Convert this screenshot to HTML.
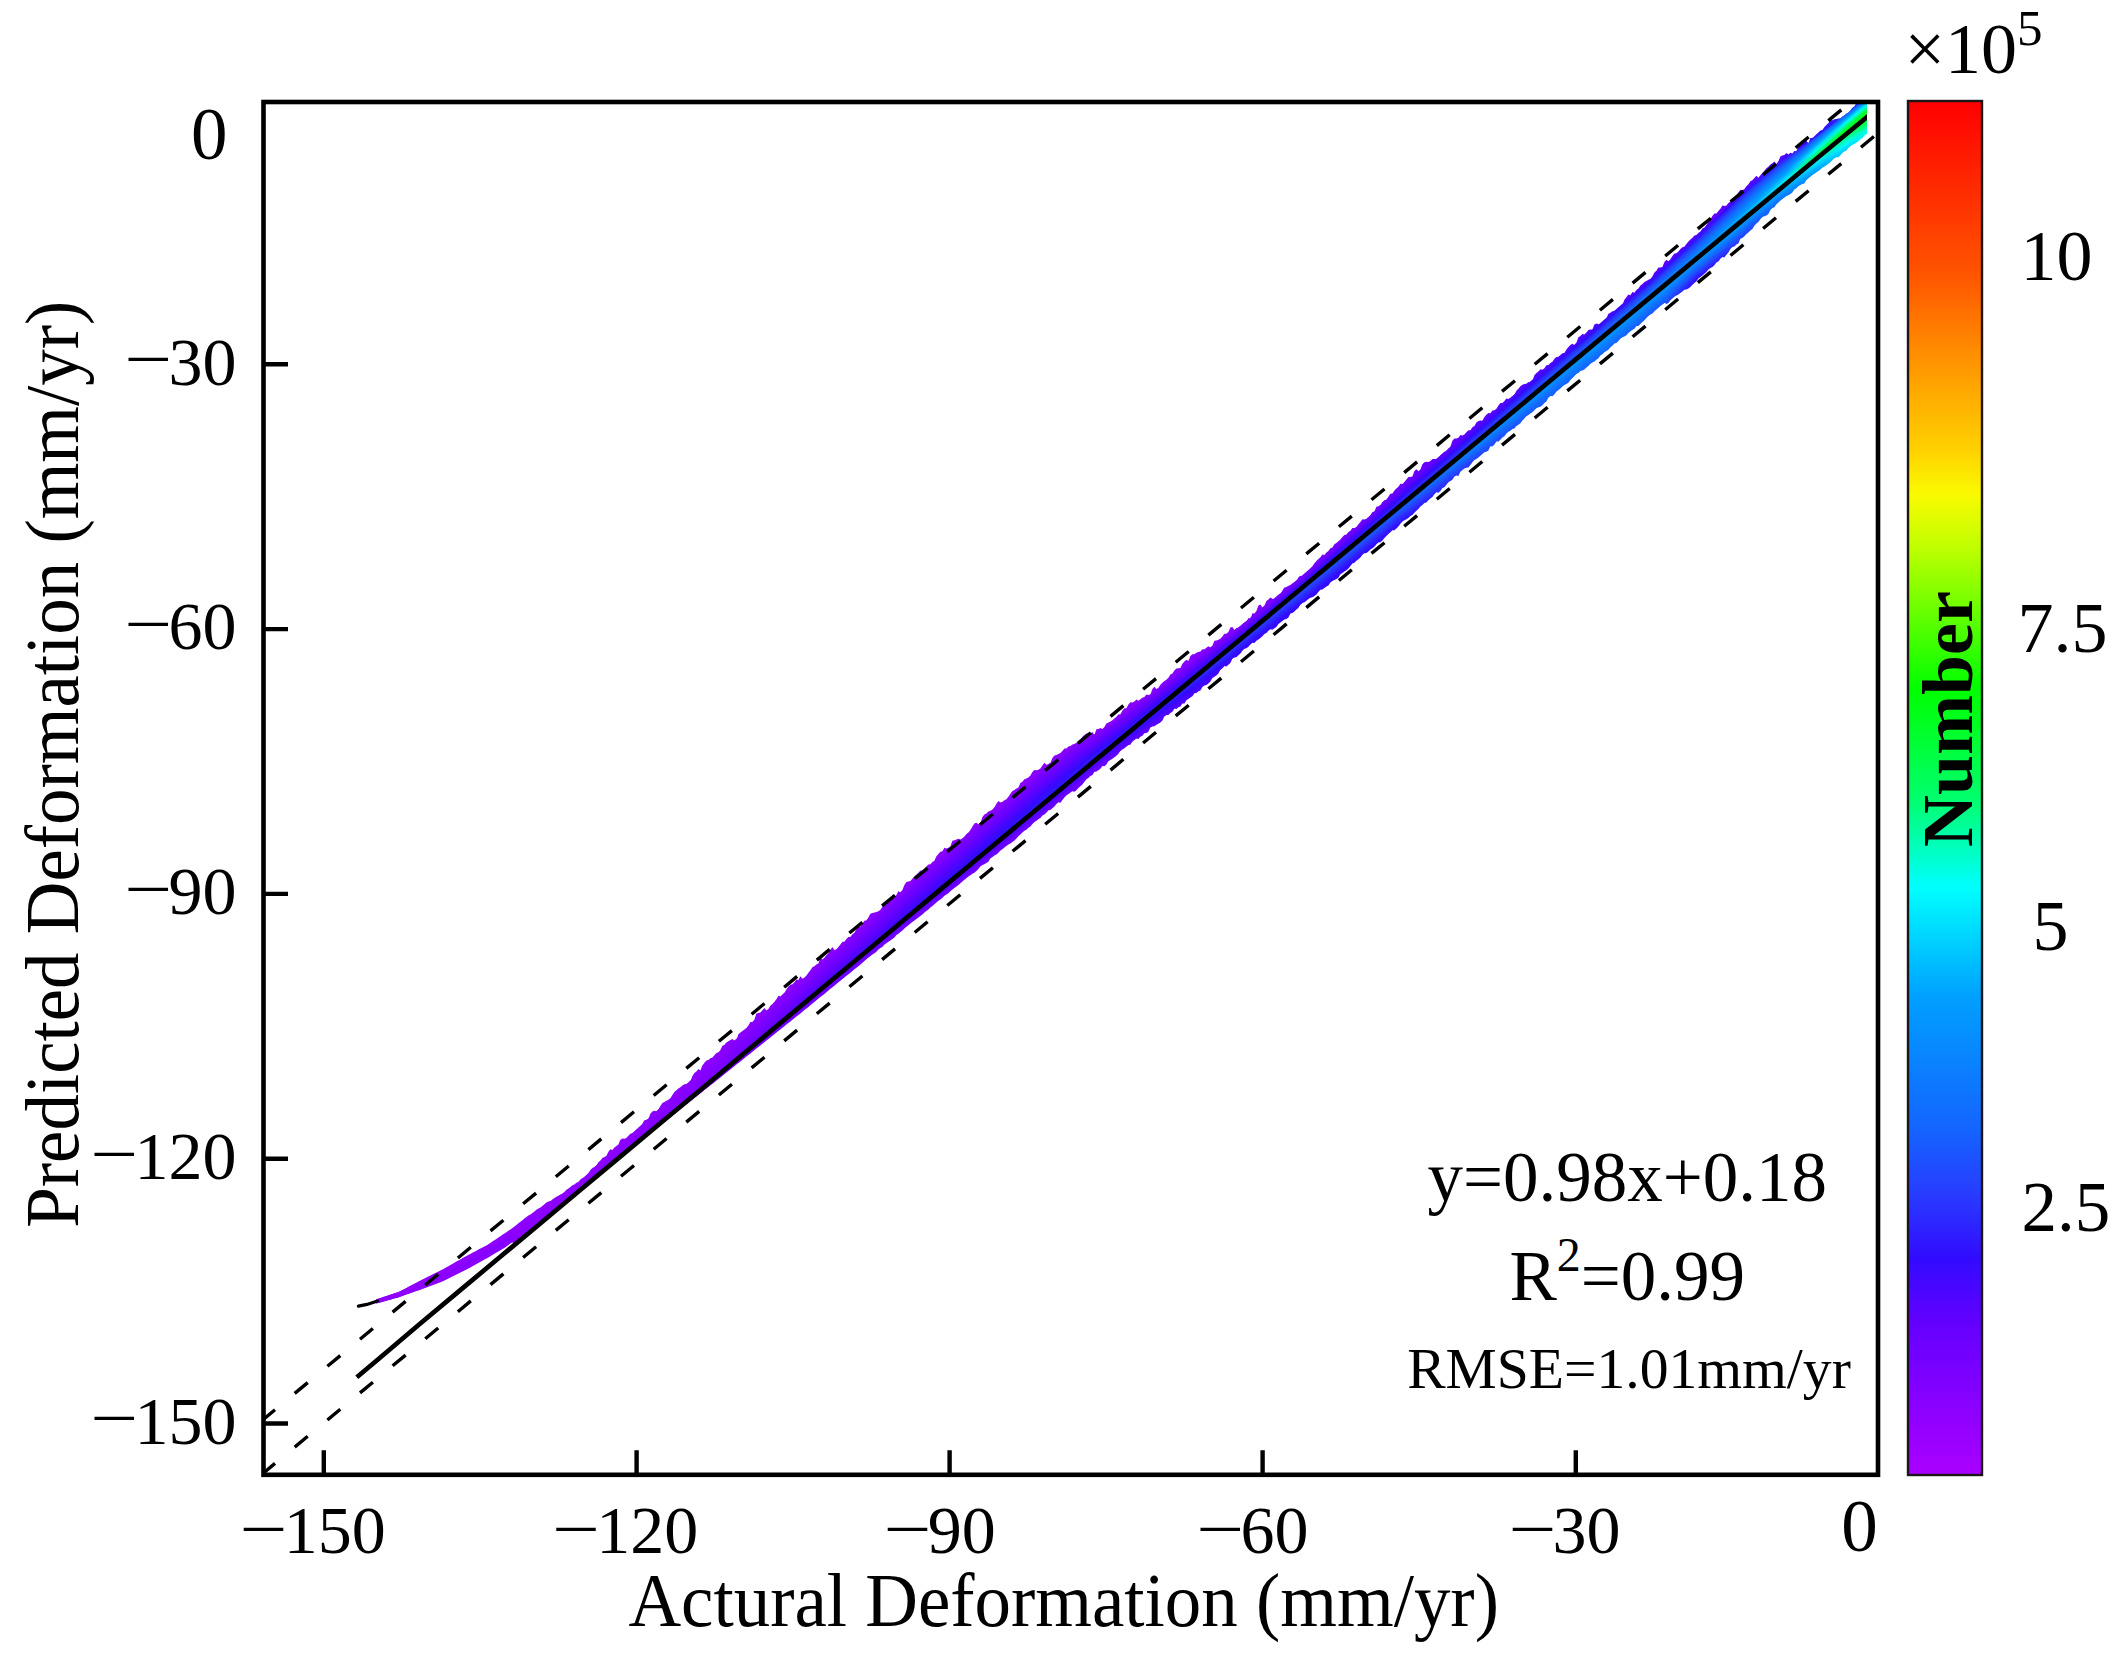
<!DOCTYPE html>
<html><head><meta charset="utf-8"><title>Predicted vs Actual Deformation</title>
<style>html,body{margin:0;padding:0;background:#fff;width:2128px;height:1659px;overflow:hidden}svg{display:block}text{font-family:"Liberation Serif","Times New Roman",serif;fill:#000}</style>
</head><body>
<svg width="2128" height="1659" viewBox="0 0 2128 1659">
<defs><clipPath id="clip"><rect x="263.5" y="102.0" width="1603.5" height="1372.8"/></clipPath>
<clipPath id="clipf"><rect x="263.5" y="102.0" width="1614.5" height="1372.8"/></clipPath>
<linearGradient id="cb" x1="0" y1="0" x2="0" y2="1"><stop offset="0.0000" stop-color="#ff0000"/><stop offset="0.1265" stop-color="#ff5500"/><stop offset="0.1817" stop-color="#ff8c00"/><stop offset="0.2544" stop-color="#ffd200"/><stop offset="0.2863" stop-color="#fafa00"/><stop offset="0.3256" stop-color="#beff00"/><stop offset="0.4281" stop-color="#00ff00"/><stop offset="0.5087" stop-color="#00ff6e"/><stop offset="0.5727" stop-color="#00ffff"/><stop offset="0.6519" stop-color="#00a0ff"/><stop offset="0.7485" stop-color="#1464ff"/><stop offset="0.7958" stop-color="#283cff"/><stop offset="0.8430" stop-color="#320aff"/><stop offset="0.8903" stop-color="#6400ff"/><stop offset="1.0000" stop-color="#aa00ff"/></linearGradient>
<linearGradient id="gu0" gradientUnits="userSpaceOnUse" x1="376" y1="0" x2="1867" y2="0"><stop offset="0.0000" stop-color="#9000ff"/><stop offset="0.0201" stop-color="#9000ff"/><stop offset="0.0402" stop-color="#9000ff"/><stop offset="0.0604" stop-color="#8f00ff"/><stop offset="0.0805" stop-color="#8f00ff"/><stop offset="0.1006" stop-color="#8e00ff"/><stop offset="0.1207" stop-color="#8e00ff"/><stop offset="0.1408" stop-color="#8d00ff"/><stop offset="0.1610" stop-color="#8d00ff"/><stop offset="0.1811" stop-color="#8c00ff"/><stop offset="0.2012" stop-color="#8c00ff"/><stop offset="0.2213" stop-color="#8c00ff"/><stop offset="0.2414" stop-color="#8b00ff"/><stop offset="0.2616" stop-color="#8b00ff"/><stop offset="0.2817" stop-color="#8a00ff"/><stop offset="0.3018" stop-color="#8a00ff"/><stop offset="0.3219" stop-color="#8a00ff"/><stop offset="0.3421" stop-color="#8a00ff"/><stop offset="0.3622" stop-color="#8a00ff"/><stop offset="0.3823" stop-color="#8a00ff"/><stop offset="0.4024" stop-color="#8a00ff"/><stop offset="0.4225" stop-color="#8a00ff"/><stop offset="0.4427" stop-color="#8a00ff"/><stop offset="0.4628" stop-color="#8a00ff"/><stop offset="0.4829" stop-color="#8a00ff"/><stop offset="0.5030" stop-color="#8900ff"/><stop offset="0.5231" stop-color="#8800ff"/><stop offset="0.5433" stop-color="#8600ff"/><stop offset="0.5634" stop-color="#8500ff"/><stop offset="0.5835" stop-color="#8300ff"/><stop offset="0.6036" stop-color="#7e00ff"/><stop offset="0.6237" stop-color="#7900ff"/><stop offset="0.6439" stop-color="#7400ff"/><stop offset="0.6640" stop-color="#7000ff"/><stop offset="0.6841" stop-color="#6b00ff"/><stop offset="0.7042" stop-color="#6700ff"/><stop offset="0.7243" stop-color="#6200ff"/><stop offset="0.7445" stop-color="#5c02ff"/><stop offset="0.7646" stop-color="#5703ff"/><stop offset="0.7847" stop-color="#5403ff"/><stop offset="0.8048" stop-color="#5104ff"/><stop offset="0.8249" stop-color="#5004ff"/><stop offset="0.8451" stop-color="#5603ff"/><stop offset="0.8652" stop-color="#5d01ff"/><stop offset="0.8853" stop-color="#6300ff"/><stop offset="0.9054" stop-color="#5d01ff"/><stop offset="0.9256" stop-color="#5503ff"/><stop offset="0.9457" stop-color="#4905ff"/><stop offset="0.9658" stop-color="#320cff"/><stop offset="0.9859" stop-color="#2c26ff"/><stop offset="1.0000" stop-color="#2938ff"/></linearGradient><linearGradient id="gl0" gradientUnits="userSpaceOnUse" x1="376" y1="0" x2="1867" y2="0"><stop offset="0.0000" stop-color="#9000ff"/><stop offset="0.0201" stop-color="#8f00ff"/><stop offset="0.0402" stop-color="#8d00ff"/><stop offset="0.0604" stop-color="#8b00ff"/><stop offset="0.0805" stop-color="#8900ff"/><stop offset="0.1006" stop-color="#8700ff"/><stop offset="0.1207" stop-color="#8600ff"/><stop offset="0.1408" stop-color="#8400ff"/><stop offset="0.1610" stop-color="#8200ff"/><stop offset="0.1811" stop-color="#8000ff"/><stop offset="0.2012" stop-color="#7e00ff"/><stop offset="0.2213" stop-color="#7d00ff"/><stop offset="0.2414" stop-color="#7b00ff"/><stop offset="0.2616" stop-color="#7900ff"/><stop offset="0.2817" stop-color="#7700ff"/><stop offset="0.3018" stop-color="#7600ff"/><stop offset="0.3219" stop-color="#7500ff"/><stop offset="0.3421" stop-color="#7300ff"/><stop offset="0.3622" stop-color="#7200ff"/><stop offset="0.3823" stop-color="#7100ff"/><stop offset="0.4024" stop-color="#6f00ff"/><stop offset="0.4225" stop-color="#6e00ff"/><stop offset="0.4427" stop-color="#6d00ff"/><stop offset="0.4628" stop-color="#6c00ff"/><stop offset="0.4829" stop-color="#6a00ff"/><stop offset="0.5030" stop-color="#6400ff"/><stop offset="0.5231" stop-color="#5902ff"/><stop offset="0.5433" stop-color="#4e04ff"/><stop offset="0.5634" stop-color="#4207ff"/><stop offset="0.5835" stop-color="#3909ff"/><stop offset="0.6036" stop-color="#3709ff"/><stop offset="0.6237" stop-color="#3509ff"/><stop offset="0.6439" stop-color="#330aff"/><stop offset="0.6640" stop-color="#320bff"/><stop offset="0.6841" stop-color="#310dff"/><stop offset="0.7042" stop-color="#2e20ff"/><stop offset="0.7243" stop-color="#2937ff"/><stop offset="0.7445" stop-color="#214aff"/><stop offset="0.7646" stop-color="#1b56ff"/><stop offset="0.7847" stop-color="#175eff"/><stop offset="0.8048" stop-color="#1465ff"/><stop offset="0.8249" stop-color="#1368ff"/><stop offset="0.8451" stop-color="#1561ff"/><stop offset="0.8652" stop-color="#1f4fff"/><stop offset="0.8853" stop-color="#320cff"/><stop offset="0.9054" stop-color="#2b2cff"/><stop offset="0.9256" stop-color="#1b55ff"/><stop offset="0.9457" stop-color="#0e76ff"/><stop offset="0.9658" stop-color="#0299ff"/><stop offset="0.9859" stop-color="#00d4ff"/><stop offset="1.0000" stop-color="#00fff9"/></linearGradient><linearGradient id="gu1" gradientUnits="userSpaceOnUse" x1="376" y1="0" x2="1867" y2="0"><stop offset="0.0000" stop-color="#9000ff"/><stop offset="0.0201" stop-color="#9000ff"/><stop offset="0.0402" stop-color="#8f00ff"/><stop offset="0.0604" stop-color="#8f00ff"/><stop offset="0.0805" stop-color="#8e00ff"/><stop offset="0.1006" stop-color="#8e00ff"/><stop offset="0.1207" stop-color="#8d00ff"/><stop offset="0.1408" stop-color="#8d00ff"/><stop offset="0.1610" stop-color="#8c00ff"/><stop offset="0.1811" stop-color="#8b00ff"/><stop offset="0.2012" stop-color="#8b00ff"/><stop offset="0.2213" stop-color="#8a00ff"/><stop offset="0.2414" stop-color="#8900ff"/><stop offset="0.2616" stop-color="#8700ff"/><stop offset="0.2817" stop-color="#8600ff"/><stop offset="0.3018" stop-color="#8500ff"/><stop offset="0.3219" stop-color="#8300ff"/><stop offset="0.3421" stop-color="#8100ff"/><stop offset="0.3622" stop-color="#8000ff"/><stop offset="0.3823" stop-color="#7f00ff"/><stop offset="0.4024" stop-color="#7f00ff"/><stop offset="0.4225" stop-color="#7e00ff"/><stop offset="0.4427" stop-color="#7e00ff"/><stop offset="0.4628" stop-color="#7e00ff"/><stop offset="0.4829" stop-color="#7d00ff"/><stop offset="0.5030" stop-color="#7c00ff"/><stop offset="0.5231" stop-color="#7c00ff"/><stop offset="0.5433" stop-color="#7c00ff"/><stop offset="0.5634" stop-color="#7c00ff"/><stop offset="0.5835" stop-color="#7b00ff"/><stop offset="0.6036" stop-color="#7700ff"/><stop offset="0.6237" stop-color="#7300ff"/><stop offset="0.6439" stop-color="#6f00ff"/><stop offset="0.6640" stop-color="#6a00ff"/><stop offset="0.6841" stop-color="#6600ff"/><stop offset="0.7042" stop-color="#6101ff"/><stop offset="0.7243" stop-color="#5a02ff"/><stop offset="0.7445" stop-color="#5303ff"/><stop offset="0.7646" stop-color="#4d05ff"/><stop offset="0.7847" stop-color="#4806ff"/><stop offset="0.8048" stop-color="#4307ff"/><stop offset="0.8249" stop-color="#3e08ff"/><stop offset="0.8451" stop-color="#4007ff"/><stop offset="0.8652" stop-color="#4107ff"/><stop offset="0.8853" stop-color="#4107ff"/><stop offset="0.9054" stop-color="#340aff"/><stop offset="0.9256" stop-color="#2f19ff"/><stop offset="0.9457" stop-color="#2b2dff"/><stop offset="0.9658" stop-color="#1c54ff"/><stop offset="0.9859" stop-color="#106fff"/><stop offset="1.0000" stop-color="#0c7cff"/></linearGradient><linearGradient id="gl1" gradientUnits="userSpaceOnUse" x1="376" y1="0" x2="1867" y2="0"><stop offset="0.0000" stop-color="#9000ff"/><stop offset="0.0201" stop-color="#8f00ff"/><stop offset="0.0402" stop-color="#8d00ff"/><stop offset="0.0604" stop-color="#8b00ff"/><stop offset="0.0805" stop-color="#8900ff"/><stop offset="0.1006" stop-color="#8700ff"/><stop offset="0.1207" stop-color="#8500ff"/><stop offset="0.1408" stop-color="#8300ff"/><stop offset="0.1610" stop-color="#8100ff"/><stop offset="0.1811" stop-color="#7f00ff"/><stop offset="0.2012" stop-color="#7d00ff"/><stop offset="0.2213" stop-color="#7b00ff"/><stop offset="0.2414" stop-color="#7900ff"/><stop offset="0.2616" stop-color="#7700ff"/><stop offset="0.2817" stop-color="#7500ff"/><stop offset="0.3018" stop-color="#7400ff"/><stop offset="0.3219" stop-color="#7200ff"/><stop offset="0.3421" stop-color="#7100ff"/><stop offset="0.3622" stop-color="#7000ff"/><stop offset="0.3823" stop-color="#6f00ff"/><stop offset="0.4024" stop-color="#6d00ff"/><stop offset="0.4225" stop-color="#6c00ff"/><stop offset="0.4427" stop-color="#6b00ff"/><stop offset="0.4628" stop-color="#6900ff"/><stop offset="0.4829" stop-color="#6800ff"/><stop offset="0.5030" stop-color="#6101ff"/><stop offset="0.5231" stop-color="#5503ff"/><stop offset="0.5433" stop-color="#4a05ff"/><stop offset="0.5634" stop-color="#3e08ff"/><stop offset="0.5835" stop-color="#340aff"/><stop offset="0.6036" stop-color="#320aff"/><stop offset="0.6237" stop-color="#310dff"/><stop offset="0.6439" stop-color="#310fff"/><stop offset="0.6640" stop-color="#3012ff"/><stop offset="0.6841" stop-color="#3014ff"/><stop offset="0.7042" stop-color="#2c28ff"/><stop offset="0.7243" stop-color="#273eff"/><stop offset="0.7445" stop-color="#1e4fff"/><stop offset="0.7646" stop-color="#185cff"/><stop offset="0.7847" stop-color="#1563ff"/><stop offset="0.8048" stop-color="#1269ff"/><stop offset="0.8249" stop-color="#116cff"/><stop offset="0.8451" stop-color="#1366ff"/><stop offset="0.8652" stop-color="#1b56ff"/><stop offset="0.8853" stop-color="#2f19ff"/><stop offset="0.9054" stop-color="#2937ff"/><stop offset="0.9256" stop-color="#185dff"/><stop offset="0.9457" stop-color="#0c7bff"/><stop offset="0.9658" stop-color="#019dff"/><stop offset="0.9859" stop-color="#00ddff"/><stop offset="1.0000" stop-color="#00ffe5"/></linearGradient><linearGradient id="gu2" gradientUnits="userSpaceOnUse" x1="376" y1="0" x2="1867" y2="0"><stop offset="0.0000" stop-color="#9000ff"/><stop offset="0.0201" stop-color="#9000ff"/><stop offset="0.0402" stop-color="#8f00ff"/><stop offset="0.0604" stop-color="#8e00ff"/><stop offset="0.0805" stop-color="#8e00ff"/><stop offset="0.1006" stop-color="#8d00ff"/><stop offset="0.1207" stop-color="#8c00ff"/><stop offset="0.1408" stop-color="#8c00ff"/><stop offset="0.1610" stop-color="#8b00ff"/><stop offset="0.1811" stop-color="#8a00ff"/><stop offset="0.2012" stop-color="#8a00ff"/><stop offset="0.2213" stop-color="#8800ff"/><stop offset="0.2414" stop-color="#8600ff"/><stop offset="0.2616" stop-color="#8300ff"/><stop offset="0.2817" stop-color="#8100ff"/><stop offset="0.3018" stop-color="#7f00ff"/><stop offset="0.3219" stop-color="#7c00ff"/><stop offset="0.3421" stop-color="#7a00ff"/><stop offset="0.3622" stop-color="#7800ff"/><stop offset="0.3823" stop-color="#7700ff"/><stop offset="0.4024" stop-color="#7600ff"/><stop offset="0.4225" stop-color="#7500ff"/><stop offset="0.4427" stop-color="#7400ff"/><stop offset="0.4628" stop-color="#7400ff"/><stop offset="0.4829" stop-color="#7300ff"/><stop offset="0.5030" stop-color="#7200ff"/><stop offset="0.5231" stop-color="#7200ff"/><stop offset="0.5433" stop-color="#7300ff"/><stop offset="0.5634" stop-color="#7400ff"/><stop offset="0.5835" stop-color="#7300ff"/><stop offset="0.6036" stop-color="#7000ff"/><stop offset="0.6237" stop-color="#6c00ff"/><stop offset="0.6439" stop-color="#6800ff"/><stop offset="0.6640" stop-color="#6400ff"/><stop offset="0.6841" stop-color="#5d01ff"/><stop offset="0.7042" stop-color="#5703ff"/><stop offset="0.7243" stop-color="#5004ff"/><stop offset="0.7445" stop-color="#4806ff"/><stop offset="0.7646" stop-color="#4107ff"/><stop offset="0.7847" stop-color="#3a08ff"/><stop offset="0.8048" stop-color="#330aff"/><stop offset="0.8249" stop-color="#310fff"/><stop offset="0.8451" stop-color="#3111ff"/><stop offset="0.8652" stop-color="#3013ff"/><stop offset="0.8853" stop-color="#2f17ff"/><stop offset="0.9054" stop-color="#2c29ff"/><stop offset="0.9256" stop-color="#283dff"/><stop offset="0.9457" stop-color="#1d51ff"/><stop offset="0.9658" stop-color="#0e77ff"/><stop offset="0.9859" stop-color="#0592ff"/><stop offset="1.0000" stop-color="#009fff"/></linearGradient><linearGradient id="gl2" gradientUnits="userSpaceOnUse" x1="376" y1="0" x2="1867" y2="0"><stop offset="0.0000" stop-color="#9000ff"/><stop offset="0.0201" stop-color="#8e00ff"/><stop offset="0.0402" stop-color="#8c00ff"/><stop offset="0.0604" stop-color="#8a00ff"/><stop offset="0.0805" stop-color="#8800ff"/><stop offset="0.1006" stop-color="#8600ff"/><stop offset="0.1207" stop-color="#8400ff"/><stop offset="0.1408" stop-color="#8100ff"/><stop offset="0.1610" stop-color="#7f00ff"/><stop offset="0.1811" stop-color="#7d00ff"/><stop offset="0.2012" stop-color="#7b00ff"/><stop offset="0.2213" stop-color="#7900ff"/><stop offset="0.2414" stop-color="#7700ff"/><stop offset="0.2616" stop-color="#7500ff"/><stop offset="0.2817" stop-color="#7200ff"/><stop offset="0.3018" stop-color="#7100ff"/><stop offset="0.3219" stop-color="#7000ff"/><stop offset="0.3421" stop-color="#6e00ff"/><stop offset="0.3622" stop-color="#6d00ff"/><stop offset="0.3823" stop-color="#6b00ff"/><stop offset="0.4024" stop-color="#6a00ff"/><stop offset="0.4225" stop-color="#6900ff"/><stop offset="0.4427" stop-color="#6700ff"/><stop offset="0.4628" stop-color="#6600ff"/><stop offset="0.4829" stop-color="#6500ff"/><stop offset="0.5030" stop-color="#5b02ff"/><stop offset="0.5231" stop-color="#5004ff"/><stop offset="0.5433" stop-color="#4406ff"/><stop offset="0.5634" stop-color="#3809ff"/><stop offset="0.5835" stop-color="#310eff"/><stop offset="0.6036" stop-color="#3111ff"/><stop offset="0.6237" stop-color="#3014ff"/><stop offset="0.6439" stop-color="#2f17ff"/><stop offset="0.6640" stop-color="#2f1bff"/><stop offset="0.6841" stop-color="#2e1eff"/><stop offset="0.7042" stop-color="#2a32ff"/><stop offset="0.7243" stop-color="#2346ff"/><stop offset="0.7445" stop-color="#1a58ff"/><stop offset="0.7646" stop-color="#1464ff"/><stop offset="0.7847" stop-color="#1269ff"/><stop offset="0.8048" stop-color="#116eff"/><stop offset="0.8249" stop-color="#1071ff"/><stop offset="0.8451" stop-color="#116cff"/><stop offset="0.8652" stop-color="#175fff"/><stop offset="0.8853" stop-color="#2b2bff"/><stop offset="0.9054" stop-color="#2345ff"/><stop offset="0.9256" stop-color="#1366ff"/><stop offset="0.9457" stop-color="#0a81ff"/><stop offset="0.9658" stop-color="#00a5ff"/><stop offset="0.9859" stop-color="#00eaff"/><stop offset="1.0000" stop-color="#00ffc9"/></linearGradient><linearGradient id="gu3" gradientUnits="userSpaceOnUse" x1="376" y1="0" x2="1867" y2="0"><stop offset="0.0000" stop-color="#9000ff"/><stop offset="0.0201" stop-color="#9000ff"/><stop offset="0.0402" stop-color="#8f00ff"/><stop offset="0.0604" stop-color="#8e00ff"/><stop offset="0.0805" stop-color="#8d00ff"/><stop offset="0.1006" stop-color="#8c00ff"/><stop offset="0.1207" stop-color="#8c00ff"/><stop offset="0.1408" stop-color="#8b00ff"/><stop offset="0.1610" stop-color="#8a00ff"/><stop offset="0.1811" stop-color="#8900ff"/><stop offset="0.2012" stop-color="#8800ff"/><stop offset="0.2213" stop-color="#8700ff"/><stop offset="0.2414" stop-color="#8300ff"/><stop offset="0.2616" stop-color="#7f00ff"/><stop offset="0.2817" stop-color="#7b00ff"/><stop offset="0.3018" stop-color="#7900ff"/><stop offset="0.3219" stop-color="#7600ff"/><stop offset="0.3421" stop-color="#7300ff"/><stop offset="0.3622" stop-color="#7000ff"/><stop offset="0.3823" stop-color="#6f00ff"/><stop offset="0.4024" stop-color="#6d00ff"/><stop offset="0.4225" stop-color="#6c00ff"/><stop offset="0.4427" stop-color="#6b00ff"/><stop offset="0.4628" stop-color="#6a00ff"/><stop offset="0.4829" stop-color="#6a00ff"/><stop offset="0.5030" stop-color="#6900ff"/><stop offset="0.5231" stop-color="#6900ff"/><stop offset="0.5433" stop-color="#6b00ff"/><stop offset="0.5634" stop-color="#6c00ff"/><stop offset="0.5835" stop-color="#6c00ff"/><stop offset="0.6036" stop-color="#6900ff"/><stop offset="0.6237" stop-color="#6500ff"/><stop offset="0.6439" stop-color="#5f01ff"/><stop offset="0.6640" stop-color="#5902ff"/><stop offset="0.6841" stop-color="#5204ff"/><stop offset="0.7042" stop-color="#4b05ff"/><stop offset="0.7243" stop-color="#4406ff"/><stop offset="0.7445" stop-color="#3c08ff"/><stop offset="0.7646" stop-color="#340aff"/><stop offset="0.7847" stop-color="#3110ff"/><stop offset="0.8048" stop-color="#2f18ff"/><stop offset="0.8249" stop-color="#2e20ff"/><stop offset="0.8451" stop-color="#2d25ff"/><stop offset="0.8652" stop-color="#2c2aff"/><stop offset="0.8853" stop-color="#2a31ff"/><stop offset="0.9054" stop-color="#2444ff"/><stop offset="0.9256" stop-color="#1a57ff"/><stop offset="0.9457" stop-color="#116cff"/><stop offset="0.9658" stop-color="#0591ff"/><stop offset="0.9859" stop-color="#00beff"/><stop offset="1.0000" stop-color="#00d8ff"/></linearGradient><linearGradient id="gl3" gradientUnits="userSpaceOnUse" x1="376" y1="0" x2="1867" y2="0"><stop offset="0.0000" stop-color="#9000ff"/><stop offset="0.0201" stop-color="#8e00ff"/><stop offset="0.0402" stop-color="#8c00ff"/><stop offset="0.0604" stop-color="#8900ff"/><stop offset="0.0805" stop-color="#8700ff"/><stop offset="0.1006" stop-color="#8500ff"/><stop offset="0.1207" stop-color="#8200ff"/><stop offset="0.1408" stop-color="#8000ff"/><stop offset="0.1610" stop-color="#7d00ff"/><stop offset="0.1811" stop-color="#7b00ff"/><stop offset="0.2012" stop-color="#7900ff"/><stop offset="0.2213" stop-color="#7600ff"/><stop offset="0.2414" stop-color="#7400ff"/><stop offset="0.2616" stop-color="#7200ff"/><stop offset="0.2817" stop-color="#6f00ff"/><stop offset="0.3018" stop-color="#6e00ff"/><stop offset="0.3219" stop-color="#6c00ff"/><stop offset="0.3421" stop-color="#6b00ff"/><stop offset="0.3622" stop-color="#6900ff"/><stop offset="0.3823" stop-color="#6800ff"/><stop offset="0.4024" stop-color="#6600ff"/><stop offset="0.4225" stop-color="#6500ff"/><stop offset="0.4427" stop-color="#6400ff"/><stop offset="0.4628" stop-color="#6200ff"/><stop offset="0.4829" stop-color="#6001ff"/><stop offset="0.5030" stop-color="#5503ff"/><stop offset="0.5231" stop-color="#4905ff"/><stop offset="0.5433" stop-color="#3d08ff"/><stop offset="0.5634" stop-color="#320bff"/><stop offset="0.5835" stop-color="#3015ff"/><stop offset="0.6036" stop-color="#2f19ff"/><stop offset="0.6237" stop-color="#2e1dff"/><stop offset="0.6439" stop-color="#2d21ff"/><stop offset="0.6640" stop-color="#2d25ff"/><stop offset="0.6841" stop-color="#2c29ff"/><stop offset="0.7042" stop-color="#283dff"/><stop offset="0.7243" stop-color="#1f4fff"/><stop offset="0.7445" stop-color="#1561ff"/><stop offset="0.7646" stop-color="#126aff"/><stop offset="0.7847" stop-color="#106fff"/><stop offset="0.8048" stop-color="#0f74ff"/><stop offset="0.8249" stop-color="#0e77ff"/><stop offset="0.8451" stop-color="#0f72ff"/><stop offset="0.8652" stop-color="#1368ff"/><stop offset="0.8853" stop-color="#273fff"/><stop offset="0.9054" stop-color="#1c54ff"/><stop offset="0.9256" stop-color="#106fff"/><stop offset="0.9457" stop-color="#0888ff"/><stop offset="0.9658" stop-color="#00b2ff"/><stop offset="0.9859" stop-color="#00f9ff"/><stop offset="1.0000" stop-color="#00ffa9"/></linearGradient><linearGradient id="gu4" gradientUnits="userSpaceOnUse" x1="376" y1="0" x2="1867" y2="0"><stop offset="0.0000" stop-color="#9000ff"/><stop offset="0.0201" stop-color="#9000ff"/><stop offset="0.0402" stop-color="#8f00ff"/><stop offset="0.0604" stop-color="#8e00ff"/><stop offset="0.0805" stop-color="#8d00ff"/><stop offset="0.1006" stop-color="#8c00ff"/><stop offset="0.1207" stop-color="#8b00ff"/><stop offset="0.1408" stop-color="#8a00ff"/><stop offset="0.1610" stop-color="#8900ff"/><stop offset="0.1811" stop-color="#8800ff"/><stop offset="0.2012" stop-color="#8700ff"/><stop offset="0.2213" stop-color="#8500ff"/><stop offset="0.2414" stop-color="#8000ff"/><stop offset="0.2616" stop-color="#7b00ff"/><stop offset="0.2817" stop-color="#7600ff"/><stop offset="0.3018" stop-color="#7300ff"/><stop offset="0.3219" stop-color="#6f00ff"/><stop offset="0.3421" stop-color="#6c00ff"/><stop offset="0.3622" stop-color="#6900ff"/><stop offset="0.3823" stop-color="#6700ff"/><stop offset="0.4024" stop-color="#6500ff"/><stop offset="0.4225" stop-color="#6300ff"/><stop offset="0.4427" stop-color="#6200ff"/><stop offset="0.4628" stop-color="#6001ff"/><stop offset="0.4829" stop-color="#5e01ff"/><stop offset="0.5030" stop-color="#5e01ff"/><stop offset="0.5231" stop-color="#5f01ff"/><stop offset="0.5433" stop-color="#6101ff"/><stop offset="0.5634" stop-color="#6300ff"/><stop offset="0.5835" stop-color="#6400ff"/><stop offset="0.6036" stop-color="#5f01ff"/><stop offset="0.6237" stop-color="#5902ff"/><stop offset="0.6439" stop-color="#5303ff"/><stop offset="0.6640" stop-color="#4d05ff"/><stop offset="0.6841" stop-color="#4606ff"/><stop offset="0.7042" stop-color="#3f07ff"/><stop offset="0.7243" stop-color="#3809ff"/><stop offset="0.7445" stop-color="#310dff"/><stop offset="0.7646" stop-color="#3016ff"/><stop offset="0.7847" stop-color="#2e1fff"/><stop offset="0.8048" stop-color="#2c28ff"/><stop offset="0.8249" stop-color="#2a31ff"/><stop offset="0.8451" stop-color="#2938ff"/><stop offset="0.8652" stop-color="#2640ff"/><stop offset="0.8853" stop-color="#2247ff"/><stop offset="0.9054" stop-color="#195aff"/><stop offset="0.9256" stop-color="#116dff"/><stop offset="0.9457" stop-color="#0b7fff"/><stop offset="0.9658" stop-color="#00b3ff"/><stop offset="0.9859" stop-color="#00f2ff"/><stop offset="1.0000" stop-color="#00ffe7"/></linearGradient><linearGradient id="gl4" gradientUnits="userSpaceOnUse" x1="376" y1="0" x2="1867" y2="0"><stop offset="0.0000" stop-color="#9000ff"/><stop offset="0.0201" stop-color="#8e00ff"/><stop offset="0.0402" stop-color="#8b00ff"/><stop offset="0.0604" stop-color="#8900ff"/><stop offset="0.0805" stop-color="#8600ff"/><stop offset="0.1006" stop-color="#8300ff"/><stop offset="0.1207" stop-color="#8100ff"/><stop offset="0.1408" stop-color="#7e00ff"/><stop offset="0.1610" stop-color="#7b00ff"/><stop offset="0.1811" stop-color="#7900ff"/><stop offset="0.2012" stop-color="#7600ff"/><stop offset="0.2213" stop-color="#7400ff"/><stop offset="0.2414" stop-color="#7100ff"/><stop offset="0.2616" stop-color="#6e00ff"/><stop offset="0.2817" stop-color="#6c00ff"/><stop offset="0.3018" stop-color="#6a00ff"/><stop offset="0.3219" stop-color="#6900ff"/><stop offset="0.3421" stop-color="#6700ff"/><stop offset="0.3622" stop-color="#6600ff"/><stop offset="0.3823" stop-color="#6400ff"/><stop offset="0.4024" stop-color="#6200ff"/><stop offset="0.4225" stop-color="#5f01ff"/><stop offset="0.4427" stop-color="#5d01ff"/><stop offset="0.4628" stop-color="#5b02ff"/><stop offset="0.4829" stop-color="#5902ff"/><stop offset="0.5030" stop-color="#4f04ff"/><stop offset="0.5231" stop-color="#4207ff"/><stop offset="0.5433" stop-color="#3609ff"/><stop offset="0.5634" stop-color="#3012ff"/><stop offset="0.5835" stop-color="#2e1dff"/><stop offset="0.6036" stop-color="#2d22ff"/><stop offset="0.6237" stop-color="#2c26ff"/><stop offset="0.6439" stop-color="#2b2bff"/><stop offset="0.6640" stop-color="#2a30ff"/><stop offset="0.6841" stop-color="#2935ff"/><stop offset="0.7042" stop-color="#2347ff"/><stop offset="0.7243" stop-color="#1959ff"/><stop offset="0.7445" stop-color="#1269ff"/><stop offset="0.7646" stop-color="#0f72ff"/><stop offset="0.7847" stop-color="#0e76ff"/><stop offset="0.8048" stop-color="#0d7aff"/><stop offset="0.8249" stop-color="#0c7dff"/><stop offset="0.8451" stop-color="#0d79ff"/><stop offset="0.8652" stop-color="#1070ff"/><stop offset="0.8853" stop-color="#1e50ff"/><stop offset="0.9054" stop-color="#1464ff"/><stop offset="0.9256" stop-color="#0d78ff"/><stop offset="0.9457" stop-color="#068fff"/><stop offset="0.9658" stop-color="#00c0ff"/><stop offset="0.9859" stop-color="#00ffed"/><stop offset="1.0000" stop-color="#00ff86"/></linearGradient><linearGradient id="gu5" gradientUnits="userSpaceOnUse" x1="376" y1="0" x2="1867" y2="0"><stop offset="0.0000" stop-color="#9000ff"/><stop offset="0.0201" stop-color="#8f00ff"/><stop offset="0.0402" stop-color="#8e00ff"/><stop offset="0.0604" stop-color="#8d00ff"/><stop offset="0.0805" stop-color="#8c00ff"/><stop offset="0.1006" stop-color="#8b00ff"/><stop offset="0.1207" stop-color="#8a00ff"/><stop offset="0.1408" stop-color="#8900ff"/><stop offset="0.1610" stop-color="#8700ff"/><stop offset="0.1811" stop-color="#8600ff"/><stop offset="0.2012" stop-color="#8500ff"/><stop offset="0.2213" stop-color="#8300ff"/><stop offset="0.2414" stop-color="#7d00ff"/><stop offset="0.2616" stop-color="#7700ff"/><stop offset="0.2817" stop-color="#7000ff"/><stop offset="0.3018" stop-color="#6d00ff"/><stop offset="0.3219" stop-color="#6900ff"/><stop offset="0.3421" stop-color="#6500ff"/><stop offset="0.3622" stop-color="#6101ff"/><stop offset="0.3823" stop-color="#5d01ff"/><stop offset="0.4024" stop-color="#5902ff"/><stop offset="0.4225" stop-color="#5603ff"/><stop offset="0.4427" stop-color="#5403ff"/><stop offset="0.4628" stop-color="#5204ff"/><stop offset="0.4829" stop-color="#5004ff"/><stop offset="0.5030" stop-color="#5004ff"/><stop offset="0.5231" stop-color="#5104ff"/><stop offset="0.5433" stop-color="#5403ff"/><stop offset="0.5634" stop-color="#5603ff"/><stop offset="0.5835" stop-color="#5703ff"/><stop offset="0.6036" stop-color="#5204ff"/><stop offset="0.6237" stop-color="#4d05ff"/><stop offset="0.6439" stop-color="#4606ff"/><stop offset="0.6640" stop-color="#4007ff"/><stop offset="0.6841" stop-color="#3a08ff"/><stop offset="0.7042" stop-color="#330aff"/><stop offset="0.7243" stop-color="#3111ff"/><stop offset="0.7445" stop-color="#2f1aff"/><stop offset="0.7646" stop-color="#2d24ff"/><stop offset="0.7847" stop-color="#2b2eff"/><stop offset="0.8048" stop-color="#2938ff"/><stop offset="0.8249" stop-color="#2641ff"/><stop offset="0.8451" stop-color="#2249ff"/><stop offset="0.8652" stop-color="#1d51ff"/><stop offset="0.8853" stop-color="#195bff"/><stop offset="0.9054" stop-color="#116dff"/><stop offset="0.9256" stop-color="#0b7eff"/><stop offset="0.9457" stop-color="#0592ff"/><stop offset="0.9658" stop-color="#00e0ff"/><stop offset="0.9859" stop-color="#00ffbc"/><stop offset="1.0000" stop-color="#00ff8b"/></linearGradient><linearGradient id="gl5" gradientUnits="userSpaceOnUse" x1="376" y1="0" x2="1867" y2="0"><stop offset="0.0000" stop-color="#9000ff"/><stop offset="0.0201" stop-color="#8e00ff"/><stop offset="0.0402" stop-color="#8b00ff"/><stop offset="0.0604" stop-color="#8800ff"/><stop offset="0.0805" stop-color="#8500ff"/><stop offset="0.1006" stop-color="#8200ff"/><stop offset="0.1207" stop-color="#7f00ff"/><stop offset="0.1408" stop-color="#7c00ff"/><stop offset="0.1610" stop-color="#7900ff"/><stop offset="0.1811" stop-color="#7600ff"/><stop offset="0.2012" stop-color="#7400ff"/><stop offset="0.2213" stop-color="#7100ff"/><stop offset="0.2414" stop-color="#6e00ff"/><stop offset="0.2616" stop-color="#6b00ff"/><stop offset="0.2817" stop-color="#6800ff"/><stop offset="0.3018" stop-color="#6600ff"/><stop offset="0.3219" stop-color="#6500ff"/><stop offset="0.3421" stop-color="#6300ff"/><stop offset="0.3622" stop-color="#6001ff"/><stop offset="0.3823" stop-color="#5d01ff"/><stop offset="0.4024" stop-color="#5b02ff"/><stop offset="0.4225" stop-color="#5802ff"/><stop offset="0.4427" stop-color="#5603ff"/><stop offset="0.4628" stop-color="#5403ff"/><stop offset="0.4829" stop-color="#5303ff"/><stop offset="0.5030" stop-color="#4806ff"/><stop offset="0.5231" stop-color="#3b08ff"/><stop offset="0.5433" stop-color="#310dff"/><stop offset="0.5634" stop-color="#2f1aff"/><stop offset="0.5835" stop-color="#2d25ff"/><stop offset="0.6036" stop-color="#2b2bff"/><stop offset="0.6237" stop-color="#2a31ff"/><stop offset="0.6439" stop-color="#2936ff"/><stop offset="0.6640" stop-color="#283cff"/><stop offset="0.6841" stop-color="#2641ff"/><stop offset="0.7042" stop-color="#1d51ff"/><stop offset="0.7243" stop-color="#1464ff"/><stop offset="0.7445" stop-color="#1071ff"/><stop offset="0.7646" stop-color="#0d79ff"/><stop offset="0.7847" stop-color="#0c7dff"/><stop offset="0.8048" stop-color="#0a81ff"/><stop offset="0.8249" stop-color="#0a83ff"/><stop offset="0.8451" stop-color="#0b80ff"/><stop offset="0.8652" stop-color="#0d79ff"/><stop offset="0.8853" stop-color="#1463ff"/><stop offset="0.9054" stop-color="#1070ff"/><stop offset="0.9256" stop-color="#0a82ff"/><stop offset="0.9457" stop-color="#0397ff"/><stop offset="0.9658" stop-color="#00cfff"/><stop offset="0.9859" stop-color="#00ffcd"/><stop offset="1.0000" stop-color="#00ff66"/></linearGradient><linearGradient id="gu6" gradientUnits="userSpaceOnUse" x1="376" y1="0" x2="1867" y2="0"><stop offset="0.0000" stop-color="#9000ff"/><stop offset="0.0201" stop-color="#8f00ff"/><stop offset="0.0402" stop-color="#8e00ff"/><stop offset="0.0604" stop-color="#8d00ff"/><stop offset="0.0805" stop-color="#8b00ff"/><stop offset="0.1006" stop-color="#8a00ff"/><stop offset="0.1207" stop-color="#8900ff"/><stop offset="0.1408" stop-color="#8800ff"/><stop offset="0.1610" stop-color="#8600ff"/><stop offset="0.1811" stop-color="#8500ff"/><stop offset="0.2012" stop-color="#8400ff"/><stop offset="0.2213" stop-color="#8100ff"/><stop offset="0.2414" stop-color="#7a00ff"/><stop offset="0.2616" stop-color="#7200ff"/><stop offset="0.2817" stop-color="#6a00ff"/><stop offset="0.3018" stop-color="#6600ff"/><stop offset="0.3219" stop-color="#6200ff"/><stop offset="0.3421" stop-color="#5b02ff"/><stop offset="0.3622" stop-color="#5603ff"/><stop offset="0.3823" stop-color="#5104ff"/><stop offset="0.4024" stop-color="#4d05ff"/><stop offset="0.4225" stop-color="#4905ff"/><stop offset="0.4427" stop-color="#4706ff"/><stop offset="0.4628" stop-color="#4406ff"/><stop offset="0.4829" stop-color="#4207ff"/><stop offset="0.5030" stop-color="#4307ff"/><stop offset="0.5231" stop-color="#4406ff"/><stop offset="0.5433" stop-color="#4706ff"/><stop offset="0.5634" stop-color="#4905ff"/><stop offset="0.5835" stop-color="#4a05ff"/><stop offset="0.6036" stop-color="#4506ff"/><stop offset="0.6237" stop-color="#4007ff"/><stop offset="0.6439" stop-color="#3909ff"/><stop offset="0.6640" stop-color="#330aff"/><stop offset="0.6841" stop-color="#310fff"/><stop offset="0.7042" stop-color="#3016ff"/><stop offset="0.7243" stop-color="#2e1eff"/><stop offset="0.7445" stop-color="#2c28ff"/><stop offset="0.7646" stop-color="#2a32ff"/><stop offset="0.7847" stop-color="#283cff"/><stop offset="0.8048" stop-color="#2345ff"/><stop offset="0.8249" stop-color="#1f4eff"/><stop offset="0.8451" stop-color="#1a58ff"/><stop offset="0.8652" stop-color="#1563ff"/><stop offset="0.8853" stop-color="#126bff"/><stop offset="0.9054" stop-color="#0c7cff"/><stop offset="0.9256" stop-color="#068eff"/><stop offset="0.9457" stop-color="#00a8ff"/><stop offset="0.9658" stop-color="#00ffea"/><stop offset="0.9859" stop-color="#00ff68"/><stop offset="1.0000" stop-color="#00ff4c"/></linearGradient><linearGradient id="gl6" gradientUnits="userSpaceOnUse" x1="376" y1="0" x2="1867" y2="0"><stop offset="0.0000" stop-color="#9000ff"/><stop offset="0.0201" stop-color="#8d00ff"/><stop offset="0.0402" stop-color="#8a00ff"/><stop offset="0.0604" stop-color="#8700ff"/><stop offset="0.0805" stop-color="#8400ff"/><stop offset="0.1006" stop-color="#8100ff"/><stop offset="0.1207" stop-color="#7d00ff"/><stop offset="0.1408" stop-color="#7a00ff"/><stop offset="0.1610" stop-color="#7700ff"/><stop offset="0.1811" stop-color="#7400ff"/><stop offset="0.2012" stop-color="#7100ff"/><stop offset="0.2213" stop-color="#6e00ff"/><stop offset="0.2414" stop-color="#6b00ff"/><stop offset="0.2616" stop-color="#6700ff"/><stop offset="0.2817" stop-color="#6400ff"/><stop offset="0.3018" stop-color="#6101ff"/><stop offset="0.3219" stop-color="#5e01ff"/><stop offset="0.3421" stop-color="#5c02ff"/><stop offset="0.3622" stop-color="#5902ff"/><stop offset="0.3823" stop-color="#5603ff"/><stop offset="0.4024" stop-color="#5303ff"/><stop offset="0.4225" stop-color="#5104ff"/><stop offset="0.4427" stop-color="#4f04ff"/><stop offset="0.4628" stop-color="#4d05ff"/><stop offset="0.4829" stop-color="#4b05ff"/><stop offset="0.5030" stop-color="#4007ff"/><stop offset="0.5231" stop-color="#340aff"/><stop offset="0.5433" stop-color="#3015ff"/><stop offset="0.5634" stop-color="#2d22ff"/><stop offset="0.5835" stop-color="#2b2dff"/><stop offset="0.6036" stop-color="#2a34ff"/><stop offset="0.6237" stop-color="#283bff"/><stop offset="0.6439" stop-color="#2641ff"/><stop offset="0.6640" stop-color="#2346ff"/><stop offset="0.6841" stop-color="#204cff"/><stop offset="0.7042" stop-color="#185dff"/><stop offset="0.7243" stop-color="#116cff"/><stop offset="0.7445" stop-color="#0d7aff"/><stop offset="0.7646" stop-color="#0a82ff"/><stop offset="0.7847" stop-color="#0985ff"/><stop offset="0.8048" stop-color="#0888ff"/><stop offset="0.8249" stop-color="#078aff"/><stop offset="0.8451" stop-color="#0888ff"/><stop offset="0.8652" stop-color="#0a83ff"/><stop offset="0.8853" stop-color="#0f72ff"/><stop offset="0.9054" stop-color="#0c7dff"/><stop offset="0.9256" stop-color="#078cff"/><stop offset="0.9457" stop-color="#009fff"/><stop offset="0.9658" stop-color="#00dfff"/><stop offset="0.9859" stop-color="#00ffab"/><stop offset="1.0000" stop-color="#00ff4f"/></linearGradient><linearGradient id="gu7" gradientUnits="userSpaceOnUse" x1="376" y1="0" x2="1867" y2="0"><stop offset="0.0000" stop-color="#9000ff"/><stop offset="0.0201" stop-color="#8f00ff"/><stop offset="0.0402" stop-color="#8e00ff"/><stop offset="0.0604" stop-color="#8c00ff"/><stop offset="0.0805" stop-color="#8b00ff"/><stop offset="0.1006" stop-color="#8900ff"/><stop offset="0.1207" stop-color="#8800ff"/><stop offset="0.1408" stop-color="#8600ff"/><stop offset="0.1610" stop-color="#8500ff"/><stop offset="0.1811" stop-color="#8300ff"/><stop offset="0.2012" stop-color="#8200ff"/><stop offset="0.2213" stop-color="#7f00ff"/><stop offset="0.2414" stop-color="#7600ff"/><stop offset="0.2616" stop-color="#6d00ff"/><stop offset="0.2817" stop-color="#6500ff"/><stop offset="0.3018" stop-color="#5e01ff"/><stop offset="0.3219" stop-color="#5703ff"/><stop offset="0.3421" stop-color="#5104ff"/><stop offset="0.3622" stop-color="#4b05ff"/><stop offset="0.3823" stop-color="#4606ff"/><stop offset="0.4024" stop-color="#4107ff"/><stop offset="0.4225" stop-color="#3c08ff"/><stop offset="0.4427" stop-color="#3a08ff"/><stop offset="0.4628" stop-color="#3709ff"/><stop offset="0.4829" stop-color="#340aff"/><stop offset="0.5030" stop-color="#3509ff"/><stop offset="0.5231" stop-color="#3709ff"/><stop offset="0.5433" stop-color="#3a08ff"/><stop offset="0.5634" stop-color="#3c08ff"/><stop offset="0.5835" stop-color="#3d08ff"/><stop offset="0.6036" stop-color="#3809ff"/><stop offset="0.6237" stop-color="#320aff"/><stop offset="0.6439" stop-color="#3110ff"/><stop offset="0.6640" stop-color="#3016ff"/><stop offset="0.6841" stop-color="#2e1cff"/><stop offset="0.7042" stop-color="#2d24ff"/><stop offset="0.7243" stop-color="#2b2cff"/><stop offset="0.7445" stop-color="#2936ff"/><stop offset="0.7646" stop-color="#2640ff"/><stop offset="0.7847" stop-color="#2249ff"/><stop offset="0.8048" stop-color="#1d52ff"/><stop offset="0.8249" stop-color="#185cff"/><stop offset="0.8451" stop-color="#1367ff"/><stop offset="0.8652" stop-color="#1070ff"/><stop offset="0.8853" stop-color="#0d79ff"/><stop offset="0.9054" stop-color="#078aff"/><stop offset="0.9256" stop-color="#019eff"/><stop offset="0.9457" stop-color="#00c9ff"/><stop offset="0.9658" stop-color="#00ff9e"/><stop offset="0.9859" stop-color="#00ff37"/><stop offset="1.0000" stop-color="#00ff1b"/></linearGradient><linearGradient id="gl7" gradientUnits="userSpaceOnUse" x1="376" y1="0" x2="1867" y2="0"><stop offset="0.0000" stop-color="#9000ff"/><stop offset="0.0201" stop-color="#8d00ff"/><stop offset="0.0402" stop-color="#8a00ff"/><stop offset="0.0604" stop-color="#8600ff"/><stop offset="0.0805" stop-color="#8300ff"/><stop offset="0.1006" stop-color="#7f00ff"/><stop offset="0.1207" stop-color="#7c00ff"/><stop offset="0.1408" stop-color="#7800ff"/><stop offset="0.1610" stop-color="#7500ff"/><stop offset="0.1811" stop-color="#7100ff"/><stop offset="0.2012" stop-color="#6e00ff"/><stop offset="0.2213" stop-color="#6a00ff"/><stop offset="0.2414" stop-color="#6700ff"/><stop offset="0.2616" stop-color="#6300ff"/><stop offset="0.2817" stop-color="#5e01ff"/><stop offset="0.3018" stop-color="#5a02ff"/><stop offset="0.3219" stop-color="#5703ff"/><stop offset="0.3421" stop-color="#5503ff"/><stop offset="0.3622" stop-color="#5204ff"/><stop offset="0.3823" stop-color="#4f04ff"/><stop offset="0.4024" stop-color="#4c05ff"/><stop offset="0.4225" stop-color="#4905ff"/><stop offset="0.4427" stop-color="#4706ff"/><stop offset="0.4628" stop-color="#4606ff"/><stop offset="0.4829" stop-color="#4406ff"/><stop offset="0.5030" stop-color="#3909ff"/><stop offset="0.5231" stop-color="#3110ff"/><stop offset="0.5433" stop-color="#2e1dff"/><stop offset="0.5634" stop-color="#2c2aff"/><stop offset="0.5835" stop-color="#2936ff"/><stop offset="0.6036" stop-color="#273eff"/><stop offset="0.6237" stop-color="#2444ff"/><stop offset="0.6439" stop-color="#214bff"/><stop offset="0.6640" stop-color="#1e51ff"/><stop offset="0.6841" stop-color="#1a57ff"/><stop offset="0.7042" stop-color="#1367ff"/><stop offset="0.7243" stop-color="#0e75ff"/><stop offset="0.7445" stop-color="#0a82ff"/><stop offset="0.7646" stop-color="#078aff"/><stop offset="0.7847" stop-color="#068dff"/><stop offset="0.8048" stop-color="#0590ff"/><stop offset="0.8249" stop-color="#0592ff"/><stop offset="0.8451" stop-color="#0590ff"/><stop offset="0.8652" stop-color="#068dff"/><stop offset="0.8853" stop-color="#0a81ff"/><stop offset="0.9054" stop-color="#078bff"/><stop offset="0.9256" stop-color="#0397ff"/><stop offset="0.9457" stop-color="#00afff"/><stop offset="0.9658" stop-color="#00efff"/><stop offset="0.9859" stop-color="#00ff88"/><stop offset="1.0000" stop-color="#00ff36"/></linearGradient><linearGradient id="gu8" gradientUnits="userSpaceOnUse" x1="376" y1="0" x2="1867" y2="0"><stop offset="0.0000" stop-color="#9000ff"/><stop offset="0.0201" stop-color="#8f00ff"/><stop offset="0.0402" stop-color="#8d00ff"/><stop offset="0.0604" stop-color="#8c00ff"/><stop offset="0.0805" stop-color="#8a00ff"/><stop offset="0.1006" stop-color="#8800ff"/><stop offset="0.1207" stop-color="#8700ff"/><stop offset="0.1408" stop-color="#8500ff"/><stop offset="0.1610" stop-color="#8400ff"/><stop offset="0.1811" stop-color="#8200ff"/><stop offset="0.2012" stop-color="#8000ff"/><stop offset="0.2213" stop-color="#7d00ff"/><stop offset="0.2414" stop-color="#7300ff"/><stop offset="0.2616" stop-color="#6900ff"/><stop offset="0.2817" stop-color="#5b02ff"/><stop offset="0.3018" stop-color="#5303ff"/><stop offset="0.3219" stop-color="#4d05ff"/><stop offset="0.3421" stop-color="#4706ff"/><stop offset="0.3622" stop-color="#4007ff"/><stop offset="0.3823" stop-color="#3b08ff"/><stop offset="0.4024" stop-color="#3509ff"/><stop offset="0.4225" stop-color="#320cff"/><stop offset="0.4427" stop-color="#310fff"/><stop offset="0.4628" stop-color="#3012ff"/><stop offset="0.4829" stop-color="#3015ff"/><stop offset="0.5030" stop-color="#3014ff"/><stop offset="0.5231" stop-color="#3012ff"/><stop offset="0.5433" stop-color="#310fff"/><stop offset="0.5634" stop-color="#310dff"/><stop offset="0.5835" stop-color="#320cff"/><stop offset="0.6036" stop-color="#3012ff"/><stop offset="0.6237" stop-color="#2f17ff"/><stop offset="0.6439" stop-color="#2e1dff"/><stop offset="0.6640" stop-color="#2d23ff"/><stop offset="0.6841" stop-color="#2c29ff"/><stop offset="0.7042" stop-color="#2a32ff"/><stop offset="0.7243" stop-color="#283bff"/><stop offset="0.7445" stop-color="#2543ff"/><stop offset="0.7646" stop-color="#204bff"/><stop offset="0.7847" stop-color="#1c55ff"/><stop offset="0.8048" stop-color="#175fff"/><stop offset="0.8249" stop-color="#1368ff"/><stop offset="0.8451" stop-color="#0f72ff"/><stop offset="0.8652" stop-color="#0c7cff"/><stop offset="0.8853" stop-color="#0986ff"/><stop offset="0.9054" stop-color="#0299ff"/><stop offset="0.9256" stop-color="#00b9ff"/><stop offset="0.9457" stop-color="#00e9ff"/><stop offset="0.9658" stop-color="#00ff5f"/><stop offset="0.9859" stop-color="#00ff07"/><stop offset="1.0000" stop-color="#1bff00"/></linearGradient><linearGradient id="gl8" gradientUnits="userSpaceOnUse" x1="376" y1="0" x2="1867" y2="0"><stop offset="0.0000" stop-color="#9000ff"/><stop offset="0.0201" stop-color="#8d00ff"/><stop offset="0.0402" stop-color="#8900ff"/><stop offset="0.0604" stop-color="#8500ff"/><stop offset="0.0805" stop-color="#8100ff"/><stop offset="0.1006" stop-color="#7e00ff"/><stop offset="0.1207" stop-color="#7a00ff"/><stop offset="0.1408" stop-color="#7600ff"/><stop offset="0.1610" stop-color="#7200ff"/><stop offset="0.1811" stop-color="#6f00ff"/><stop offset="0.2012" stop-color="#6b00ff"/><stop offset="0.2213" stop-color="#6700ff"/><stop offset="0.2414" stop-color="#6300ff"/><stop offset="0.2616" stop-color="#5d01ff"/><stop offset="0.2817" stop-color="#5703ff"/><stop offset="0.3018" stop-color="#5303ff"/><stop offset="0.3219" stop-color="#5004ff"/><stop offset="0.3421" stop-color="#4d05ff"/><stop offset="0.3622" stop-color="#4a05ff"/><stop offset="0.3823" stop-color="#4706ff"/><stop offset="0.4024" stop-color="#4406ff"/><stop offset="0.4225" stop-color="#4107ff"/><stop offset="0.4427" stop-color="#4007ff"/><stop offset="0.4628" stop-color="#3e08ff"/><stop offset="0.4829" stop-color="#3c08ff"/><stop offset="0.5030" stop-color="#320bff"/><stop offset="0.5231" stop-color="#2f19ff"/><stop offset="0.5433" stop-color="#2c26ff"/><stop offset="0.5634" stop-color="#2a33ff"/><stop offset="0.5835" stop-color="#263fff"/><stop offset="0.6036" stop-color="#2346ff"/><stop offset="0.6237" stop-color="#1f4dff"/><stop offset="0.6439" stop-color="#1c55ff"/><stop offset="0.6640" stop-color="#185cff"/><stop offset="0.6841" stop-color="#1463ff"/><stop offset="0.7042" stop-color="#1070ff"/><stop offset="0.7243" stop-color="#0b7eff"/><stop offset="0.7445" stop-color="#078bff"/><stop offset="0.7646" stop-color="#0493ff"/><stop offset="0.7847" stop-color="#0495ff"/><stop offset="0.8048" stop-color="#0398ff"/><stop offset="0.8249" stop-color="#0299ff"/><stop offset="0.8451" stop-color="#0299ff"/><stop offset="0.8652" stop-color="#0397ff"/><stop offset="0.8853" stop-color="#0591ff"/><stop offset="0.9054" stop-color="#0299ff"/><stop offset="0.9256" stop-color="#00a5ff"/><stop offset="0.9457" stop-color="#00c1ff"/><stop offset="0.9658" stop-color="#00fffd"/><stop offset="0.9859" stop-color="#00ff67"/><stop offset="1.0000" stop-color="#00ff1d"/></linearGradient><linearGradient id="gu9" gradientUnits="userSpaceOnUse" x1="376" y1="0" x2="1867" y2="0"><stop offset="0.0000" stop-color="#9000ff"/><stop offset="0.0201" stop-color="#8f00ff"/><stop offset="0.0402" stop-color="#8d00ff"/><stop offset="0.0604" stop-color="#8b00ff"/><stop offset="0.0805" stop-color="#8900ff"/><stop offset="0.1006" stop-color="#8800ff"/><stop offset="0.1207" stop-color="#8600ff"/><stop offset="0.1408" stop-color="#8400ff"/><stop offset="0.1610" stop-color="#8200ff"/><stop offset="0.1811" stop-color="#8100ff"/><stop offset="0.2012" stop-color="#7f00ff"/><stop offset="0.2213" stop-color="#7b00ff"/><stop offset="0.2414" stop-color="#7000ff"/><stop offset="0.2616" stop-color="#6400ff"/><stop offset="0.2817" stop-color="#5104ff"/><stop offset="0.3018" stop-color="#4905ff"/><stop offset="0.3219" stop-color="#4307ff"/><stop offset="0.3421" stop-color="#3c08ff"/><stop offset="0.3622" stop-color="#3609ff"/><stop offset="0.3823" stop-color="#320cff"/><stop offset="0.4024" stop-color="#3013ff"/><stop offset="0.4225" stop-color="#2f18ff"/><stop offset="0.4427" stop-color="#2e1cff"/><stop offset="0.4628" stop-color="#2e1fff"/><stop offset="0.4829" stop-color="#2d22ff"/><stop offset="0.5030" stop-color="#2e20ff"/><stop offset="0.5231" stop-color="#2e1eff"/><stop offset="0.5433" stop-color="#2e1cff"/><stop offset="0.5634" stop-color="#2f1aff"/><stop offset="0.5835" stop-color="#2f19ff"/><stop offset="0.6036" stop-color="#2e1fff"/><stop offset="0.6237" stop-color="#2d25ff"/><stop offset="0.6439" stop-color="#2b2bff"/><stop offset="0.6640" stop-color="#2a31ff"/><stop offset="0.6841" stop-color="#2937ff"/><stop offset="0.7042" stop-color="#263fff"/><stop offset="0.7243" stop-color="#2347ff"/><stop offset="0.7445" stop-color="#1f4eff"/><stop offset="0.7646" stop-color="#1a57ff"/><stop offset="0.7847" stop-color="#1561ff"/><stop offset="0.8048" stop-color="#126aff"/><stop offset="0.8249" stop-color="#0f72ff"/><stop offset="0.8451" stop-color="#0c7dff"/><stop offset="0.8652" stop-color="#0888ff"/><stop offset="0.8853" stop-color="#0493ff"/><stop offset="0.9054" stop-color="#00adff"/><stop offset="0.9256" stop-color="#00d6ff"/><stop offset="0.9457" stop-color="#00ffee"/><stop offset="0.9658" stop-color="#00ff34"/><stop offset="0.9859" stop-color="#36ff00"/><stop offset="1.0000" stop-color="#59ff00"/></linearGradient><linearGradient id="gl9" gradientUnits="userSpaceOnUse" x1="376" y1="0" x2="1867" y2="0"><stop offset="0.0000" stop-color="#9000ff"/><stop offset="0.0201" stop-color="#8c00ff"/><stop offset="0.0402" stop-color="#8800ff"/><stop offset="0.0604" stop-color="#8400ff"/><stop offset="0.0805" stop-color="#8000ff"/><stop offset="0.1006" stop-color="#7c00ff"/><stop offset="0.1207" stop-color="#7800ff"/><stop offset="0.1408" stop-color="#7400ff"/><stop offset="0.1610" stop-color="#7000ff"/><stop offset="0.1811" stop-color="#6c00ff"/><stop offset="0.2012" stop-color="#6800ff"/><stop offset="0.2213" stop-color="#6400ff"/><stop offset="0.2414" stop-color="#5d01ff"/><stop offset="0.2616" stop-color="#5603ff"/><stop offset="0.2817" stop-color="#4f04ff"/><stop offset="0.3018" stop-color="#4c05ff"/><stop offset="0.3219" stop-color="#4905ff"/><stop offset="0.3421" stop-color="#4506ff"/><stop offset="0.3622" stop-color="#4207ff"/><stop offset="0.3823" stop-color="#3f07ff"/><stop offset="0.4024" stop-color="#3c08ff"/><stop offset="0.4225" stop-color="#3909ff"/><stop offset="0.4427" stop-color="#3709ff"/><stop offset="0.4628" stop-color="#3609ff"/><stop offset="0.4829" stop-color="#340aff"/><stop offset="0.5030" stop-color="#3014ff"/><stop offset="0.5231" stop-color="#2d21ff"/><stop offset="0.5433" stop-color="#2b2fff"/><stop offset="0.5634" stop-color="#283cff"/><stop offset="0.5835" stop-color="#2347ff"/><stop offset="0.6036" stop-color="#1f4fff"/><stop offset="0.6237" stop-color="#1b57ff"/><stop offset="0.6439" stop-color="#165fff"/><stop offset="0.6640" stop-color="#1366ff"/><stop offset="0.6841" stop-color="#116cff"/><stop offset="0.7042" stop-color="#0d79ff"/><stop offset="0.7243" stop-color="#0887ff"/><stop offset="0.7445" stop-color="#0495ff"/><stop offset="0.7646" stop-color="#019cff"/><stop offset="0.7847" stop-color="#019eff"/><stop offset="0.8048" stop-color="#00a0ff"/><stop offset="0.8249" stop-color="#00a2ff"/><stop offset="0.8451" stop-color="#00a2ff"/><stop offset="0.8652" stop-color="#00a2ff"/><stop offset="0.8853" stop-color="#00a2ff"/><stop offset="0.9054" stop-color="#00aeff"/><stop offset="0.9256" stop-color="#00bbff"/><stop offset="0.9457" stop-color="#00d3ff"/><stop offset="0.9658" stop-color="#00ffdb"/><stop offset="0.9859" stop-color="#00ff51"/><stop offset="1.0000" stop-color="#00ff03"/></linearGradient></defs>
<g clip-path="url(#clip)">
<polygon points="376.4,1299.3 378.4,1298.6 380.4,1298.0 382.4,1297.3 384.4,1296.6 386.4,1296.0 388.4,1295.3 390.4,1294.6 392.4,1294.0 394.4,1293.3 396.4,1292.6 398.4,1292.0 400.4,1291.0 402.4,1289.9 404.4,1288.9 406.4,1287.9 408.4,1286.8 410.4,1285.8 412.4,1284.7 414.4,1283.7 416.4,1282.7 418.4,1281.6 420.4,1280.6 422.4,1279.6 424.4,1278.6 426.4,1277.6 428.4,1276.6 430.4,1275.6 432.4,1274.6 434.4,1273.6 436.4,1272.6 438.4,1271.6 440.4,1270.6 442.4,1269.6 444.4,1268.5 446.4,1267.3 448.4,1266.2 450.4,1265.1 452.4,1263.9 454.4,1262.8 456.4,1261.6 458.4,1260.5 460.4,1259.4 462.4,1258.2 464.4,1257.1 466.4,1256.0 468.4,1254.9 470.4,1253.9 472.4,1252.8 474.4,1251.8 476.4,1250.7 478.4,1249.6 480.4,1248.6 482.4,1247.5 484.4,1246.5 486.4,1245.4 488.4,1244.2 490.4,1242.9 492.4,1241.5 494.4,1240.2 496.4,1238.9 498.4,1237.5 500.4,1236.2 502.4,1234.8 504.4,1233.5 506.4,1232.2 508.4,1230.8 510.4,1229.4 512.4,1227.9 514.4,1226.4 516.4,1224.9 518.4,1223.3 520.4,1221.8 522.4,1220.3 524.4,1218.6 526.4,1217.0 528.4,1215.5 530.4,1214.4 532.4,1212.9 534.4,1211.4 536.4,1209.7 538.4,1208.5 540.4,1207.5 542.4,1206.0 544.4,1204.2 546.4,1202.5 548.4,1201.5 550.4,1201.1 552.4,1199.5 554.4,1198.0 556.4,1196.7 558.4,1195.7 560.4,1194.6 562.4,1193.9 564.4,1191.9 566.4,1189.8 568.4,1188.4 570.4,1187.0 572.4,1185.3 574.4,1184.5 576.4,1182.8 578.4,1182.0 580.4,1179.6 582.4,1177.9 584.4,1177.3 586.4,1175.6 588.4,1173.8 590.4,1170.0 592.4,1168.0 594.4,1167.0 596.4,1165.4 598.4,1162.2 600.4,1160.6 602.4,1158.1 604.4,1157.0 606.4,1156.0 608.4,1151.7 610.4,1149.2 612.4,1149.9 614.4,1147.6 616.4,1145.9 618.4,1144.6 620.4,1139.8 622.4,1138.5 624.4,1138.7 626.4,1138.1 628.4,1135.7 630.4,1133.7 632.4,1133.2 634.4,1132.1 636.4,1131.2 638.4,1129.8 640.4,1128.5 642.4,1123.7 644.4,1120.2 646.4,1119.8 648.4,1118.7 650.4,1113.8 652.4,1111.5 654.4,1110.7 656.4,1111.3 658.4,1109.3 660.4,1106.0 662.4,1103.0 664.4,1101.9 666.4,1100.7 668.4,1099.8 670.4,1098.2 672.4,1095.1 674.4,1092.0 676.4,1090.2 678.4,1088.6 680.4,1087.2 682.4,1085.4 684.4,1084.2 686.4,1084.0 688.4,1083.4 690.4,1081.5 692.4,1076.0 694.4,1072.9 696.4,1071.5 698.4,1068.9 700.4,1070.4 702.4,1065.6 704.4,1062.8 706.4,1060.6 708.4,1060.0 710.4,1058.2 712.4,1057.5 714.4,1055.3 716.4,1053.0 718.4,1052.2 720.4,1050.0 722.4,1045.7 724.4,1045.1 726.4,1042.5 728.4,1041.3 730.4,1040.0 732.4,1038.9 734.4,1040.6 736.4,1040.0 738.4,1034.3 740.4,1032.5 742.4,1031.1 744.4,1029.4 746.4,1028.1 748.4,1025.5 750.4,1021.9 752.4,1021.9 754.4,1019.4 756.4,1013.6 758.4,1012.9 760.4,1012.4 762.4,1010.3 764.4,1007.9 766.4,1010.4 768.4,1009.1 770.4,1005.8 772.4,1004.0 774.4,1001.7 776.4,999.3 778.4,995.7 780.4,996.5 782.4,994.5 784.4,992.7 786.4,989.5 788.4,986.6 790.4,984.8 792.4,984.2 794.4,982.3 796.4,979.6 798.4,980.1 800.4,976.3 802.4,978.8 804.4,978.0 806.4,975.7 808.4,972.7 810.4,970.3 812.4,967.2 814.4,966.2 816.4,964.4 818.4,963.4 820.4,957.3 822.4,959.6 824.4,957.8 826.4,955.3 828.4,953.3 830.4,949.8 832.4,947.0 834.4,950.0 836.4,949.4 838.4,946.9 840.4,944.6 842.4,941.8 844.4,941.8 846.4,939.0 848.4,937.1 850.4,937.1 852.4,934.2 854.4,932.8 856.4,928.9 858.4,926.5 860.4,926.4 862.4,923.5 864.4,920.8 866.4,920.2 868.4,917.4 870.4,913.8 872.4,912.9 874.4,912.4 876.4,912.0 878.4,911.3 880.4,909.8 882.4,906.7 884.4,903.3 886.4,902.8 888.4,900.8 890.4,900.4 892.4,894.5 894.4,897.7 896.4,895.1 898.4,891.2 900.4,892.2 902.4,890.0 904.4,884.9 906.4,882.0 908.4,881.4 910.4,881.0 912.4,878.8 914.4,876.3 916.4,874.5 918.4,872.7 920.4,870.5 922.4,870.7 924.4,869.1 926.4,866.4 928.4,864.5 930.4,864.2 932.4,861.9 934.4,860.7 936.4,856.2 938.4,854.0 940.4,851.7 942.4,851.2 944.4,847.8 946.4,848.6 948.4,847.8 950.4,846.3 952.4,840.7 954.4,840.3 956.4,839.6 958.4,838.8 960.4,839.4 962.4,838.4 964.4,836.7 966.4,834.0 968.4,832.4 970.4,829.9 972.4,826.5 974.4,823.6 976.4,822.8 978.4,824.3 980.4,823.2 982.4,817.1 984.4,814.4 986.4,813.4 988.4,811.6 990.4,810.8 992.4,809.5 994.4,807.2 996.4,803.8 998.4,801.0 1000.4,802.6 1002.4,801.7 1004.4,800.3 1006.4,799.2 1008.4,796.7 1010.4,793.8 1012.4,791.1 1014.4,790.1 1016.4,788.4 1018.4,787.6 1020.4,782.9 1022.4,781.8 1024.4,779.3 1026.4,778.6 1028.4,777.4 1030.4,775.5 1032.4,771.9 1034.4,769.9 1036.4,770.2 1038.4,769.7 1040.4,768.5 1042.4,765.6 1044.4,762.7 1046.4,764.8 1048.4,764.1 1050.4,762.7 1052.4,758.1 1054.4,755.5 1056.4,755.1 1058.4,753.9 1060.4,753.1 1062.4,751.0 1064.4,748.4 1066.4,748.5 1068.4,746.5 1070.4,745.9 1072.4,744.6 1074.4,743.9 1076.4,742.8 1078.4,742.0 1080.4,740.4 1082.4,736.7 1084.4,734.9 1086.4,733.6 1088.4,733.5 1090.4,733.5 1092.4,732.1 1094.4,735.0 1096.4,729.3 1098.4,729.1 1100.4,728.1 1102.4,729.1 1104.4,727.1 1106.4,723.5 1108.4,722.5 1110.4,721.6 1112.4,720.2 1114.4,718.4 1116.4,716.8 1118.4,714.6 1120.4,714.2 1122.4,710.4 1124.4,708.3 1126.4,708.3 1128.4,704.4 1130.4,702.3 1132.4,702.6 1134.4,701.5 1136.4,699.6 1138.4,700.8 1140.4,699.3 1142.4,697.8 1144.4,697.1 1146.4,694.4 1148.4,694.9 1150.4,694.5 1152.4,689.1 1154.4,686.7 1156.4,688.9 1158.4,688.1 1160.4,684.7 1162.4,682.8 1164.4,681.1 1166.4,679.7 1168.4,677.8 1170.4,674.6 1172.4,673.5 1174.4,670.6 1176.4,668.5 1178.4,668.3 1180.4,668.1 1182.4,663.8 1184.4,661.4 1186.4,659.8 1188.4,660.9 1190.4,656.0 1192.4,654.3 1194.4,654.2 1196.4,652.8 1198.4,651.9 1200.4,651.5 1202.4,649.3 1204.4,649.2 1206.4,647.7 1208.4,646.3 1210.4,647.4 1212.4,645.7 1214.4,640.7 1216.4,640.5 1218.4,639.7 1220.4,638.8 1222.4,636.5 1224.4,633.8 1226.4,633.7 1228.4,632.0 1230.4,627.6 1232.4,627.1 1234.4,629.9 1236.4,627.9 1238.4,628.7 1240.4,626.6 1242.4,623.9 1244.4,622.5 1246.4,622.2 1248.4,618.0 1250.4,619.3 1252.4,613.2 1254.4,613.5 1256.4,611.0 1258.4,605.6 1260.4,604.4 1262.4,607.6 1264.4,605.5 1266.4,601.1 1268.4,599.6 1270.4,597.6 1272.4,598.7 1274.4,599.4 1276.4,597.0 1278.4,594.8 1280.4,594.8 1282.4,590.6 1284.4,587.6 1286.4,586.9 1288.4,585.7 1290.4,585.2 1292.4,583.4 1294.4,584.5 1296.4,582.1 1298.4,577.3 1300.4,575.7 1302.4,576.3 1304.4,573.9 1306.4,572.2 1308.4,570.6 1310.4,569.0 1312.4,566.4 1314.4,563.3 1316.4,561.0 1318.4,559.0 1320.4,557.2 1322.4,554.5 1324.4,555.1 1326.4,552.5 1328.4,551.0 1330.4,548.2 1332.4,547.5 1334.4,544.3 1336.4,543.1 1338.4,541.3 1340.4,539.5 1342.4,536.9 1344.4,534.9 1346.4,534.5 1348.4,532.0 1350.4,530.8 1352.4,528.0 1354.4,528.1 1356.4,526.9 1358.4,524.3 1360.4,522.0 1362.4,519.3 1364.4,519.6 1366.4,519.1 1368.4,518.0 1370.4,515.2 1372.4,512.1 1374.4,511.6 1376.4,506.8 1378.4,506.3 1380.4,504.9 1382.4,501.9 1384.4,500.2 1386.4,499.4 1388.4,496.8 1390.4,493.8 1392.4,493.5 1394.4,490.4 1396.4,488.4 1398.4,486.8 1400.4,483.8 1402.4,484.1 1404.4,481.9 1406.4,479.5 1408.4,477.0 1410.4,477.0 1412.4,476.6 1414.4,471.0 1416.4,469.3 1418.4,471.2 1420.4,469.5 1422.4,464.3 1424.4,462.2 1426.4,461.8 1428.4,461.9 1430.4,461.1 1432.4,459.1 1434.4,459.0 1436.4,458.9 1438.4,457.8 1440.4,455.2 1442.4,453.4 1444.4,451.8 1446.4,451.4 1448.4,448.5 1450.4,446.7 1452.4,440.8 1454.4,438.4 1456.4,438.4 1458.4,437.8 1460.4,434.9 1462.4,435.6 1464.4,434.6 1466.4,432.2 1468.4,430.2 1470.4,430.3 1472.4,427.3 1474.4,426.0 1476.4,422.4 1478.4,420.9 1480.4,420.4 1482.4,420.8 1484.4,417.1 1486.4,414.8 1488.4,413.0 1490.4,413.2 1492.4,410.6 1494.4,410.2 1496.4,408.8 1498.4,405.6 1500.4,402.9 1502.4,402.9 1504.4,400.9 1506.4,398.4 1508.4,399.1 1510.4,398.0 1512.4,397.4 1514.4,394.4 1516.4,390.8 1518.4,388.8 1520.4,386.2 1522.4,384.7 1524.4,384.0 1526.4,383.8 1528.4,382.1 1530.4,383.2 1532.4,381.1 1534.4,375.3 1536.4,373.0 1538.4,371.4 1540.4,369.3 1542.4,369.8 1544.4,368.3 1546.4,365.3 1548.4,365.0 1550.4,362.9 1552.4,361.8 1554.4,358.8 1556.4,357.1 1558.4,356.8 1560.4,354.9 1562.4,353.2 1564.4,353.0 1566.4,349.5 1568.4,347.0 1570.4,344.9 1572.4,343.8 1574.4,345.3 1576.4,342.7 1578.4,337.3 1580.4,335.9 1582.4,334.1 1584.4,334.4 1586.4,332.4 1588.4,329.9 1590.4,329.6 1592.4,329.4 1594.4,324.4 1596.4,323.6 1598.4,324.2 1600.4,323.8 1602.4,322.5 1604.4,320.3 1606.4,318.5 1608.4,313.8 1610.4,312.7 1612.4,311.3 1614.4,311.0 1616.4,310.1 1618.4,308.3 1620.4,306.8 1622.4,305.3 1624.4,299.7 1626.4,297.3 1628.4,294.6 1630.4,295.2 1632.4,292.0 1634.4,292.8 1636.4,290.1 1638.4,288.5 1640.4,285.6 1642.4,283.9 1644.4,282.0 1646.4,281.1 1648.4,279.7 1650.4,278.9 1652.4,276.5 1654.4,272.4 1656.4,270.7 1658.4,267.6 1660.4,267.4 1662.4,266.9 1664.4,262.1 1666.4,259.8 1668.4,261.2 1670.4,259.3 1672.4,256.1 1674.4,253.6 1676.4,253.3 1678.4,251.4 1680.4,249.1 1682.4,247.2 1684.4,246.7 1686.4,244.1 1688.4,241.4 1690.4,239.4 1692.4,237.8 1694.4,235.4 1696.4,235.1 1698.4,232.9 1700.4,231.4 1702.4,228.4 1704.4,227.4 1706.4,225.1 1708.4,221.8 1710.4,219.4 1712.4,215.9 1714.4,213.6 1716.4,213.6 1718.4,211.0 1720.4,208.7 1722.4,205.6 1724.4,206.0 1726.4,205.6 1728.4,202.9 1730.4,201.6 1732.4,200.3 1734.4,199.3 1736.4,196.0 1738.4,192.4 1740.4,189.8 1742.4,190.3 1744.4,189.1 1746.4,186.2 1748.4,184.2 1750.4,181.3 1752.4,180.3 1754.4,178.1 1756.4,175.8 1758.4,177.8 1760.4,175.3 1762.4,172.9 1764.4,170.7 1766.4,168.2 1768.4,166.7 1770.4,164.5 1772.4,163.2 1774.4,161.6 1776.4,163.9 1778.4,161.3 1780.4,156.6 1782.4,155.6 1784.4,155.1 1786.4,153.0 1788.4,154.5 1790.4,152.8 1792.4,153.6 1794.4,151.0 1796.4,151.3 1798.4,146.0 1800.4,145.8 1802.4,143.1 1804.4,141.3 1806.4,140.7 1808.4,143.2 1810.4,138.1 1812.4,138.0 1814.4,136.2 1816.4,134.2 1818.4,132.5 1820.4,130.6 1822.4,130.1 1824.4,127.1 1826.4,125.1 1828.4,122.9 1830.4,120.0 1832.4,120.2 1834.4,119.3 1836.4,119.1 1838.4,118.6 1840.4,118.2 1842.4,116.5 1844.4,115.2 1846.4,113.5 1848.4,112.5 1850.4,110.3 1852.4,107.8 1854.4,106.3 1856.4,102.9 1858.4,100.8 1860.4,100.1 1862.4,101.7 1864.4,99.5 1866.4,98.6 1867.0,98.2 1867.0,117.0 1866.4,117.5 1864.4,119.1 1862.4,120.8 1860.4,122.4 1858.4,124.1 1856.4,125.7 1854.4,127.4 1852.4,129.1 1850.4,130.7 1848.4,132.4 1846.4,134.0 1844.4,135.7 1842.4,137.3 1840.4,139.0 1838.4,140.6 1836.4,142.3 1834.4,143.9 1832.4,145.6 1830.4,147.2 1828.4,148.9 1826.4,150.5 1824.4,152.2 1822.4,153.8 1820.4,155.5 1818.4,157.1 1816.4,158.8 1814.4,160.4 1812.4,162.1 1810.4,163.7 1808.4,165.4 1806.4,167.0 1804.4,168.7 1802.4,170.3 1800.4,172.0 1798.4,173.6 1796.4,175.3 1794.4,177.0 1792.4,178.6 1790.4,180.3 1788.4,182.0 1786.4,183.7 1784.4,185.3 1782.4,187.0 1780.4,188.7 1778.4,190.3 1776.4,192.0 1774.4,193.7 1772.4,195.3 1770.4,197.0 1768.4,198.7 1766.4,200.3 1764.4,202.0 1762.4,203.7 1760.4,205.3 1758.4,207.0 1756.4,208.7 1754.4,210.4 1752.4,212.0 1750.4,213.7 1748.4,215.4 1746.4,217.0 1744.4,218.7 1742.4,220.4 1740.4,222.0 1738.4,223.7 1736.4,225.4 1734.4,227.0 1732.4,228.7 1730.4,230.4 1728.4,232.1 1726.4,233.7 1724.4,235.4 1722.4,237.1 1720.4,238.7 1718.4,240.4 1716.4,242.1 1714.4,243.7 1712.4,245.4 1710.4,247.1 1708.4,248.7 1706.4,250.4 1704.4,252.1 1702.4,253.7 1700.4,255.4 1698.4,257.1 1696.4,258.8 1694.4,260.4 1692.4,262.1 1690.4,263.8 1688.4,265.4 1686.4,267.1 1684.4,268.8 1682.4,270.4 1680.4,272.1 1678.4,273.8 1676.4,275.4 1674.4,277.1 1672.4,278.8 1670.4,280.4 1668.4,282.1 1666.4,283.8 1664.4,285.5 1662.4,287.1 1660.4,288.8 1658.4,290.5 1656.4,292.1 1654.4,293.8 1652.4,295.5 1650.4,297.1 1648.4,298.8 1646.4,300.5 1644.4,302.1 1642.4,303.8 1640.4,305.5 1638.4,307.1 1636.4,308.8 1634.4,310.5 1632.4,312.2 1630.4,313.8 1628.4,315.5 1626.4,317.2 1624.4,318.8 1622.4,320.5 1620.4,322.2 1618.4,323.8 1616.4,325.5 1614.4,327.2 1612.4,328.8 1610.4,330.5 1608.4,332.2 1606.4,333.8 1604.4,335.5 1602.4,337.2 1600.4,338.9 1598.4,340.5 1596.4,342.2 1594.4,343.9 1592.4,345.5 1590.4,347.2 1588.4,348.9 1586.4,350.5 1584.4,352.2 1582.4,353.9 1580.4,355.5 1578.4,357.2 1576.4,358.9 1574.4,360.6 1572.4,362.2 1570.4,363.9 1568.4,365.6 1566.4,367.2 1564.4,368.9 1562.4,370.6 1560.4,372.2 1558.4,373.9 1556.4,375.6 1554.4,377.2 1552.4,378.9 1550.4,380.6 1548.4,382.2 1546.4,383.9 1544.4,385.6 1542.4,387.3 1540.4,388.9 1538.4,390.6 1536.4,392.3 1534.4,393.9 1532.4,395.6 1530.4,397.3 1528.4,398.9 1526.4,400.6 1524.4,402.3 1522.4,403.9 1520.4,405.6 1518.4,407.3 1516.4,408.9 1514.4,410.6 1512.4,412.3 1510.4,414.0 1508.4,415.6 1506.4,417.3 1504.4,419.0 1502.4,420.6 1500.4,422.3 1498.4,424.0 1496.4,425.6 1494.4,427.3 1492.4,429.0 1490.4,430.6 1488.4,432.3 1486.4,434.0 1484.4,435.6 1482.4,437.3 1480.4,439.0 1478.4,440.7 1476.4,442.3 1474.4,444.0 1472.4,445.7 1470.4,447.3 1468.4,449.0 1466.4,450.7 1464.4,452.3 1462.4,454.0 1460.4,455.7 1458.4,457.3 1456.4,459.0 1454.4,460.7 1452.4,462.3 1450.4,464.0 1448.4,465.7 1446.4,467.4 1444.4,469.0 1442.4,470.7 1440.4,472.4 1438.4,474.0 1436.4,475.7 1434.4,477.4 1432.4,479.0 1430.4,480.7 1428.4,482.4 1426.4,484.0 1424.4,485.7 1422.4,487.4 1420.4,489.1 1418.4,490.7 1416.4,492.4 1414.4,494.1 1412.4,495.7 1410.4,497.4 1408.4,499.1 1406.4,500.7 1404.4,502.4 1402.4,504.1 1400.4,505.7 1398.4,507.4 1396.4,509.1 1394.4,510.7 1392.4,512.4 1390.4,514.1 1388.4,515.8 1386.4,517.4 1384.4,519.1 1382.4,520.8 1380.4,522.4 1378.4,524.1 1376.4,525.8 1374.4,527.4 1372.4,529.1 1370.4,530.8 1368.4,532.4 1366.4,534.1 1364.4,535.8 1362.4,537.4 1360.4,539.1 1358.4,540.8 1356.4,542.5 1354.4,544.1 1352.4,545.8 1350.4,547.5 1348.4,549.1 1346.4,550.8 1344.4,552.5 1342.4,554.1 1340.4,555.8 1338.4,557.5 1336.4,559.1 1334.4,560.8 1332.4,562.5 1330.4,564.1 1328.4,565.8 1326.4,567.5 1324.4,569.2 1322.4,570.8 1320.4,572.5 1318.4,574.2 1316.4,575.8 1314.4,577.5 1312.4,579.2 1310.4,580.8 1308.4,582.5 1306.4,584.2 1304.4,585.8 1302.4,587.5 1300.4,589.2 1298.4,590.8 1296.4,592.5 1294.4,594.2 1292.4,595.9 1290.4,597.5 1288.4,599.2 1286.4,600.9 1284.4,602.5 1282.4,604.2 1280.4,605.9 1278.4,607.5 1276.4,609.2 1274.4,610.9 1272.4,612.5 1270.4,614.2 1268.4,615.9 1266.4,617.6 1264.4,619.2 1262.4,620.9 1260.4,622.6 1258.4,624.2 1256.4,625.9 1254.4,627.6 1252.4,629.2 1250.4,630.9 1248.4,632.6 1246.4,634.2 1244.4,635.9 1242.4,637.6 1240.4,639.2 1238.4,640.9 1236.4,642.6 1234.4,644.3 1232.4,645.9 1230.4,647.6 1228.4,649.3 1226.4,650.9 1224.4,652.6 1222.4,654.3 1220.4,655.9 1218.4,657.6 1216.4,659.3 1214.4,660.9 1212.4,662.6 1210.4,664.3 1208.4,665.9 1206.4,667.6 1204.4,669.3 1202.4,671.0 1200.4,672.6 1198.4,674.3 1196.4,676.0 1194.4,677.6 1192.4,679.3 1190.4,681.0 1188.4,682.6 1186.4,684.3 1184.4,686.0 1182.4,687.6 1180.4,689.3 1178.4,691.0 1176.4,692.6 1174.4,694.3 1172.4,696.0 1170.4,697.7 1168.4,699.3 1166.4,701.0 1164.4,702.7 1162.4,704.3 1160.4,706.0 1158.4,707.7 1156.4,709.3 1154.4,711.0 1152.4,712.7 1150.4,714.3 1148.4,716.0 1146.4,717.7 1144.4,719.3 1142.4,721.0 1140.4,722.7 1138.4,724.4 1136.4,726.0 1134.4,727.7 1132.4,729.4 1130.4,731.0 1128.4,732.7 1126.4,734.4 1124.4,736.0 1122.4,737.7 1120.4,739.4 1118.4,741.0 1116.4,742.7 1114.4,744.4 1112.4,746.1 1110.4,747.7 1108.4,749.4 1106.4,751.1 1104.4,752.7 1102.4,754.4 1100.4,756.1 1098.4,757.7 1096.4,759.4 1094.4,761.1 1092.4,762.7 1090.4,764.4 1088.4,766.1 1086.4,767.7 1084.4,769.4 1082.4,771.1 1080.4,772.8 1078.4,774.4 1076.4,776.1 1074.4,777.8 1072.4,779.4 1070.4,781.1 1068.4,782.8 1066.4,784.4 1064.4,786.1 1062.4,787.8 1060.4,789.4 1058.4,791.1 1056.4,792.8 1054.4,794.4 1052.4,796.1 1050.4,797.8 1048.4,799.5 1046.4,801.1 1044.4,802.8 1042.4,804.5 1040.4,806.1 1038.4,807.8 1036.4,809.5 1034.4,811.1 1032.4,812.8 1030.4,814.5 1028.4,816.1 1026.4,817.8 1024.4,819.5 1022.4,821.1 1020.4,822.8 1018.4,824.5 1016.4,826.2 1014.4,827.8 1012.4,829.5 1010.4,831.2 1008.4,832.8 1006.4,834.5 1004.4,836.2 1002.4,837.8 1000.4,839.5 998.4,841.2 996.4,842.8 994.4,844.5 992.4,846.2 990.4,847.8 988.4,849.5 986.4,851.2 984.4,852.9 982.4,854.5 980.4,856.2 978.4,857.9 976.4,859.5 974.4,861.2 972.4,862.9 970.4,864.5 968.4,866.2 966.4,867.9 964.4,869.5 962.4,871.2 960.4,872.9 958.4,874.6 956.4,876.2 954.4,877.9 952.4,879.6 950.4,881.2 948.4,882.9 946.4,884.6 944.4,886.2 942.4,887.9 940.4,889.6 938.4,891.2 936.4,892.9 934.4,894.6 932.4,896.2 930.4,897.9 928.4,899.6 926.4,901.3 924.4,902.9 922.4,904.6 920.4,906.3 918.4,907.9 916.4,909.6 914.4,911.3 912.4,912.9 910.4,914.6 908.4,916.3 906.4,917.9 904.4,919.6 902.4,921.3 900.4,922.9 898.4,924.6 896.4,926.3 894.4,928.0 892.4,929.6 890.4,931.3 888.4,933.0 886.4,934.6 884.4,936.3 882.4,938.0 880.4,939.6 878.4,941.3 876.4,943.0 874.4,944.6 872.4,946.3 870.4,948.0 868.4,949.6 866.4,951.3 864.4,953.0 862.4,954.7 860.4,956.3 858.4,958.0 856.4,959.7 854.4,961.3 852.4,963.0 850.4,964.7 848.4,966.3 846.4,968.0 844.4,969.7 842.4,971.3 840.4,973.0 838.4,974.7 836.4,976.3 834.4,978.0 832.4,979.7 830.4,981.4 828.4,983.0 826.4,984.7 824.4,986.4 822.4,988.0 820.4,989.7 818.4,991.4 816.4,993.0 814.4,994.7 812.4,996.4 810.4,998.0 808.4,999.7 806.4,1001.4 804.4,1003.1 802.4,1004.7 800.4,1006.4 798.4,1008.1 796.4,1009.7 794.4,1011.4 792.4,1013.1 790.4,1014.7 788.4,1016.4 786.4,1018.1 784.4,1019.7 782.4,1021.4 780.4,1023.1 778.4,1024.7 776.4,1026.4 774.4,1028.1 772.4,1029.8 770.4,1031.4 768.4,1033.1 766.4,1034.8 764.4,1036.4 762.4,1038.1 760.4,1039.8 758.4,1041.4 756.4,1043.1 754.4,1044.8 752.4,1046.4 750.4,1048.1 748.4,1049.8 746.4,1051.4 744.4,1053.1 742.4,1054.8 740.4,1056.5 738.4,1058.1 736.4,1059.8 734.4,1061.5 732.4,1063.1 730.4,1064.8 728.4,1066.5 726.4,1068.1 724.4,1069.8 722.4,1071.5 720.4,1073.1 718.4,1074.8 716.4,1076.5 714.4,1078.1 712.4,1079.8 710.4,1081.5 708.4,1083.2 706.4,1084.8 704.4,1086.5 702.4,1088.2 700.4,1089.8 698.4,1091.5 696.4,1093.2 694.4,1094.8 692.4,1096.5 690.4,1098.2 688.4,1099.8 686.4,1101.5 684.4,1103.2 682.4,1104.8 680.4,1106.5 678.4,1108.2 676.4,1109.9 674.4,1111.5 672.4,1113.2 670.4,1114.9 668.4,1116.5 666.4,1118.2 664.4,1119.9 662.4,1121.5 660.4,1123.2 658.4,1124.9 656.4,1126.5 654.4,1128.2 652.4,1129.9 650.4,1131.6 648.4,1133.2 646.4,1134.9 644.4,1136.6 642.4,1138.2 640.4,1139.9 638.4,1141.6 636.4,1143.2 634.4,1144.9 632.4,1146.6 630.4,1148.2 628.4,1149.9 626.4,1151.6 624.4,1153.2 622.4,1154.9 620.4,1156.6 618.4,1158.3 616.4,1159.9 614.4,1161.6 612.4,1163.3 610.4,1164.9 608.4,1166.6 606.4,1168.3 604.4,1169.9 602.4,1171.6 600.4,1173.3 598.4,1174.9 596.4,1176.6 594.4,1178.3 592.4,1179.9 590.4,1181.6 588.4,1183.3 586.4,1185.0 584.4,1186.6 582.4,1188.3 580.4,1190.0 578.4,1191.6 576.4,1193.3 574.4,1195.0 572.4,1196.6 570.4,1198.3 568.4,1200.0 566.4,1201.6 564.4,1203.3 562.4,1205.0 560.4,1206.6 558.4,1208.3 556.4,1210.0 554.4,1211.7 552.4,1213.3 550.4,1215.0 548.4,1216.7 546.4,1218.3 544.4,1220.0 542.4,1221.7 540.4,1223.3 538.4,1225.0 536.4,1226.7 534.4,1228.3 532.4,1230.0 530.4,1231.7 528.4,1233.3 526.4,1235.0 524.4,1236.7 522.4,1238.4 520.4,1240.0 518.4,1241.7 516.4,1243.4 514.4,1245.0 512.4,1235.0 510.4,1236.5 508.4,1237.9 506.4,1239.3 504.4,1240.7 502.4,1241.9 500.4,1243.2 498.4,1244.5 496.4,1245.7 494.4,1247.0 492.4,1248.3 490.4,1249.5 488.4,1250.8 486.4,1252.0 484.4,1253.0 482.4,1254.1 480.4,1255.2 478.4,1256.3 476.4,1257.4 474.4,1258.5 472.4,1259.5 470.4,1260.6 468.4,1261.7 466.4,1262.8 464.4,1263.9 462.4,1264.9 460.4,1266.0 458.4,1267.1 456.4,1268.1 454.4,1269.2 452.4,1270.3 450.4,1271.3 448.4,1272.4 446.4,1273.5 444.4,1274.5 442.4,1275.6 440.4,1276.5 438.4,1277.3 436.4,1278.2 434.4,1279.1 432.4,1279.9 430.4,1280.8 428.4,1281.7 426.4,1282.5 424.4,1283.4 422.4,1284.3 420.4,1285.1 418.4,1286.0 416.4,1286.9 414.4,1287.7 412.4,1288.6 410.4,1289.5 408.4,1290.4 406.4,1291.2 404.4,1292.1 402.4,1293.0 400.4,1293.9 398.4,1294.7 396.4,1295.3 394.4,1295.9 392.4,1296.5 390.4,1297.2 388.4,1297.8 386.4,1298.4 384.4,1299.0 382.4,1299.6 380.4,1300.2 378.4,1300.8 376.4,1301.4" fill="url(#gu0)"/>
<polygon points="376.4,1303.6 378.4,1303.0 380.4,1302.5 382.4,1301.9 384.4,1301.4 386.4,1300.8 388.4,1300.2 390.4,1299.7 392.4,1299.1 394.4,1298.6 396.4,1298.0 398.4,1297.5 400.4,1296.8 402.4,1296.1 404.4,1295.3 406.4,1294.6 408.4,1293.9 410.4,1293.2 412.4,1292.5 414.4,1291.8 416.4,1291.1 418.4,1290.4 420.4,1289.7 422.4,1288.9 424.4,1288.2 426.4,1287.4 428.4,1286.7 430.4,1286.0 432.4,1285.2 434.4,1284.5 436.4,1283.8 438.4,1283.0 440.4,1282.3 442.4,1281.6 444.4,1280.6 446.4,1279.6 448.4,1278.6 450.4,1277.6 452.4,1276.6 454.4,1275.6 456.4,1274.6 458.4,1273.6 460.4,1272.6 462.4,1271.6 464.4,1270.6 466.4,1269.6 468.4,1268.5 470.4,1267.4 472.4,1266.3 474.4,1265.2 476.4,1264.0 478.4,1262.9 480.4,1261.8 482.4,1260.7 484.4,1259.6 486.4,1258.5 488.4,1257.4 490.4,1256.2 492.4,1255.0 494.4,1253.8 496.4,1252.6 498.4,1251.4 500.4,1250.2 502.4,1249.0 504.4,1247.9 506.4,1246.5 508.4,1245.0 510.4,1243.6 512.4,1242.2 514.4,1245.0 516.4,1243.4 518.4,1241.7 520.4,1240.0 522.4,1238.4 524.4,1236.7 526.4,1235.0 528.4,1233.3 530.4,1231.7 532.4,1230.0 534.4,1228.3 536.4,1226.7 538.4,1225.0 540.4,1223.3 542.4,1221.7 544.4,1220.0 546.4,1218.3 548.4,1216.7 550.4,1215.0 552.4,1213.3 554.4,1211.7 556.4,1210.0 558.4,1208.3 560.4,1206.6 562.4,1205.0 564.4,1203.3 566.4,1201.6 568.4,1200.0 570.4,1198.3 572.4,1196.6 574.4,1195.0 576.4,1193.3 578.4,1191.6 580.4,1190.0 582.4,1188.3 584.4,1186.6 586.4,1185.0 588.4,1183.3 590.4,1181.6 592.4,1179.9 594.4,1178.3 596.4,1176.6 598.4,1174.9 600.4,1173.3 602.4,1171.7 604.4,1170.1 606.4,1168.5 608.4,1166.9 610.4,1165.3 612.4,1163.7 614.4,1162.1 616.4,1160.5 618.4,1158.9 620.4,1157.3 622.4,1155.7 624.4,1154.1 626.4,1152.5 628.4,1150.9 630.4,1149.3 632.4,1147.7 634.4,1146.1 636.4,1144.5 638.4,1142.9 640.4,1141.3 642.4,1139.7 644.4,1138.1 646.4,1136.5 648.4,1134.9 650.4,1133.3 652.4,1131.7 654.4,1130.1 656.4,1128.5 658.4,1126.9 660.4,1125.3 662.4,1123.7 664.4,1122.1 666.4,1120.5 668.4,1118.9 670.4,1117.3 672.4,1115.7 674.4,1114.1 676.4,1112.5 678.4,1110.9 680.4,1109.3 682.4,1107.7 684.4,1106.1 686.4,1104.5 688.4,1102.9 690.4,1101.3 692.4,1099.7 694.4,1098.1 696.4,1096.5 698.4,1094.9 700.4,1093.3 702.4,1091.7 704.4,1090.1 706.4,1088.5 708.4,1086.9 710.4,1085.3 712.4,1083.8 714.4,1082.2 716.4,1080.6 718.4,1079.0 720.4,1077.4 722.4,1075.8 724.4,1074.2 726.4,1072.6 728.4,1071.0 730.4,1069.4 732.4,1067.8 734.4,1066.2 736.4,1064.6 738.4,1063.0 740.4,1061.4 742.4,1059.8 744.4,1058.2 746.4,1056.6 748.4,1055.0 750.4,1053.4 752.4,1051.8 754.4,1050.2 756.4,1048.6 758.4,1047.0 760.4,1045.4 762.4,1043.8 764.4,1042.2 766.4,1040.6 768.4,1039.0 770.4,1037.4 772.4,1035.8 774.4,1034.2 776.4,1032.6 778.4,1031.0 780.4,1029.4 782.4,1027.8 784.4,1026.2 786.4,1024.6 788.4,1023.0 790.4,1021.4 792.4,1019.8 794.4,1018.2 796.4,1016.6 798.4,1015.0 800.4,1013.4 802.4,1011.8 804.4,1010.1 806.4,1008.5 808.4,1006.9 810.4,1005.2 812.4,1003.6 814.4,1001.9 816.4,1000.3 818.4,998.6 820.4,996.9 822.4,995.5 824.4,993.9 826.4,992.3 828.4,990.5 830.4,988.8 832.4,987.2 834.4,985.7 836.4,984.1 838.4,982.3 840.4,980.8 842.4,979.1 844.4,977.5 846.4,975.8 848.4,974.2 850.4,972.8 852.4,971.1 854.4,969.2 856.4,967.7 858.4,966.2 860.4,964.5 862.4,962.7 864.4,961.0 866.4,959.3 868.4,957.6 870.4,955.9 872.4,954.6 874.4,953.2 876.4,951.7 878.4,949.6 880.4,947.9 882.4,947.0 884.4,944.6 886.4,943.2 888.4,941.7 890.4,940.4 892.4,939.0 894.4,937.4 896.4,935.1 898.4,933.8 900.4,932.0 902.4,930.6 904.4,928.4 906.4,926.8 908.4,925.2 910.4,923.6 912.4,921.9 914.4,920.5 916.4,919.0 918.4,917.6 920.4,916.1 922.4,914.4 924.4,912.5 926.4,911.0 928.4,909.4 930.4,907.6 932.4,906.0 934.4,904.3 936.4,902.6 938.4,900.8 940.4,899.4 942.4,897.7 944.4,895.8 946.4,894.6 948.4,893.3 950.4,891.3 952.4,889.5 954.4,888.0 956.4,886.4 958.4,884.9 960.4,883.2 962.4,881.6 964.4,879.8 966.4,878.3 968.4,876.5 970.4,875.2 972.4,873.7 974.4,872.7 976.4,870.9 978.4,869.0 980.4,866.2 982.4,864.9 984.4,864.3 986.4,862.9 988.4,861.7 990.4,858.3 992.4,857.1 994.4,855.5 996.4,854.4 998.4,852.8 1000.4,850.5 1002.4,849.3 1004.4,847.4 1006.4,846.1 1008.4,844.5 1010.4,843.4 1012.4,841.9 1014.4,840.4 1016.4,838.5 1018.4,836.2 1020.4,834.6 1022.4,832.5 1024.4,830.8 1026.4,829.7 1028.4,827.8 1030.4,826.5 1032.4,824.1 1034.4,821.9 1036.4,820.7 1038.4,819.2 1040.4,817.9 1042.4,815.5 1044.4,814.4 1046.4,812.7 1048.4,810.3 1050.4,809.9 1052.4,808.3 1054.4,806.6 1056.4,803.9 1058.4,802.3 1060.4,802.8 1062.4,800.0 1064.4,797.5 1066.4,795.2 1068.4,794.1 1070.4,792.4 1072.4,791.3 1074.4,791.7 1076.4,790.2 1078.4,788.1 1080.4,786.3 1082.4,784.6 1084.4,781.7 1086.4,779.2 1088.4,778.0 1090.4,776.1 1092.4,775.0 1094.4,771.8 1096.4,771.6 1098.4,770.3 1100.4,768.8 1102.4,766.1 1104.4,766.3 1106.4,764.4 1108.4,761.3 1110.4,759.9 1112.4,758.8 1114.4,757.3 1116.4,755.7 1118.4,753.7 1120.4,750.8 1122.4,749.1 1124.4,748.3 1126.4,746.4 1128.4,745.0 1130.4,744.8 1132.4,741.2 1134.4,739.6 1136.4,738.5 1138.4,739.0 1140.4,736.8 1142.4,735.7 1144.4,733.3 1146.4,733.0 1148.4,731.7 1150.4,727.3 1152.4,726.6 1154.4,726.2 1156.4,724.7 1158.4,723.8 1160.4,722.5 1162.4,720.5 1164.4,716.3 1166.4,715.1 1168.4,714.9 1170.4,712.9 1172.4,711.7 1174.4,708.4 1176.4,709.0 1178.4,707.2 1180.4,706.5 1182.4,703.5 1184.4,703.5 1186.4,700.3 1188.4,699.1 1190.4,697.4 1192.4,696.3 1194.4,693.3 1196.4,693.0 1198.4,691.2 1200.4,690.5 1202.4,686.9 1204.4,685.5 1206.4,685.0 1208.4,683.6 1210.4,681.4 1212.4,677.9 1214.4,676.7 1216.4,675.4 1218.4,673.6 1220.4,669.8 1222.4,668.3 1224.4,666.0 1226.4,666.4 1228.4,664.8 1230.4,662.9 1232.4,658.4 1234.4,657.4 1236.4,657.2 1238.4,655.2 1240.4,653.4 1242.4,650.8 1244.4,648.8 1246.4,648.2 1248.4,646.8 1250.4,644.5 1252.4,642.7 1254.4,643.1 1256.4,640.8 1258.4,639.6 1260.4,638.0 1262.4,636.3 1264.4,634.1 1266.4,633.1 1268.4,630.8 1270.4,629.2 1272.4,629.7 1274.4,628.3 1276.4,626.9 1278.4,624.1 1280.4,622.5 1282.4,621.1 1284.4,619.6 1286.4,619.0 1288.4,617.4 1290.4,613.5 1292.4,613.0 1294.4,611.4 1296.4,609.5 1298.4,608.1 1300.4,604.2 1302.4,602.4 1304.4,602.3 1306.4,600.8 1308.4,599.0 1310.4,597.7 1312.4,597.2 1314.4,595.9 1316.4,594.6 1318.4,592.0 1320.4,589.8 1322.4,589.5 1324.4,587.9 1326.4,586.5 1328.4,585.4 1330.4,582.4 1332.4,581.1 1334.4,580.0 1336.4,579.1 1338.4,577.8 1340.4,574.3 1342.4,572.9 1344.4,571.4 1346.4,570.3 1348.4,568.5 1350.4,566.1 1352.4,563.5 1354.4,562.7 1356.4,560.8 1358.4,559.2 1360.4,557.4 1362.4,554.8 1364.4,553.3 1366.4,552.9 1368.4,551.5 1370.4,549.6 1372.4,548.3 1374.4,546.8 1376.4,544.3 1378.4,542.6 1380.4,542.2 1382.4,540.6 1384.4,538.0 1386.4,535.9 1388.4,533.9 1390.4,532.2 1392.4,530.2 1394.4,530.3 1396.4,528.5 1398.4,526.6 1400.4,523.7 1402.4,521.4 1404.4,520.3 1406.4,519.2 1408.4,518.1 1410.4,515.9 1412.4,515.1 1414.4,512.8 1416.4,510.7 1418.4,509.0 1420.4,506.5 1422.4,505.1 1424.4,503.0 1426.4,502.6 1428.4,500.2 1430.4,498.5 1432.4,497.1 1434.4,494.2 1436.4,492.3 1438.4,492.7 1440.4,490.9 1442.4,488.0 1444.4,487.3 1446.4,484.7 1448.4,482.2 1450.4,481.1 1452.4,479.7 1454.4,476.5 1456.4,475.6 1458.4,476.0 1460.4,471.7 1462.4,470.1 1464.4,468.6 1466.4,467.7 1468.4,467.4 1470.4,465.0 1472.4,462.2 1474.4,460.1 1476.4,459.0 1478.4,457.4 1480.4,455.7 1482.4,454.0 1484.4,452.2 1486.4,451.7 1488.4,450.5 1490.4,446.2 1492.4,446.5 1494.4,444.6 1496.4,441.4 1498.4,441.4 1500.4,439.8 1502.4,437.5 1504.4,436.3 1506.4,433.6 1508.4,431.8 1510.4,430.7 1512.4,428.9 1514.4,428.6 1516.4,426.1 1518.4,424.8 1520.4,423.3 1522.4,420.4 1524.4,418.4 1526.4,416.2 1528.4,415.1 1530.4,413.4 1532.4,412.3 1534.4,410.2 1536.4,408.2 1538.4,407.2 1540.4,406.7 1542.4,405.2 1544.4,402.9 1546.4,401.5 1548.4,397.4 1550.4,395.9 1552.4,396.2 1554.4,394.2 1556.4,391.7 1558.4,390.0 1560.4,388.5 1562.4,386.5 1564.4,385.0 1566.4,384.1 1568.4,382.7 1570.4,379.9 1572.4,378.0 1574.4,376.1 1576.4,373.5 1578.4,373.0 1580.4,370.9 1582.4,370.6 1584.4,369.6 1586.4,367.6 1588.4,365.9 1590.4,363.7 1592.4,362.4 1594.4,361.6 1596.4,359.7 1598.4,358.3 1600.4,355.6 1602.4,354.3 1604.4,352.2 1606.4,350.9 1608.4,349.8 1610.4,347.2 1612.4,345.8 1614.4,343.6 1616.4,343.1 1618.4,341.0 1620.4,338.7 1622.4,337.3 1624.4,336.5 1626.4,335.3 1628.4,333.0 1630.4,331.2 1632.4,330.1 1634.4,328.7 1636.4,326.0 1638.4,326.1 1640.4,324.0 1642.4,322.1 1644.4,320.3 1646.4,318.1 1648.4,315.9 1650.4,314.5 1652.4,313.6 1654.4,311.3 1656.4,309.5 1658.4,307.7 1660.4,305.5 1662.4,303.9 1664.4,302.8 1666.4,304.0 1668.4,302.9 1670.4,300.3 1672.4,298.5 1674.4,296.8 1676.4,295.5 1678.4,294.5 1680.4,293.0 1682.4,291.5 1684.4,289.8 1686.4,289.6 1688.4,288.4 1690.4,287.1 1692.4,284.7 1694.4,283.0 1696.4,281.3 1698.4,278.4 1700.4,277.1 1702.4,275.5 1704.4,273.7 1706.4,272.0 1708.4,269.5 1710.4,268.0 1712.4,267.1 1714.4,265.3 1716.4,262.4 1718.4,261.5 1720.4,258.7 1722.4,257.0 1724.4,257.4 1726.4,254.7 1728.4,252.4 1730.4,249.1 1732.4,247.1 1734.4,246.6 1736.4,244.4 1738.4,243.6 1740.4,238.7 1742.4,238.1 1744.4,236.2 1746.4,234.1 1748.4,232.4 1750.4,230.4 1752.4,228.9 1754.4,225.8 1756.4,223.5 1758.4,221.9 1760.4,219.2 1762.4,217.1 1764.4,216.2 1766.4,215.6 1768.4,214.1 1770.4,210.1 1772.4,208.0 1774.4,207.2 1776.4,204.3 1778.4,202.4 1780.4,200.5 1782.4,199.1 1784.4,197.4 1786.4,196.1 1788.4,195.2 1790.4,194.0 1792.4,192.4 1794.4,189.2 1796.4,188.2 1798.4,185.9 1800.4,185.1 1802.4,183.9 1804.4,183.5 1806.4,180.0 1808.4,178.0 1810.4,175.9 1812.4,174.1 1814.4,173.4 1816.4,172.2 1818.4,171.1 1820.4,169.4 1822.4,167.4 1824.4,166.6 1826.4,165.2 1828.4,163.8 1830.4,162.2 1832.4,160.0 1834.4,158.3 1836.4,157.3 1838.4,157.2 1840.4,155.2 1842.4,153.0 1844.4,151.4 1846.4,150.5 1848.4,148.1 1850.4,146.3 1852.4,144.7 1854.4,144.0 1856.4,142.5 1858.4,141.2 1860.4,139.2 1862.4,138.2 1864.4,135.4 1866.4,134.3 1867.0,133.9 1867.0,117.0 1866.4,117.5 1864.4,119.1 1862.4,120.8 1860.4,122.4 1858.4,124.1 1856.4,125.7 1854.4,127.4 1852.4,129.1 1850.4,130.7 1848.4,132.4 1846.4,134.0 1844.4,135.7 1842.4,137.3 1840.4,139.0 1838.4,140.6 1836.4,142.3 1834.4,143.9 1832.4,145.6 1830.4,147.2 1828.4,148.9 1826.4,150.5 1824.4,152.2 1822.4,153.8 1820.4,155.5 1818.4,157.1 1816.4,158.8 1814.4,160.4 1812.4,162.1 1810.4,163.7 1808.4,165.4 1806.4,167.0 1804.4,168.7 1802.4,170.3 1800.4,172.0 1798.4,173.6 1796.4,175.3 1794.4,177.0 1792.4,178.6 1790.4,180.3 1788.4,182.0 1786.4,183.7 1784.4,185.3 1782.4,187.0 1780.4,188.7 1778.4,190.3 1776.4,192.0 1774.4,193.7 1772.4,195.3 1770.4,197.0 1768.4,198.7 1766.4,200.3 1764.4,202.0 1762.4,203.7 1760.4,205.3 1758.4,207.0 1756.4,208.7 1754.4,210.4 1752.4,212.0 1750.4,213.7 1748.4,215.4 1746.4,217.0 1744.4,218.7 1742.4,220.4 1740.4,222.0 1738.4,223.7 1736.4,225.4 1734.4,227.0 1732.4,228.7 1730.4,230.4 1728.4,232.1 1726.4,233.7 1724.4,235.4 1722.4,237.1 1720.4,238.7 1718.4,240.4 1716.4,242.1 1714.4,243.7 1712.4,245.4 1710.4,247.1 1708.4,248.7 1706.4,250.4 1704.4,252.1 1702.4,253.7 1700.4,255.4 1698.4,257.1 1696.4,258.8 1694.4,260.4 1692.4,262.1 1690.4,263.8 1688.4,265.4 1686.4,267.1 1684.4,268.8 1682.4,270.4 1680.4,272.1 1678.4,273.8 1676.4,275.4 1674.4,277.1 1672.4,278.8 1670.4,280.4 1668.4,282.1 1666.4,283.8 1664.4,285.5 1662.4,287.1 1660.4,288.8 1658.4,290.5 1656.4,292.1 1654.4,293.8 1652.4,295.5 1650.4,297.1 1648.4,298.8 1646.4,300.5 1644.4,302.1 1642.4,303.8 1640.4,305.5 1638.4,307.1 1636.4,308.8 1634.4,310.5 1632.4,312.2 1630.4,313.8 1628.4,315.5 1626.4,317.2 1624.4,318.8 1622.4,320.5 1620.4,322.2 1618.4,323.8 1616.4,325.5 1614.4,327.2 1612.4,328.8 1610.4,330.5 1608.4,332.2 1606.4,333.8 1604.4,335.5 1602.4,337.2 1600.4,338.9 1598.4,340.5 1596.4,342.2 1594.4,343.9 1592.4,345.5 1590.4,347.2 1588.4,348.9 1586.4,350.5 1584.4,352.2 1582.4,353.9 1580.4,355.5 1578.4,357.2 1576.4,358.9 1574.4,360.6 1572.4,362.2 1570.4,363.9 1568.4,365.6 1566.4,367.2 1564.4,368.9 1562.4,370.6 1560.4,372.2 1558.4,373.9 1556.4,375.6 1554.4,377.2 1552.4,378.9 1550.4,380.6 1548.4,382.2 1546.4,383.9 1544.4,385.6 1542.4,387.3 1540.4,388.9 1538.4,390.6 1536.4,392.3 1534.4,393.9 1532.4,395.6 1530.4,397.3 1528.4,398.9 1526.4,400.6 1524.4,402.3 1522.4,403.9 1520.4,405.6 1518.4,407.3 1516.4,408.9 1514.4,410.6 1512.4,412.3 1510.4,414.0 1508.4,415.6 1506.4,417.3 1504.4,419.0 1502.4,420.6 1500.4,422.3 1498.4,424.0 1496.4,425.6 1494.4,427.3 1492.4,429.0 1490.4,430.6 1488.4,432.3 1486.4,434.0 1484.4,435.6 1482.4,437.3 1480.4,439.0 1478.4,440.7 1476.4,442.3 1474.4,444.0 1472.4,445.7 1470.4,447.3 1468.4,449.0 1466.4,450.7 1464.4,452.3 1462.4,454.0 1460.4,455.7 1458.4,457.3 1456.4,459.0 1454.4,460.7 1452.4,462.3 1450.4,464.0 1448.4,465.7 1446.4,467.4 1444.4,469.0 1442.4,470.7 1440.4,472.4 1438.4,474.0 1436.4,475.7 1434.4,477.4 1432.4,479.0 1430.4,480.7 1428.4,482.4 1426.4,484.0 1424.4,485.7 1422.4,487.4 1420.4,489.1 1418.4,490.7 1416.4,492.4 1414.4,494.1 1412.4,495.7 1410.4,497.4 1408.4,499.1 1406.4,500.7 1404.4,502.4 1402.4,504.1 1400.4,505.7 1398.4,507.4 1396.4,509.1 1394.4,510.7 1392.4,512.4 1390.4,514.1 1388.4,515.8 1386.4,517.4 1384.4,519.1 1382.4,520.8 1380.4,522.4 1378.4,524.1 1376.4,525.8 1374.4,527.4 1372.4,529.1 1370.4,530.8 1368.4,532.4 1366.4,534.1 1364.4,535.8 1362.4,537.4 1360.4,539.1 1358.4,540.8 1356.4,542.5 1354.4,544.1 1352.4,545.8 1350.4,547.5 1348.4,549.1 1346.4,550.8 1344.4,552.5 1342.4,554.1 1340.4,555.8 1338.4,557.5 1336.4,559.1 1334.4,560.8 1332.4,562.5 1330.4,564.1 1328.4,565.8 1326.4,567.5 1324.4,569.2 1322.4,570.8 1320.4,572.5 1318.4,574.2 1316.4,575.8 1314.4,577.5 1312.4,579.2 1310.4,580.8 1308.4,582.5 1306.4,584.2 1304.4,585.8 1302.4,587.5 1300.4,589.2 1298.4,590.8 1296.4,592.5 1294.4,594.2 1292.4,595.9 1290.4,597.5 1288.4,599.2 1286.4,600.9 1284.4,602.5 1282.4,604.2 1280.4,605.9 1278.4,607.5 1276.4,609.2 1274.4,610.9 1272.4,612.5 1270.4,614.2 1268.4,615.9 1266.4,617.6 1264.4,619.2 1262.4,620.9 1260.4,622.6 1258.4,624.2 1256.4,625.9 1254.4,627.6 1252.4,629.2 1250.4,630.9 1248.4,632.6 1246.4,634.2 1244.4,635.9 1242.4,637.6 1240.4,639.2 1238.4,640.9 1236.4,642.6 1234.4,644.3 1232.4,645.9 1230.4,647.6 1228.4,649.3 1226.4,650.9 1224.4,652.6 1222.4,654.3 1220.4,655.9 1218.4,657.6 1216.4,659.3 1214.4,660.9 1212.4,662.6 1210.4,664.3 1208.4,665.9 1206.4,667.6 1204.4,669.3 1202.4,671.0 1200.4,672.6 1198.4,674.3 1196.4,676.0 1194.4,677.6 1192.4,679.3 1190.4,681.0 1188.4,682.6 1186.4,684.3 1184.4,686.0 1182.4,687.6 1180.4,689.3 1178.4,691.0 1176.4,692.6 1174.4,694.3 1172.4,696.0 1170.4,697.7 1168.4,699.3 1166.4,701.0 1164.4,702.7 1162.4,704.3 1160.4,706.0 1158.4,707.7 1156.4,709.3 1154.4,711.0 1152.4,712.7 1150.4,714.3 1148.4,716.0 1146.4,717.7 1144.4,719.3 1142.4,721.0 1140.4,722.7 1138.4,724.4 1136.4,726.0 1134.4,727.7 1132.4,729.4 1130.4,731.0 1128.4,732.7 1126.4,734.4 1124.4,736.0 1122.4,737.7 1120.4,739.4 1118.4,741.0 1116.4,742.7 1114.4,744.4 1112.4,746.1 1110.4,747.7 1108.4,749.4 1106.4,751.1 1104.4,752.7 1102.4,754.4 1100.4,756.1 1098.4,757.7 1096.4,759.4 1094.4,761.1 1092.4,762.7 1090.4,764.4 1088.4,766.1 1086.4,767.7 1084.4,769.4 1082.4,771.1 1080.4,772.8 1078.4,774.4 1076.4,776.1 1074.4,777.8 1072.4,779.4 1070.4,781.1 1068.4,782.8 1066.4,784.4 1064.4,786.1 1062.4,787.8 1060.4,789.4 1058.4,791.1 1056.4,792.8 1054.4,794.4 1052.4,796.1 1050.4,797.8 1048.4,799.5 1046.4,801.1 1044.4,802.8 1042.4,804.5 1040.4,806.1 1038.4,807.8 1036.4,809.5 1034.4,811.1 1032.4,812.8 1030.4,814.5 1028.4,816.1 1026.4,817.8 1024.4,819.5 1022.4,821.1 1020.4,822.8 1018.4,824.5 1016.4,826.2 1014.4,827.8 1012.4,829.5 1010.4,831.2 1008.4,832.8 1006.4,834.5 1004.4,836.2 1002.4,837.8 1000.4,839.5 998.4,841.2 996.4,842.8 994.4,844.5 992.4,846.2 990.4,847.8 988.4,849.5 986.4,851.2 984.4,852.9 982.4,854.5 980.4,856.2 978.4,857.9 976.4,859.5 974.4,861.2 972.4,862.9 970.4,864.5 968.4,866.2 966.4,867.9 964.4,869.5 962.4,871.2 960.4,872.9 958.4,874.6 956.4,876.2 954.4,877.9 952.4,879.6 950.4,881.2 948.4,882.9 946.4,884.6 944.4,886.2 942.4,887.9 940.4,889.6 938.4,891.2 936.4,892.9 934.4,894.6 932.4,896.2 930.4,897.9 928.4,899.6 926.4,901.3 924.4,902.9 922.4,904.6 920.4,906.3 918.4,907.9 916.4,909.6 914.4,911.3 912.4,912.9 910.4,914.6 908.4,916.3 906.4,917.9 904.4,919.6 902.4,921.3 900.4,922.9 898.4,924.6 896.4,926.3 894.4,928.0 892.4,929.6 890.4,931.3 888.4,933.0 886.4,934.6 884.4,936.3 882.4,938.0 880.4,939.6 878.4,941.3 876.4,943.0 874.4,944.6 872.4,946.3 870.4,948.0 868.4,949.6 866.4,951.3 864.4,953.0 862.4,954.7 860.4,956.3 858.4,958.0 856.4,959.7 854.4,961.3 852.4,963.0 850.4,964.7 848.4,966.3 846.4,968.0 844.4,969.7 842.4,971.3 840.4,973.0 838.4,974.7 836.4,976.3 834.4,978.0 832.4,979.7 830.4,981.4 828.4,983.0 826.4,984.7 824.4,986.4 822.4,988.0 820.4,989.7 818.4,991.4 816.4,993.0 814.4,994.7 812.4,996.4 810.4,998.0 808.4,999.7 806.4,1001.4 804.4,1003.1 802.4,1004.7 800.4,1006.4 798.4,1008.1 796.4,1009.7 794.4,1011.4 792.4,1013.1 790.4,1014.7 788.4,1016.4 786.4,1018.1 784.4,1019.7 782.4,1021.4 780.4,1023.1 778.4,1024.7 776.4,1026.4 774.4,1028.1 772.4,1029.8 770.4,1031.4 768.4,1033.1 766.4,1034.8 764.4,1036.4 762.4,1038.1 760.4,1039.8 758.4,1041.4 756.4,1043.1 754.4,1044.8 752.4,1046.4 750.4,1048.1 748.4,1049.8 746.4,1051.4 744.4,1053.1 742.4,1054.8 740.4,1056.5 738.4,1058.1 736.4,1059.8 734.4,1061.5 732.4,1063.1 730.4,1064.8 728.4,1066.5 726.4,1068.1 724.4,1069.8 722.4,1071.5 720.4,1073.1 718.4,1074.8 716.4,1076.5 714.4,1078.1 712.4,1079.8 710.4,1081.5 708.4,1083.2 706.4,1084.8 704.4,1086.5 702.4,1088.2 700.4,1089.8 698.4,1091.5 696.4,1093.2 694.4,1094.8 692.4,1096.5 690.4,1098.2 688.4,1099.8 686.4,1101.5 684.4,1103.2 682.4,1104.8 680.4,1106.5 678.4,1108.2 676.4,1109.9 674.4,1111.5 672.4,1113.2 670.4,1114.9 668.4,1116.5 666.4,1118.2 664.4,1119.9 662.4,1121.5 660.4,1123.2 658.4,1124.9 656.4,1126.5 654.4,1128.2 652.4,1129.9 650.4,1131.6 648.4,1133.2 646.4,1134.9 644.4,1136.6 642.4,1138.2 640.4,1139.9 638.4,1141.6 636.4,1143.2 634.4,1144.9 632.4,1146.6 630.4,1148.2 628.4,1149.9 626.4,1151.6 624.4,1153.2 622.4,1154.9 620.4,1156.6 618.4,1158.3 616.4,1159.9 614.4,1161.6 612.4,1163.3 610.4,1164.9 608.4,1166.6 606.4,1168.3 604.4,1169.9 602.4,1171.6 600.4,1173.3 598.4,1174.9 596.4,1176.6 594.4,1178.3 592.4,1179.9 590.4,1181.6 588.4,1183.3 586.4,1185.0 584.4,1186.6 582.4,1188.3 580.4,1190.0 578.4,1191.6 576.4,1193.3 574.4,1195.0 572.4,1196.6 570.4,1198.3 568.4,1200.0 566.4,1201.6 564.4,1203.3 562.4,1205.0 560.4,1206.6 558.4,1208.3 556.4,1210.0 554.4,1211.7 552.4,1213.3 550.4,1215.0 548.4,1216.7 546.4,1218.3 544.4,1220.0 542.4,1221.7 540.4,1223.3 538.4,1225.0 536.4,1226.7 534.4,1228.3 532.4,1230.0 530.4,1231.7 528.4,1233.3 526.4,1235.0 524.4,1236.7 522.4,1238.4 520.4,1240.0 518.4,1241.7 516.4,1243.4 514.4,1245.0 512.4,1235.0 510.4,1236.5 508.4,1237.9 506.4,1239.3 504.4,1240.7 502.4,1241.9 500.4,1243.2 498.4,1244.5 496.4,1245.7 494.4,1247.0 492.4,1248.3 490.4,1249.5 488.4,1250.8 486.4,1252.0 484.4,1253.0 482.4,1254.1 480.4,1255.2 478.4,1256.3 476.4,1257.4 474.4,1258.5 472.4,1259.5 470.4,1260.6 468.4,1261.7 466.4,1262.8 464.4,1263.9 462.4,1264.9 460.4,1266.0 458.4,1267.1 456.4,1268.1 454.4,1269.2 452.4,1270.3 450.4,1271.3 448.4,1272.4 446.4,1273.5 444.4,1274.5 442.4,1275.6 440.4,1276.5 438.4,1277.3 436.4,1278.2 434.4,1279.1 432.4,1279.9 430.4,1280.8 428.4,1281.7 426.4,1282.5 424.4,1283.4 422.4,1284.3 420.4,1285.1 418.4,1286.0 416.4,1286.9 414.4,1287.7 412.4,1288.6 410.4,1289.5 408.4,1290.4 406.4,1291.2 404.4,1292.1 402.4,1293.0 400.4,1293.9 398.4,1294.7 396.4,1295.3 394.4,1295.9 392.4,1296.5 390.4,1297.2 388.4,1297.8 386.4,1298.4 384.4,1299.0 382.4,1299.6 380.4,1300.2 378.4,1300.8 376.4,1301.4" fill="url(#gl0)"/>
<polygon points="376.4,1299.5 378.4,1298.9 380.4,1298.2 382.4,1297.5 384.4,1296.9 386.4,1296.2 388.4,1295.5 390.4,1294.9 392.4,1294.2 394.4,1293.6 396.4,1292.9 398.4,1292.2 400.4,1291.3 402.4,1290.2 404.4,1289.2 406.4,1288.2 408.4,1287.2 410.4,1286.2 412.4,1285.1 414.4,1284.1 416.4,1283.1 418.4,1282.1 420.4,1281.1 422.4,1280.1 424.4,1279.1 426.4,1278.1 428.4,1277.1 430.4,1276.1 432.4,1275.1 434.4,1274.1 436.4,1273.2 438.4,1272.2 440.4,1271.2 442.4,1270.2 444.4,1269.1 446.4,1268.0 448.4,1266.8 450.4,1265.7 452.4,1264.6 454.4,1263.4 456.4,1262.3 458.4,1261.2 460.4,1260.0 462.4,1258.9 464.4,1257.8 466.4,1256.7 468.4,1255.6 470.4,1254.6 472.4,1253.5 474.4,1252.4 476.4,1251.4 478.4,1250.3 480.4,1249.2 482.4,1248.2 484.4,1247.1 486.4,1246.0 488.4,1244.9 490.4,1243.6 492.4,1242.2 494.4,1240.9 496.4,1239.5 498.4,1238.2 500.4,1236.9 502.4,1235.5 504.4,1234.2 506.4,1232.9 508.4,1231.5 510.4,1230.2 512.4,1228.6 514.4,1228.2 516.4,1226.7 518.4,1225.2 520.4,1223.6 522.4,1222.1 524.4,1220.5 526.4,1219.0 528.4,1217.4 530.4,1215.9 532.4,1214.3 534.4,1212.9 536.4,1211.6 538.4,1210.2 540.4,1208.8 542.4,1207.5 544.4,1206.1 546.4,1204.7 548.4,1203.4 550.4,1202.0 552.4,1200.6 554.4,1199.3 556.4,1197.9 558.4,1196.4 560.4,1195.0 562.4,1193.6 564.4,1192.2 566.4,1190.7 568.4,1189.3 570.4,1187.9 572.4,1186.5 574.4,1185.0 576.4,1183.6 578.4,1182.2 580.4,1180.6 582.4,1178.7 584.4,1176.8 586.4,1174.9 588.4,1173.0 590.4,1171.1 592.4,1169.2 594.4,1167.3 596.4,1165.3 598.4,1163.4 600.4,1161.5 602.4,1159.8 604.4,1158.0 606.4,1156.2 608.4,1154.4 610.4,1152.6 612.4,1150.8 614.4,1149.0 616.4,1147.2 618.4,1145.4 624.4,1140.1 632.4,1132.9 640.4,1125.8 648.4,1118.6 656.4,1111.5 664.4,1104.2 672.4,1096.9 680.4,1089.6 688.4,1082.3 696.4,1075.0 704.4,1067.7 712.4,1060.4 720.4,1053.1 728.4,1045.9 736.4,1038.7 744.4,1031.5 752.4,1024.3 760.4,1017.1 768.4,1009.9 776.4,1002.7 784.4,995.6 792.4,988.4 800.4,981.2 808.4,974.1 816.4,967.0 824.4,959.9 832.4,952.8 840.4,945.8 848.4,938.8 856.4,931.8 864.4,924.8 872.4,917.8 880.4,910.7 888.4,903.7 896.4,896.7 904.4,889.7 912.4,882.6 920.4,875.5 928.4,868.3 936.4,861.2 944.4,854.1 952.4,847.1 960.4,840.3 968.4,833.5 976.4,826.7 984.4,819.8 992.4,813.0 1000.4,806.2 1008.4,799.2 1016.4,792.2 1024.4,785.2 1032.4,778.2 1040.4,771.2 1048.4,764.7 1056.4,759.0 1064.4,753.3 1072.4,747.6 1080.4,742.6 1088.4,738.0 1096.4,733.3 1104.4,728.0 1112.4,722.2 1120.4,716.4 1128.4,710.6 1136.4,704.8 1144.4,698.9 1152.4,693.0 1160.4,686.6 1168.4,680.2 1176.4,673.8 1184.4,667.4 1192.4,661.0 1200.4,654.7 1208.4,648.9 1216.4,643.1 1224.4,637.3 1232.4,631.6 1240.4,625.8 1248.4,619.3 1256.4,612.8 1264.4,606.3 1272.4,599.8 1280.4,593.3 1288.4,586.8 1296.4,580.3 1304.4,573.5 1312.4,566.5 1320.4,559.4 1328.4,552.4 1336.4,545.4 1344.4,538.3 1352.4,531.2 1360.4,524.1 1368.4,516.9 1376.4,509.7 1384.4,502.5 1392.4,495.3 1400.4,488.2 1408.4,481.6 1416.4,475.1 1424.4,468.5 1432.4,461.9 1440.4,455.4 1448.4,448.8 1456.4,442.2 1464.4,435.7 1472.4,429.1 1480.4,422.5 1488.4,416.0 1496.4,409.4 1504.4,402.8 1512.4,396.1 1520.4,389.5 1528.4,382.9 1536.4,376.2 1544.4,369.6 1552.4,362.9 1560.4,356.3 1568.4,349.7 1576.4,343.0 1584.4,336.4 1592.4,329.7 1600.4,323.1 1608.4,316.1 1616.4,309.0 1624.4,302.0 1632.4,294.9 1640.4,287.9 1648.4,280.9 1656.4,273.4 1664.4,265.9 1672.4,258.4 1680.4,250.8 1688.4,243.3 1696.4,235.7 1704.4,228.3 1712.4,220.8 1720.4,213.4 1728.4,206.0 1736.4,198.6 1744.4,191.1 1752.4,184.2 1760.4,177.8 1768.4,171.3 1776.4,164.9 1784.4,159.1 1792.4,153.9 1800.4,148.6 1808.4,142.7 1816.4,136.7 1824.4,130.8 1832.4,124.8 1840.4,118.6 1848.4,112.5 1856.4,106.3 1864.4,100.1 1867.0,98.1 1867.0,117.0 1864.4,119.1 1856.4,125.7 1848.4,132.4 1840.4,139.0 1832.4,145.6 1824.4,152.2 1816.4,158.8 1808.4,165.4 1800.4,172.0 1792.4,178.6 1784.4,185.3 1776.4,192.0 1768.4,198.7 1760.4,205.3 1752.4,212.0 1744.4,218.7 1736.4,225.4 1728.4,232.1 1720.4,238.7 1712.4,245.4 1704.4,252.1 1696.4,258.8 1688.4,265.4 1680.4,272.1 1672.4,278.8 1664.4,285.5 1656.4,292.1 1648.4,298.8 1640.4,305.5 1632.4,312.2 1624.4,318.8 1616.4,325.5 1608.4,332.2 1600.4,338.9 1592.4,345.5 1584.4,352.2 1576.4,358.9 1568.4,365.6 1560.4,372.2 1552.4,378.9 1544.4,385.6 1536.4,392.3 1528.4,398.9 1520.4,405.6 1512.4,412.3 1504.4,419.0 1496.4,425.6 1488.4,432.3 1480.4,439.0 1472.4,445.7 1464.4,452.3 1456.4,459.0 1448.4,465.7 1440.4,472.4 1432.4,479.0 1424.4,485.7 1416.4,492.4 1408.4,499.1 1400.4,505.7 1392.4,512.4 1384.4,519.1 1376.4,525.8 1368.4,532.4 1360.4,539.1 1352.4,545.8 1344.4,552.5 1336.4,559.1 1328.4,565.8 1320.4,572.5 1312.4,579.2 1304.4,585.8 1296.4,592.5 1288.4,599.2 1280.4,605.9 1272.4,612.5 1264.4,619.2 1256.4,625.9 1248.4,632.6 1240.4,639.2 1232.4,645.9 1224.4,652.6 1216.4,659.3 1208.4,665.9 1200.4,672.6 1192.4,679.3 1184.4,686.0 1176.4,692.6 1168.4,699.3 1160.4,706.0 1152.4,712.7 1144.4,719.3 1136.4,726.0 1128.4,732.7 1120.4,739.4 1112.4,746.1 1104.4,752.7 1096.4,759.4 1088.4,766.1 1080.4,772.8 1072.4,779.4 1064.4,786.1 1056.4,792.8 1048.4,799.5 1040.4,806.1 1032.4,812.8 1024.4,819.5 1016.4,826.2 1008.4,832.8 1000.4,839.5 992.4,846.2 984.4,852.9 976.4,859.5 968.4,866.2 960.4,872.9 952.4,879.6 944.4,886.2 936.4,892.9 928.4,899.6 920.4,906.3 912.4,912.9 904.4,919.6 896.4,926.3 888.4,933.0 880.4,939.6 872.4,946.3 864.4,953.0 856.4,959.7 848.4,966.3 840.4,973.0 832.4,979.7 824.4,986.4 816.4,993.0 808.4,999.7 800.4,1006.4 792.4,1013.1 784.4,1019.7 776.4,1026.4 768.4,1033.1 760.4,1039.8 752.4,1046.4 744.4,1053.1 736.4,1059.8 728.4,1066.5 720.4,1073.1 712.4,1079.8 704.4,1086.5 696.4,1093.2 688.4,1099.8 680.4,1106.5 672.4,1113.2 664.4,1119.9 656.4,1126.5 648.4,1133.2 640.4,1139.9 632.4,1146.6 624.4,1153.2 618.4,1158.3 616.4,1159.9 614.4,1161.6 612.4,1163.3 610.4,1164.9 608.4,1166.6 606.4,1168.3 604.4,1169.9 602.4,1171.6 600.4,1173.3 598.4,1174.9 596.4,1176.6 594.4,1178.3 592.4,1179.9 590.4,1181.6 588.4,1183.3 586.4,1185.0 584.4,1186.6 582.4,1188.3 580.4,1190.0 578.4,1191.6 576.4,1193.3 574.4,1195.0 572.4,1196.6 570.4,1198.3 568.4,1200.0 566.4,1201.6 564.4,1203.3 562.4,1205.0 560.4,1206.6 558.4,1208.3 556.4,1210.0 554.4,1211.7 552.4,1213.3 550.4,1215.0 548.4,1216.7 546.4,1218.3 544.4,1220.0 542.4,1221.7 540.4,1223.3 538.4,1225.0 536.4,1226.7 534.4,1228.3 532.4,1230.0 530.4,1231.7 528.4,1233.3 526.4,1235.0 524.4,1236.7 522.4,1238.4 520.4,1240.0 518.4,1241.7 516.4,1243.4 514.4,1245.0 512.4,1235.0 510.4,1236.5 508.4,1237.9 506.4,1239.3 504.4,1240.7 502.4,1241.9 500.4,1243.2 498.4,1244.5 496.4,1245.7 494.4,1247.0 492.4,1248.3 490.4,1249.5 488.4,1250.8 486.4,1252.0 484.4,1253.0 482.4,1254.1 480.4,1255.2 478.4,1256.3 476.4,1257.4 474.4,1258.5 472.4,1259.5 470.4,1260.6 468.4,1261.7 466.4,1262.8 464.4,1263.9 462.4,1264.9 460.4,1266.0 458.4,1267.1 456.4,1268.1 454.4,1269.2 452.4,1270.3 450.4,1271.3 448.4,1272.4 446.4,1273.5 444.4,1274.5 442.4,1275.6 440.4,1276.5 438.4,1277.3 436.4,1278.2 434.4,1279.1 432.4,1279.9 430.4,1280.8 428.4,1281.7 426.4,1282.5 424.4,1283.4 422.4,1284.3 420.4,1285.1 418.4,1286.0 416.4,1286.9 414.4,1287.7 412.4,1288.6 410.4,1289.5 408.4,1290.4 406.4,1291.2 404.4,1292.1 402.4,1293.0 400.4,1293.9 398.4,1294.7 396.4,1295.3 394.4,1295.9 392.4,1296.5 390.4,1297.2 388.4,1297.8 386.4,1298.4 384.4,1299.0 382.4,1299.6 380.4,1300.2 378.4,1300.8 376.4,1301.4" fill="url(#gu1)"/>
<polygon points="376.4,1303.4 378.4,1302.8 380.4,1302.3 382.4,1301.7 384.4,1301.1 386.4,1300.6 388.4,1300.0 390.4,1299.4 392.4,1298.9 394.4,1298.3 396.4,1297.7 398.4,1297.2 400.4,1296.5 402.4,1295.7 404.4,1295.0 406.4,1294.3 408.4,1293.6 410.4,1292.8 412.4,1292.1 414.4,1291.4 416.4,1290.7 418.4,1289.9 420.4,1289.2 422.4,1288.5 424.4,1287.7 426.4,1287.0 428.4,1286.2 430.4,1285.5 432.4,1284.7 434.4,1284.0 436.4,1283.2 438.4,1282.5 440.4,1281.7 442.4,1281.0 444.4,1280.0 446.4,1279.0 448.4,1278.0 450.4,1277.0 452.4,1276.0 454.4,1275.0 456.4,1274.0 458.4,1273.0 460.4,1272.0 462.4,1271.0 464.4,1270.0 466.4,1268.9 468.4,1267.8 470.4,1266.7 472.4,1265.6 474.4,1264.5 476.4,1263.4 478.4,1262.3 480.4,1261.2 482.4,1260.1 484.4,1259.0 486.4,1257.9 488.4,1256.7 490.4,1255.5 492.4,1254.3 494.4,1253.1 496.4,1251.9 498.4,1250.7 500.4,1249.5 502.4,1248.3 504.4,1247.1 506.4,1245.8 508.4,1244.3 510.4,1242.9 512.4,1241.4 514.4,1245.0 516.4,1243.4 518.4,1241.7 520.4,1240.0 522.4,1238.4 524.4,1236.7 526.4,1235.0 528.4,1233.3 530.4,1231.7 532.4,1230.0 534.4,1228.3 536.4,1226.7 538.4,1225.0 540.4,1223.3 542.4,1221.7 544.4,1220.0 546.4,1218.3 548.4,1216.7 550.4,1215.0 552.4,1213.3 554.4,1211.7 556.4,1210.0 558.4,1208.3 560.4,1206.6 562.4,1205.0 564.4,1203.3 566.4,1201.6 568.4,1200.0 570.4,1198.3 572.4,1196.6 574.4,1195.0 576.4,1193.3 578.4,1191.6 580.4,1190.0 582.4,1188.3 584.4,1186.6 586.4,1185.0 588.4,1183.3 590.4,1181.6 592.4,1179.9 594.4,1178.3 596.4,1176.6 598.4,1174.9 600.4,1173.3 602.4,1171.7 604.4,1170.1 606.4,1168.5 608.4,1166.9 610.4,1165.3 612.4,1163.6 614.4,1162.0 616.4,1160.4 618.4,1158.8 624.4,1154.0 632.4,1147.6 640.4,1141.2 648.4,1134.7 656.4,1128.3 664.4,1121.9 672.4,1115.5 680.4,1109.1 688.4,1102.6 696.4,1096.2 704.4,1089.8 712.4,1083.4 720.4,1076.9 728.4,1070.5 736.4,1064.1 744.4,1057.7 752.4,1051.2 760.4,1044.8 768.4,1038.4 776.4,1032.0 784.4,1025.5 792.4,1019.1 800.4,1012.7 808.4,1006.2 816.4,999.6 824.4,993.1 832.4,986.6 840.4,980.0 848.4,973.5 856.4,967.0 864.4,960.4 872.4,953.9 880.4,947.4 888.4,940.9 896.4,934.3 904.4,927.8 912.4,921.3 920.4,914.8 928.4,908.3 936.4,901.8 944.4,895.3 952.4,888.8 960.4,882.3 968.4,875.8 976.4,869.3 984.4,862.9 992.4,856.4 1000.4,849.9 1008.4,843.2 1016.4,836.6 1024.4,829.9 1032.4,823.3 1040.4,816.7 1048.4,810.0 1056.4,803.4 1064.4,796.7 1072.4,790.1 1080.4,783.5 1088.4,776.8 1096.4,770.2 1104.4,763.7 1112.4,757.4 1120.4,751.1 1128.4,744.8 1136.4,738.5 1144.4,732.1 1152.4,725.8 1160.4,719.5 1168.4,713.2 1176.4,706.9 1184.4,700.6 1192.4,694.3 1200.4,687.9 1208.4,680.6 1216.4,673.3 1224.4,666.0 1232.4,658.7 1240.4,651.4 1248.4,645.2 1256.4,639.0 1264.4,632.8 1272.4,626.6 1280.4,620.4 1288.4,614.2 1296.4,608.1 1304.4,601.6 1312.4,595.0 1320.4,588.4 1328.4,581.8 1336.4,575.2 1344.4,568.6 1352.4,562.0 1360.4,555.4 1368.4,548.7 1376.4,542.1 1384.4,535.5 1392.4,528.9 1400.4,522.3 1408.4,515.4 1416.4,508.6 1424.4,501.7 1432.4,494.9 1440.4,488.0 1448.4,481.2 1456.4,474.4 1464.4,467.5 1472.4,460.7 1480.4,453.8 1488.4,447.0 1496.4,440.1 1504.4,433.4 1512.4,426.8 1520.4,420.2 1528.4,413.6 1536.4,407.1 1544.4,400.5 1552.4,393.9 1560.4,387.3 1568.4,380.7 1576.4,374.1 1584.4,367.5 1592.4,360.9 1600.4,354.3 1608.4,347.8 1616.4,341.2 1624.4,334.7 1632.4,328.1 1640.4,321.5 1648.4,315.0 1656.4,308.9 1664.4,302.9 1672.4,296.9 1680.4,290.9 1688.4,284.9 1696.4,278.9 1704.4,272.1 1712.4,264.7 1720.4,257.3 1728.4,249.9 1736.4,242.4 1744.4,233.3 1752.4,225.2 1760.4,218.0 1768.4,210.9 1776.4,203.7 1784.4,197.0 1792.4,190.7 1800.4,184.5 1808.4,178.2 1816.4,172.0 1824.4,165.7 1832.4,159.5 1840.4,153.0 1848.4,146.5 1856.4,140.0 1864.4,133.5 1867.0,131.4 1867.0,117.0 1864.4,119.1 1856.4,125.7 1848.4,132.4 1840.4,139.0 1832.4,145.6 1824.4,152.2 1816.4,158.8 1808.4,165.4 1800.4,172.0 1792.4,178.6 1784.4,185.3 1776.4,192.0 1768.4,198.7 1760.4,205.3 1752.4,212.0 1744.4,218.7 1736.4,225.4 1728.4,232.1 1720.4,238.7 1712.4,245.4 1704.4,252.1 1696.4,258.8 1688.4,265.4 1680.4,272.1 1672.4,278.8 1664.4,285.5 1656.4,292.1 1648.4,298.8 1640.4,305.5 1632.4,312.2 1624.4,318.8 1616.4,325.5 1608.4,332.2 1600.4,338.9 1592.4,345.5 1584.4,352.2 1576.4,358.9 1568.4,365.6 1560.4,372.2 1552.4,378.9 1544.4,385.6 1536.4,392.3 1528.4,398.9 1520.4,405.6 1512.4,412.3 1504.4,419.0 1496.4,425.6 1488.4,432.3 1480.4,439.0 1472.4,445.7 1464.4,452.3 1456.4,459.0 1448.4,465.7 1440.4,472.4 1432.4,479.0 1424.4,485.7 1416.4,492.4 1408.4,499.1 1400.4,505.7 1392.4,512.4 1384.4,519.1 1376.4,525.8 1368.4,532.4 1360.4,539.1 1352.4,545.8 1344.4,552.5 1336.4,559.1 1328.4,565.8 1320.4,572.5 1312.4,579.2 1304.4,585.8 1296.4,592.5 1288.4,599.2 1280.4,605.9 1272.4,612.5 1264.4,619.2 1256.4,625.9 1248.4,632.6 1240.4,639.2 1232.4,645.9 1224.4,652.6 1216.4,659.3 1208.4,665.9 1200.4,672.6 1192.4,679.3 1184.4,686.0 1176.4,692.6 1168.4,699.3 1160.4,706.0 1152.4,712.7 1144.4,719.3 1136.4,726.0 1128.4,732.7 1120.4,739.4 1112.4,746.1 1104.4,752.7 1096.4,759.4 1088.4,766.1 1080.4,772.8 1072.4,779.4 1064.4,786.1 1056.4,792.8 1048.4,799.5 1040.4,806.1 1032.4,812.8 1024.4,819.5 1016.4,826.2 1008.4,832.8 1000.4,839.5 992.4,846.2 984.4,852.9 976.4,859.5 968.4,866.2 960.4,872.9 952.4,879.6 944.4,886.2 936.4,892.9 928.4,899.6 920.4,906.3 912.4,912.9 904.4,919.6 896.4,926.3 888.4,933.0 880.4,939.6 872.4,946.3 864.4,953.0 856.4,959.7 848.4,966.3 840.4,973.0 832.4,979.7 824.4,986.4 816.4,993.0 808.4,999.7 800.4,1006.4 792.4,1013.1 784.4,1019.7 776.4,1026.4 768.4,1033.1 760.4,1039.8 752.4,1046.4 744.4,1053.1 736.4,1059.8 728.4,1066.5 720.4,1073.1 712.4,1079.8 704.4,1086.5 696.4,1093.2 688.4,1099.8 680.4,1106.5 672.4,1113.2 664.4,1119.9 656.4,1126.5 648.4,1133.2 640.4,1139.9 632.4,1146.6 624.4,1153.2 618.4,1158.3 616.4,1159.9 614.4,1161.6 612.4,1163.3 610.4,1164.9 608.4,1166.6 606.4,1168.3 604.4,1169.9 602.4,1171.6 600.4,1173.3 598.4,1174.9 596.4,1176.6 594.4,1178.3 592.4,1179.9 590.4,1181.6 588.4,1183.3 586.4,1185.0 584.4,1186.6 582.4,1188.3 580.4,1190.0 578.4,1191.6 576.4,1193.3 574.4,1195.0 572.4,1196.6 570.4,1198.3 568.4,1200.0 566.4,1201.6 564.4,1203.3 562.4,1205.0 560.4,1206.6 558.4,1208.3 556.4,1210.0 554.4,1211.7 552.4,1213.3 550.4,1215.0 548.4,1216.7 546.4,1218.3 544.4,1220.0 542.4,1221.7 540.4,1223.3 538.4,1225.0 536.4,1226.7 534.4,1228.3 532.4,1230.0 530.4,1231.7 528.4,1233.3 526.4,1235.0 524.4,1236.7 522.4,1238.4 520.4,1240.0 518.4,1241.7 516.4,1243.4 514.4,1245.0 512.4,1235.0 510.4,1236.5 508.4,1237.9 506.4,1239.3 504.4,1240.7 502.4,1241.9 500.4,1243.2 498.4,1244.5 496.4,1245.7 494.4,1247.0 492.4,1248.3 490.4,1249.5 488.4,1250.8 486.4,1252.0 484.4,1253.0 482.4,1254.1 480.4,1255.2 478.4,1256.3 476.4,1257.4 474.4,1258.5 472.4,1259.5 470.4,1260.6 468.4,1261.7 466.4,1262.8 464.4,1263.9 462.4,1264.9 460.4,1266.0 458.4,1267.1 456.4,1268.1 454.4,1269.2 452.4,1270.3 450.4,1271.3 448.4,1272.4 446.4,1273.5 444.4,1274.5 442.4,1275.6 440.4,1276.5 438.4,1277.3 436.4,1278.2 434.4,1279.1 432.4,1279.9 430.4,1280.8 428.4,1281.7 426.4,1282.5 424.4,1283.4 422.4,1284.3 420.4,1285.1 418.4,1286.0 416.4,1286.9 414.4,1287.7 412.4,1288.6 410.4,1289.5 408.4,1290.4 406.4,1291.2 404.4,1292.1 402.4,1293.0 400.4,1293.9 398.4,1294.7 396.4,1295.3 394.4,1295.9 392.4,1296.5 390.4,1297.2 388.4,1297.8 386.4,1298.4 384.4,1299.0 382.4,1299.6 380.4,1300.2 378.4,1300.8 376.4,1301.4" fill="url(#gl1)"/>
<polygon points="376.4,1299.7 378.4,1299.1 380.4,1298.4 382.4,1297.8 384.4,1297.1 386.4,1296.5 388.4,1295.8 390.4,1295.1 392.4,1294.5 394.4,1293.8 396.4,1293.2 398.4,1292.5 400.4,1291.5 402.4,1290.5 404.4,1289.5 406.4,1288.5 408.4,1287.5 410.4,1286.5 412.4,1285.5 414.4,1284.5 416.4,1283.5 418.4,1282.5 420.4,1281.5 422.4,1280.5 424.4,1279.6 426.4,1278.6 428.4,1277.6 430.4,1276.6 432.4,1275.7 434.4,1274.7 436.4,1273.7 438.4,1272.7 440.4,1271.8 442.4,1270.8 444.4,1269.7 446.4,1268.6 448.4,1267.4 450.4,1266.3 452.4,1265.2 454.4,1264.1 456.4,1262.9 458.4,1261.8 460.4,1260.7 462.4,1259.6 464.4,1258.5 466.4,1257.4 468.4,1256.3 470.4,1255.2 472.4,1254.2 474.4,1253.1 476.4,1252.0 478.4,1251.0 480.4,1249.9 482.4,1248.8 484.4,1247.8 486.4,1246.7 488.4,1245.5 490.4,1244.2 492.4,1242.9 494.4,1241.6 496.4,1240.2 498.4,1238.9 500.4,1237.6 502.4,1236.3 504.4,1234.9 506.4,1233.6 508.4,1232.2 510.4,1230.9 512.4,1229.3 514.4,1230.1 516.4,1228.6 518.4,1227.0 520.4,1225.4 522.4,1223.9 524.4,1222.3 526.4,1220.8 528.4,1219.2 530.4,1217.6 532.4,1216.1 534.4,1214.7 536.4,1213.3 538.4,1211.9 540.4,1210.5 542.4,1209.1 544.4,1207.7 546.4,1206.3 548.4,1204.9 550.4,1203.5 552.4,1202.1 554.4,1200.7 556.4,1199.2 558.4,1197.8 560.4,1196.3 562.4,1194.9 564.4,1193.4 566.4,1191.9 568.4,1190.5 570.4,1189.0 572.4,1187.6 574.4,1186.1 576.4,1184.7 578.4,1183.2 580.4,1181.7 582.4,1179.8 584.4,1177.9 586.4,1176.0 588.4,1174.1 590.4,1172.3 592.4,1170.4 594.4,1168.5 596.4,1166.6 598.4,1164.7 600.4,1162.8 602.4,1161.1 604.4,1159.3 606.4,1157.5 608.4,1155.7 610.4,1154.0 612.4,1152.2 614.4,1150.4 616.4,1148.6 618.4,1146.9 624.4,1141.5 632.4,1134.4 640.4,1127.3 648.4,1120.2 656.4,1113.1 664.4,1106.0 672.4,1098.7 680.4,1091.5 688.4,1084.2 696.4,1077.0 704.4,1069.8 712.4,1062.5 720.4,1055.3 728.4,1048.2 736.4,1041.1 744.4,1033.9 752.4,1026.8 760.4,1019.7 768.4,1012.5 776.4,1005.4 784.4,998.2 792.4,991.1 800.4,984.0 808.4,976.9 816.4,969.9 824.4,962.8 832.4,955.8 840.4,948.8 848.4,941.8 856.4,934.9 864.4,927.9 872.4,920.9 880.4,914.0 888.4,907.0 896.4,900.0 904.4,893.0 912.4,885.9 920.4,878.9 928.4,871.8 936.4,864.8 944.4,857.7 952.4,850.7 960.4,843.9 968.4,837.1 976.4,830.3 984.4,823.5 992.4,816.7 1000.4,809.9 1008.4,802.9 1016.4,796.0 1024.4,789.0 1032.4,782.1 1040.4,775.1 1048.4,768.5 1056.4,762.7 1064.4,756.9 1072.4,751.1 1080.4,746.0 1088.4,741.1 1096.4,736.2 1104.4,730.7 1112.4,724.8 1120.4,718.9 1128.4,713.0 1136.4,707.1 1144.4,701.2 1152.4,695.2 1160.4,688.7 1168.4,682.3 1176.4,675.9 1184.4,669.5 1192.4,663.1 1200.4,656.7 1208.4,650.8 1216.4,644.9 1224.4,639.0 1232.4,633.2 1240.4,627.3 1248.4,620.7 1256.4,614.2 1264.4,607.7 1272.4,601.2 1280.4,594.7 1288.4,588.2 1296.4,581.6 1304.4,574.9 1312.4,567.9 1320.4,560.9 1328.4,553.9 1336.4,546.9 1344.4,539.9 1352.4,532.9 1360.4,525.7 1368.4,518.6 1376.4,511.5 1384.4,504.4 1392.4,497.2 1400.4,490.1 1408.4,483.6 1416.4,477.0 1424.4,470.4 1432.4,463.8 1440.4,457.2 1448.4,450.7 1456.4,444.1 1464.4,437.5 1472.4,430.9 1480.4,424.4 1488.4,417.8 1496.4,411.2 1504.4,404.6 1512.4,397.9 1520.4,391.3 1528.4,384.6 1536.4,378.0 1544.4,371.4 1552.4,364.7 1560.4,358.1 1568.4,351.4 1576.4,344.8 1584.4,338.1 1592.4,331.5 1600.4,324.8 1608.4,317.8 1616.4,310.8 1624.4,303.9 1632.4,296.9 1640.4,289.9 1648.4,282.9 1656.4,275.5 1664.4,268.1 1672.4,260.6 1680.4,253.2 1688.4,245.7 1696.4,238.3 1704.4,230.9 1712.4,223.6 1720.4,216.2 1728.4,208.9 1736.4,201.5 1744.4,194.2 1752.4,187.3 1760.4,180.9 1768.4,174.4 1776.4,167.9 1784.4,162.0 1792.4,156.6 1800.4,151.2 1808.4,145.2 1816.4,139.2 1824.4,133.1 1832.4,127.1 1840.4,120.9 1848.4,114.7 1856.4,108.5 1864.4,102.2 1867.0,100.2 1867.0,117.0 1864.4,119.1 1856.4,125.7 1848.4,132.4 1840.4,139.0 1832.4,145.6 1824.4,152.2 1816.4,158.8 1808.4,165.4 1800.4,172.0 1792.4,178.6 1784.4,185.3 1776.4,192.0 1768.4,198.7 1760.4,205.3 1752.4,212.0 1744.4,218.7 1736.4,225.4 1728.4,232.1 1720.4,238.7 1712.4,245.4 1704.4,252.1 1696.4,258.8 1688.4,265.4 1680.4,272.1 1672.4,278.8 1664.4,285.5 1656.4,292.1 1648.4,298.8 1640.4,305.5 1632.4,312.2 1624.4,318.8 1616.4,325.5 1608.4,332.2 1600.4,338.9 1592.4,345.5 1584.4,352.2 1576.4,358.9 1568.4,365.6 1560.4,372.2 1552.4,378.9 1544.4,385.6 1536.4,392.3 1528.4,398.9 1520.4,405.6 1512.4,412.3 1504.4,419.0 1496.4,425.6 1488.4,432.3 1480.4,439.0 1472.4,445.7 1464.4,452.3 1456.4,459.0 1448.4,465.7 1440.4,472.4 1432.4,479.0 1424.4,485.7 1416.4,492.4 1408.4,499.1 1400.4,505.7 1392.4,512.4 1384.4,519.1 1376.4,525.8 1368.4,532.4 1360.4,539.1 1352.4,545.8 1344.4,552.5 1336.4,559.1 1328.4,565.8 1320.4,572.5 1312.4,579.2 1304.4,585.8 1296.4,592.5 1288.4,599.2 1280.4,605.9 1272.4,612.5 1264.4,619.2 1256.4,625.9 1248.4,632.6 1240.4,639.2 1232.4,645.9 1224.4,652.6 1216.4,659.3 1208.4,665.9 1200.4,672.6 1192.4,679.3 1184.4,686.0 1176.4,692.6 1168.4,699.3 1160.4,706.0 1152.4,712.7 1144.4,719.3 1136.4,726.0 1128.4,732.7 1120.4,739.4 1112.4,746.1 1104.4,752.7 1096.4,759.4 1088.4,766.1 1080.4,772.8 1072.4,779.4 1064.4,786.1 1056.4,792.8 1048.4,799.5 1040.4,806.1 1032.4,812.8 1024.4,819.5 1016.4,826.2 1008.4,832.8 1000.4,839.5 992.4,846.2 984.4,852.9 976.4,859.5 968.4,866.2 960.4,872.9 952.4,879.6 944.4,886.2 936.4,892.9 928.4,899.6 920.4,906.3 912.4,912.9 904.4,919.6 896.4,926.3 888.4,933.0 880.4,939.6 872.4,946.3 864.4,953.0 856.4,959.7 848.4,966.3 840.4,973.0 832.4,979.7 824.4,986.4 816.4,993.0 808.4,999.7 800.4,1006.4 792.4,1013.1 784.4,1019.7 776.4,1026.4 768.4,1033.1 760.4,1039.8 752.4,1046.4 744.4,1053.1 736.4,1059.8 728.4,1066.5 720.4,1073.1 712.4,1079.8 704.4,1086.5 696.4,1093.2 688.4,1099.8 680.4,1106.5 672.4,1113.2 664.4,1119.9 656.4,1126.5 648.4,1133.2 640.4,1139.9 632.4,1146.6 624.4,1153.2 618.4,1158.3 616.4,1159.9 614.4,1161.6 612.4,1163.3 610.4,1164.9 608.4,1166.6 606.4,1168.3 604.4,1169.9 602.4,1171.6 600.4,1173.3 598.4,1174.9 596.4,1176.6 594.4,1178.3 592.4,1179.9 590.4,1181.6 588.4,1183.3 586.4,1185.0 584.4,1186.6 582.4,1188.3 580.4,1190.0 578.4,1191.6 576.4,1193.3 574.4,1195.0 572.4,1196.6 570.4,1198.3 568.4,1200.0 566.4,1201.6 564.4,1203.3 562.4,1205.0 560.4,1206.6 558.4,1208.3 556.4,1210.0 554.4,1211.7 552.4,1213.3 550.4,1215.0 548.4,1216.7 546.4,1218.3 544.4,1220.0 542.4,1221.7 540.4,1223.3 538.4,1225.0 536.4,1226.7 534.4,1228.3 532.4,1230.0 530.4,1231.7 528.4,1233.3 526.4,1235.0 524.4,1236.7 522.4,1238.4 520.4,1240.0 518.4,1241.7 516.4,1243.4 514.4,1245.0 512.4,1235.0 510.4,1236.5 508.4,1237.9 506.4,1239.3 504.4,1240.7 502.4,1241.9 500.4,1243.2 498.4,1244.5 496.4,1245.7 494.4,1247.0 492.4,1248.3 490.4,1249.5 488.4,1250.8 486.4,1252.0 484.4,1253.0 482.4,1254.1 480.4,1255.2 478.4,1256.3 476.4,1257.4 474.4,1258.5 472.4,1259.5 470.4,1260.6 468.4,1261.7 466.4,1262.8 464.4,1263.9 462.4,1264.9 460.4,1266.0 458.4,1267.1 456.4,1268.1 454.4,1269.2 452.4,1270.3 450.4,1271.3 448.4,1272.4 446.4,1273.5 444.4,1274.5 442.4,1275.6 440.4,1276.5 438.4,1277.3 436.4,1278.2 434.4,1279.1 432.4,1279.9 430.4,1280.8 428.4,1281.7 426.4,1282.5 424.4,1283.4 422.4,1284.3 420.4,1285.1 418.4,1286.0 416.4,1286.9 414.4,1287.7 412.4,1288.6 410.4,1289.5 408.4,1290.4 406.4,1291.2 404.4,1292.1 402.4,1293.0 400.4,1293.9 398.4,1294.7 396.4,1295.3 394.4,1295.9 392.4,1296.5 390.4,1297.2 388.4,1297.8 386.4,1298.4 384.4,1299.0 382.4,1299.6 380.4,1300.2 378.4,1300.8 376.4,1301.4" fill="url(#gu2)"/>
<polygon points="376.4,1303.2 378.4,1302.6 380.4,1302.0 382.4,1301.5 384.4,1300.9 386.4,1300.3 388.4,1299.8 390.4,1299.2 392.4,1298.6 394.4,1298.0 396.4,1297.5 398.4,1296.9 400.4,1296.2 402.4,1295.4 404.4,1294.7 406.4,1294.0 408.4,1293.2 410.4,1292.5 412.4,1291.7 414.4,1291.0 416.4,1290.2 418.4,1289.5 420.4,1288.7 422.4,1288.0 424.4,1287.2 426.4,1286.5 428.4,1285.7 430.4,1284.9 432.4,1284.2 434.4,1283.4 436.4,1282.7 438.4,1281.9 440.4,1281.1 442.4,1280.4 444.4,1279.4 446.4,1278.4 448.4,1277.4 450.4,1276.4 452.4,1275.4 454.4,1274.3 456.4,1273.3 458.4,1272.3 460.4,1271.3 462.4,1270.3 464.4,1269.3 466.4,1268.2 468.4,1267.1 470.4,1266.0 472.4,1264.9 474.4,1263.8 476.4,1262.7 478.4,1261.6 480.4,1260.5 482.4,1259.4 484.4,1258.3 486.4,1257.2 488.4,1256.1 490.4,1254.9 492.4,1253.7 494.4,1252.5 496.4,1251.2 498.4,1250.0 500.4,1248.8 502.4,1247.6 504.4,1246.4 506.4,1245.1 508.4,1243.6 510.4,1242.2 512.4,1240.7 514.4,1245.0 516.4,1243.4 518.4,1241.7 520.4,1240.0 522.4,1238.4 524.4,1236.7 526.4,1235.0 528.4,1233.3 530.4,1231.7 532.4,1230.0 534.4,1228.3 536.4,1226.7 538.4,1225.0 540.4,1223.3 542.4,1221.7 544.4,1220.0 546.4,1218.3 548.4,1216.7 550.4,1215.0 552.4,1213.3 554.4,1211.7 556.4,1210.0 558.4,1208.3 560.4,1206.6 562.4,1205.0 564.4,1203.3 566.4,1201.6 568.4,1200.0 570.4,1198.3 572.4,1196.6 574.4,1195.0 576.4,1193.3 578.4,1191.6 580.4,1190.0 582.4,1188.3 584.4,1186.6 586.4,1185.0 588.4,1183.3 590.4,1181.6 592.4,1179.9 594.4,1178.3 596.4,1176.6 598.4,1174.9 600.4,1173.3 602.4,1171.7 604.4,1170.1 606.4,1168.4 608.4,1166.8 610.4,1165.2 612.4,1163.6 614.4,1162.0 616.4,1160.4 618.4,1158.8 624.4,1153.9 632.4,1147.5 640.4,1141.0 648.4,1134.6 656.4,1128.1 664.4,1121.7 672.4,1115.2 680.4,1108.8 688.4,1102.3 696.4,1095.9 704.4,1089.4 712.4,1083.0 720.4,1076.5 728.4,1070.1 736.4,1063.6 744.4,1057.2 752.4,1050.7 760.4,1044.3 768.4,1037.8 776.4,1031.4 784.4,1024.9 792.4,1018.5 800.4,1012.0 808.4,1005.4 816.4,998.9 824.4,992.4 832.4,985.8 840.4,979.3 848.4,972.7 856.4,966.2 864.4,959.6 872.4,953.1 880.4,946.5 888.4,940.0 896.4,933.4 904.4,926.9 912.4,920.4 920.4,913.9 928.4,907.4 936.4,900.8 944.4,894.3 952.4,887.8 960.4,881.3 968.4,874.8 976.4,868.3 984.4,861.7 992.4,855.2 1000.4,848.7 1008.4,842.1 1016.4,835.4 1024.4,828.8 1032.4,822.1 1040.4,815.5 1048.4,808.8 1056.4,802.2 1064.4,795.6 1072.4,788.9 1080.4,782.3 1088.4,775.6 1096.4,769.0 1104.4,762.5 1112.4,756.1 1120.4,749.8 1128.4,743.4 1136.4,737.1 1144.4,730.7 1152.4,724.4 1160.4,718.0 1168.4,711.7 1176.4,705.3 1184.4,698.9 1192.4,692.6 1200.4,686.2 1208.4,679.0 1216.4,671.7 1224.4,664.5 1232.4,657.3 1240.4,650.1 1248.4,643.8 1256.4,637.6 1264.4,631.3 1272.4,625.1 1280.4,618.8 1288.4,612.6 1296.4,606.3 1304.4,599.9 1312.4,593.3 1320.4,586.6 1328.4,580.0 1336.4,573.4 1344.4,566.8 1352.4,560.2 1360.4,553.6 1368.4,546.9 1376.4,540.3 1384.4,533.7 1392.4,527.1 1400.4,520.5 1408.4,513.6 1416.4,506.8 1424.4,500.0 1432.4,493.1 1440.4,486.3 1448.4,479.5 1456.4,472.6 1464.4,465.8 1472.4,459.0 1480.4,452.2 1488.4,445.3 1496.4,438.5 1504.4,431.8 1512.4,425.2 1520.4,418.6 1528.4,412.0 1536.4,405.4 1544.4,398.8 1552.4,392.2 1560.4,385.6 1568.4,379.0 1576.4,372.4 1584.4,365.8 1592.4,359.2 1600.4,352.6 1608.4,346.0 1616.4,339.5 1624.4,332.9 1632.4,326.3 1640.4,319.8 1648.4,313.2 1656.4,307.0 1664.4,300.9 1672.4,294.9 1680.4,288.8 1688.4,282.7 1696.4,276.6 1704.4,269.9 1712.4,262.5 1720.4,255.2 1728.4,247.9 1736.4,240.5 1744.4,231.7 1752.4,223.8 1760.4,216.6 1768.4,209.5 1776.4,202.4 1784.4,195.7 1792.4,189.4 1800.4,183.1 1808.4,176.8 1816.4,170.5 1824.4,164.2 1832.4,157.9 1840.4,151.4 1848.4,144.9 1856.4,138.4 1864.4,131.9 1867.0,129.8 1867.0,117.0 1864.4,119.1 1856.4,125.7 1848.4,132.4 1840.4,139.0 1832.4,145.6 1824.4,152.2 1816.4,158.8 1808.4,165.4 1800.4,172.0 1792.4,178.6 1784.4,185.3 1776.4,192.0 1768.4,198.7 1760.4,205.3 1752.4,212.0 1744.4,218.7 1736.4,225.4 1728.4,232.1 1720.4,238.7 1712.4,245.4 1704.4,252.1 1696.4,258.8 1688.4,265.4 1680.4,272.1 1672.4,278.8 1664.4,285.5 1656.4,292.1 1648.4,298.8 1640.4,305.5 1632.4,312.2 1624.4,318.8 1616.4,325.5 1608.4,332.2 1600.4,338.9 1592.4,345.5 1584.4,352.2 1576.4,358.9 1568.4,365.6 1560.4,372.2 1552.4,378.9 1544.4,385.6 1536.4,392.3 1528.4,398.9 1520.4,405.6 1512.4,412.3 1504.4,419.0 1496.4,425.6 1488.4,432.3 1480.4,439.0 1472.4,445.7 1464.4,452.3 1456.4,459.0 1448.4,465.7 1440.4,472.4 1432.4,479.0 1424.4,485.7 1416.4,492.4 1408.4,499.1 1400.4,505.7 1392.4,512.4 1384.4,519.1 1376.4,525.8 1368.4,532.4 1360.4,539.1 1352.4,545.8 1344.4,552.5 1336.4,559.1 1328.4,565.8 1320.4,572.5 1312.4,579.2 1304.4,585.8 1296.4,592.5 1288.4,599.2 1280.4,605.9 1272.4,612.5 1264.4,619.2 1256.4,625.9 1248.4,632.6 1240.4,639.2 1232.4,645.9 1224.4,652.6 1216.4,659.3 1208.4,665.9 1200.4,672.6 1192.4,679.3 1184.4,686.0 1176.4,692.6 1168.4,699.3 1160.4,706.0 1152.4,712.7 1144.4,719.3 1136.4,726.0 1128.4,732.7 1120.4,739.4 1112.4,746.1 1104.4,752.7 1096.4,759.4 1088.4,766.1 1080.4,772.8 1072.4,779.4 1064.4,786.1 1056.4,792.8 1048.4,799.5 1040.4,806.1 1032.4,812.8 1024.4,819.5 1016.4,826.2 1008.4,832.8 1000.4,839.5 992.4,846.2 984.4,852.9 976.4,859.5 968.4,866.2 960.4,872.9 952.4,879.6 944.4,886.2 936.4,892.9 928.4,899.6 920.4,906.3 912.4,912.9 904.4,919.6 896.4,926.3 888.4,933.0 880.4,939.6 872.4,946.3 864.4,953.0 856.4,959.7 848.4,966.3 840.4,973.0 832.4,979.7 824.4,986.4 816.4,993.0 808.4,999.7 800.4,1006.4 792.4,1013.1 784.4,1019.7 776.4,1026.4 768.4,1033.1 760.4,1039.8 752.4,1046.4 744.4,1053.1 736.4,1059.8 728.4,1066.5 720.4,1073.1 712.4,1079.8 704.4,1086.5 696.4,1093.2 688.4,1099.8 680.4,1106.5 672.4,1113.2 664.4,1119.9 656.4,1126.5 648.4,1133.2 640.4,1139.9 632.4,1146.6 624.4,1153.2 618.4,1158.3 616.4,1159.9 614.4,1161.6 612.4,1163.3 610.4,1164.9 608.4,1166.6 606.4,1168.3 604.4,1169.9 602.4,1171.6 600.4,1173.3 598.4,1174.9 596.4,1176.6 594.4,1178.3 592.4,1179.9 590.4,1181.6 588.4,1183.3 586.4,1185.0 584.4,1186.6 582.4,1188.3 580.4,1190.0 578.4,1191.6 576.4,1193.3 574.4,1195.0 572.4,1196.6 570.4,1198.3 568.4,1200.0 566.4,1201.6 564.4,1203.3 562.4,1205.0 560.4,1206.6 558.4,1208.3 556.4,1210.0 554.4,1211.7 552.4,1213.3 550.4,1215.0 548.4,1216.7 546.4,1218.3 544.4,1220.0 542.4,1221.7 540.4,1223.3 538.4,1225.0 536.4,1226.7 534.4,1228.3 532.4,1230.0 530.4,1231.7 528.4,1233.3 526.4,1235.0 524.4,1236.7 522.4,1238.4 520.4,1240.0 518.4,1241.7 516.4,1243.4 514.4,1245.0 512.4,1235.0 510.4,1236.5 508.4,1237.9 506.4,1239.3 504.4,1240.7 502.4,1241.9 500.4,1243.2 498.4,1244.5 496.4,1245.7 494.4,1247.0 492.4,1248.3 490.4,1249.5 488.4,1250.8 486.4,1252.0 484.4,1253.0 482.4,1254.1 480.4,1255.2 478.4,1256.3 476.4,1257.4 474.4,1258.5 472.4,1259.5 470.4,1260.6 468.4,1261.7 466.4,1262.8 464.4,1263.9 462.4,1264.9 460.4,1266.0 458.4,1267.1 456.4,1268.1 454.4,1269.2 452.4,1270.3 450.4,1271.3 448.4,1272.4 446.4,1273.5 444.4,1274.5 442.4,1275.6 440.4,1276.5 438.4,1277.3 436.4,1278.2 434.4,1279.1 432.4,1279.9 430.4,1280.8 428.4,1281.7 426.4,1282.5 424.4,1283.4 422.4,1284.3 420.4,1285.1 418.4,1286.0 416.4,1286.9 414.4,1287.7 412.4,1288.6 410.4,1289.5 408.4,1290.4 406.4,1291.2 404.4,1292.1 402.4,1293.0 400.4,1293.9 398.4,1294.7 396.4,1295.3 394.4,1295.9 392.4,1296.5 390.4,1297.2 388.4,1297.8 386.4,1298.4 384.4,1299.0 382.4,1299.6 380.4,1300.2 378.4,1300.8 376.4,1301.4" fill="url(#gl2)"/>
<polygon points="376.4,1299.9 378.4,1299.3 380.4,1298.6 382.4,1298.0 384.4,1297.3 386.4,1296.7 388.4,1296.0 390.4,1295.4 392.4,1294.7 394.4,1294.1 396.4,1293.4 398.4,1292.8 400.4,1291.8 402.4,1290.8 404.4,1289.9 406.4,1288.9 408.4,1287.9 410.4,1286.9 412.4,1285.9 414.4,1284.9 416.4,1283.9 418.4,1282.9 420.4,1282.0 422.4,1281.0 424.4,1280.0 426.4,1279.1 428.4,1278.1 430.4,1277.2 432.4,1276.2 434.4,1275.2 436.4,1274.3 438.4,1273.3 440.4,1272.4 442.4,1271.4 444.4,1270.3 446.4,1269.2 448.4,1268.1 450.4,1266.9 452.4,1265.8 454.4,1264.7 456.4,1263.6 458.4,1262.5 460.4,1261.4 462.4,1260.2 464.4,1259.1 466.4,1258.0 468.4,1257.0 470.4,1255.9 472.4,1254.8 474.4,1253.8 476.4,1252.7 478.4,1251.6 480.4,1250.6 482.4,1249.5 484.4,1248.4 486.4,1247.4 488.4,1246.2 490.4,1244.9 492.4,1243.6 494.4,1242.2 496.4,1240.9 498.4,1239.6 500.4,1238.3 502.4,1237.0 504.4,1235.6 506.4,1234.3 508.4,1232.9 510.4,1231.6 512.4,1230.1 514.4,1232.0 516.4,1230.4 518.4,1228.8 520.4,1227.3 522.4,1225.7 524.4,1224.1 526.4,1222.5 528.4,1221.0 530.4,1219.4 532.4,1217.8 534.4,1216.4 536.4,1214.9 538.4,1213.5 540.4,1212.1 542.4,1210.6 544.4,1209.2 546.4,1207.8 548.4,1206.3 550.4,1204.9 552.4,1203.5 554.4,1202.0 556.4,1200.6 558.4,1199.1 560.4,1197.6 562.4,1196.1 564.4,1194.6 566.4,1193.2 568.4,1191.7 570.4,1190.2 572.4,1188.7 574.4,1187.2 576.4,1185.8 578.4,1184.3 580.4,1182.7 582.4,1180.9 584.4,1179.0 586.4,1177.1 588.4,1175.3 590.4,1173.4 592.4,1171.6 594.4,1169.7 596.4,1167.9 598.4,1166.0 600.4,1164.2 602.4,1162.4 604.4,1160.6 606.4,1158.9 608.4,1157.1 610.4,1155.3 612.4,1153.6 614.4,1151.8 616.4,1150.1 618.4,1148.3 624.4,1143.0 632.4,1136.0 640.4,1128.9 648.4,1121.9 656.4,1114.8 664.4,1107.7 672.4,1100.5 680.4,1093.4 688.4,1086.2 696.4,1079.0 704.4,1071.9 712.4,1064.7 720.4,1057.6 728.4,1050.5 736.4,1043.4 744.4,1036.3 752.4,1029.2 760.4,1022.2 768.4,1015.1 776.4,1008.0 784.4,1000.9 792.4,993.8 800.4,986.8 808.4,979.8 816.4,972.8 824.4,965.8 832.4,958.8 840.4,951.8 848.4,944.9 856.4,938.0 864.4,931.0 872.4,924.1 880.4,917.2 888.4,910.2 896.4,903.3 904.4,896.3 912.4,889.3 920.4,882.3 928.4,875.3 936.4,868.3 944.4,861.3 952.4,854.3 960.4,847.5 968.4,840.7 976.4,834.0 984.4,827.2 992.4,820.4 1000.4,813.6 1008.4,806.7 1016.4,799.8 1024.4,792.8 1032.4,785.9 1040.4,779.0 1048.4,772.4 1056.4,766.5 1064.4,760.6 1072.4,754.7 1080.4,749.3 1088.4,744.2 1096.4,739.1 1104.4,733.5 1112.4,727.5 1120.4,721.5 1128.4,715.5 1136.4,709.5 1144.4,703.5 1152.4,697.3 1160.4,690.9 1168.4,684.4 1176.4,678.0 1184.4,671.5 1192.4,665.1 1200.4,658.7 1208.4,652.7 1216.4,646.7 1224.4,640.7 1232.4,634.8 1240.4,628.8 1248.4,622.2 1256.4,615.7 1264.4,609.1 1272.4,602.6 1280.4,596.1 1288.4,589.5 1296.4,583.0 1304.4,576.2 1312.4,569.3 1320.4,562.3 1328.4,555.4 1336.4,548.4 1344.4,541.5 1352.4,534.5 1360.4,527.4 1368.4,520.3 1376.4,513.3 1384.4,506.2 1392.4,499.1 1400.4,492.1 1408.4,485.5 1416.4,478.9 1424.4,472.3 1432.4,465.7 1440.4,459.1 1448.4,452.5 1456.4,446.0 1464.4,439.4 1472.4,432.8 1480.4,426.2 1488.4,419.6 1496.4,413.0 1504.4,406.4 1512.4,399.7 1520.4,393.1 1528.4,386.4 1536.4,379.8 1544.4,373.1 1552.4,366.5 1560.4,359.8 1568.4,353.2 1576.4,346.5 1584.4,339.9 1592.4,333.3 1600.4,326.6 1608.4,319.6 1616.4,312.7 1624.4,305.7 1632.4,298.8 1640.4,291.8 1648.4,284.9 1656.4,277.6 1664.4,270.2 1672.4,262.9 1680.4,255.5 1688.4,248.2 1696.4,240.9 1704.4,233.6 1712.4,226.3 1720.4,219.0 1728.4,211.8 1736.4,204.5 1744.4,197.3 1752.4,190.4 1760.4,183.9 1768.4,177.4 1776.4,170.9 1784.4,164.9 1792.4,159.4 1800.4,153.8 1808.4,147.7 1816.4,141.6 1824.4,135.5 1832.4,129.4 1840.4,123.2 1848.4,116.9 1856.4,110.6 1864.4,104.3 1867.0,102.3 1867.0,117.0 1864.4,119.1 1856.4,125.7 1848.4,132.4 1840.4,139.0 1832.4,145.6 1824.4,152.2 1816.4,158.8 1808.4,165.4 1800.4,172.0 1792.4,178.6 1784.4,185.3 1776.4,192.0 1768.4,198.7 1760.4,205.3 1752.4,212.0 1744.4,218.7 1736.4,225.4 1728.4,232.1 1720.4,238.7 1712.4,245.4 1704.4,252.1 1696.4,258.8 1688.4,265.4 1680.4,272.1 1672.4,278.8 1664.4,285.5 1656.4,292.1 1648.4,298.8 1640.4,305.5 1632.4,312.2 1624.4,318.8 1616.4,325.5 1608.4,332.2 1600.4,338.9 1592.4,345.5 1584.4,352.2 1576.4,358.9 1568.4,365.6 1560.4,372.2 1552.4,378.9 1544.4,385.6 1536.4,392.3 1528.4,398.9 1520.4,405.6 1512.4,412.3 1504.4,419.0 1496.4,425.6 1488.4,432.3 1480.4,439.0 1472.4,445.7 1464.4,452.3 1456.4,459.0 1448.4,465.7 1440.4,472.4 1432.4,479.0 1424.4,485.7 1416.4,492.4 1408.4,499.1 1400.4,505.7 1392.4,512.4 1384.4,519.1 1376.4,525.8 1368.4,532.4 1360.4,539.1 1352.4,545.8 1344.4,552.5 1336.4,559.1 1328.4,565.8 1320.4,572.5 1312.4,579.2 1304.4,585.8 1296.4,592.5 1288.4,599.2 1280.4,605.9 1272.4,612.5 1264.4,619.2 1256.4,625.9 1248.4,632.6 1240.4,639.2 1232.4,645.9 1224.4,652.6 1216.4,659.3 1208.4,665.9 1200.4,672.6 1192.4,679.3 1184.4,686.0 1176.4,692.6 1168.4,699.3 1160.4,706.0 1152.4,712.7 1144.4,719.3 1136.4,726.0 1128.4,732.7 1120.4,739.4 1112.4,746.1 1104.4,752.7 1096.4,759.4 1088.4,766.1 1080.4,772.8 1072.4,779.4 1064.4,786.1 1056.4,792.8 1048.4,799.5 1040.4,806.1 1032.4,812.8 1024.4,819.5 1016.4,826.2 1008.4,832.8 1000.4,839.5 992.4,846.2 984.4,852.9 976.4,859.5 968.4,866.2 960.4,872.9 952.4,879.6 944.4,886.2 936.4,892.9 928.4,899.6 920.4,906.3 912.4,912.9 904.4,919.6 896.4,926.3 888.4,933.0 880.4,939.6 872.4,946.3 864.4,953.0 856.4,959.7 848.4,966.3 840.4,973.0 832.4,979.7 824.4,986.4 816.4,993.0 808.4,999.7 800.4,1006.4 792.4,1013.1 784.4,1019.7 776.4,1026.4 768.4,1033.1 760.4,1039.8 752.4,1046.4 744.4,1053.1 736.4,1059.8 728.4,1066.5 720.4,1073.1 712.4,1079.8 704.4,1086.5 696.4,1093.2 688.4,1099.8 680.4,1106.5 672.4,1113.2 664.4,1119.9 656.4,1126.5 648.4,1133.2 640.4,1139.9 632.4,1146.6 624.4,1153.2 618.4,1158.3 616.4,1159.9 614.4,1161.6 612.4,1163.3 610.4,1164.9 608.4,1166.6 606.4,1168.3 604.4,1169.9 602.4,1171.6 600.4,1173.3 598.4,1174.9 596.4,1176.6 594.4,1178.3 592.4,1179.9 590.4,1181.6 588.4,1183.3 586.4,1185.0 584.4,1186.6 582.4,1188.3 580.4,1190.0 578.4,1191.6 576.4,1193.3 574.4,1195.0 572.4,1196.6 570.4,1198.3 568.4,1200.0 566.4,1201.6 564.4,1203.3 562.4,1205.0 560.4,1206.6 558.4,1208.3 556.4,1210.0 554.4,1211.7 552.4,1213.3 550.4,1215.0 548.4,1216.7 546.4,1218.3 544.4,1220.0 542.4,1221.7 540.4,1223.3 538.4,1225.0 536.4,1226.7 534.4,1228.3 532.4,1230.0 530.4,1231.7 528.4,1233.3 526.4,1235.0 524.4,1236.7 522.4,1238.4 520.4,1240.0 518.4,1241.7 516.4,1243.4 514.4,1245.0 512.4,1235.0 510.4,1236.5 508.4,1237.9 506.4,1239.3 504.4,1240.7 502.4,1241.9 500.4,1243.2 498.4,1244.5 496.4,1245.7 494.4,1247.0 492.4,1248.3 490.4,1249.5 488.4,1250.8 486.4,1252.0 484.4,1253.0 482.4,1254.1 480.4,1255.2 478.4,1256.3 476.4,1257.4 474.4,1258.5 472.4,1259.5 470.4,1260.6 468.4,1261.7 466.4,1262.8 464.4,1263.9 462.4,1264.9 460.4,1266.0 458.4,1267.1 456.4,1268.1 454.4,1269.2 452.4,1270.3 450.4,1271.3 448.4,1272.4 446.4,1273.5 444.4,1274.5 442.4,1275.6 440.4,1276.5 438.4,1277.3 436.4,1278.2 434.4,1279.1 432.4,1279.9 430.4,1280.8 428.4,1281.7 426.4,1282.5 424.4,1283.4 422.4,1284.3 420.4,1285.1 418.4,1286.0 416.4,1286.9 414.4,1287.7 412.4,1288.6 410.4,1289.5 408.4,1290.4 406.4,1291.2 404.4,1292.1 402.4,1293.0 400.4,1293.9 398.4,1294.7 396.4,1295.3 394.4,1295.9 392.4,1296.5 390.4,1297.2 388.4,1297.8 386.4,1298.4 384.4,1299.0 382.4,1299.6 380.4,1300.2 378.4,1300.8 376.4,1301.4" fill="url(#gu3)"/>
<polygon points="376.4,1303.0 378.4,1302.4 380.4,1301.8 382.4,1301.2 384.4,1300.7 386.4,1300.1 388.4,1299.5 390.4,1298.9 392.4,1298.4 394.4,1297.8 396.4,1297.2 398.4,1296.6 400.4,1295.9 402.4,1295.1 404.4,1294.4 406.4,1293.6 408.4,1292.9 410.4,1292.1 412.4,1291.3 414.4,1290.6 416.4,1289.8 418.4,1289.1 420.4,1288.3 422.4,1287.5 424.4,1286.7 426.4,1286.0 428.4,1285.2 430.4,1284.4 432.4,1283.6 434.4,1282.9 436.4,1282.1 438.4,1281.3 440.4,1280.6 442.4,1279.8 444.4,1278.8 446.4,1277.8 448.4,1276.8 450.4,1275.7 452.4,1274.7 454.4,1273.7 456.4,1272.7 458.4,1271.7 460.4,1270.6 462.4,1269.6 464.4,1268.6 466.4,1267.5 468.4,1266.4 470.4,1265.3 472.4,1264.2 474.4,1263.1 476.4,1262.0 478.4,1260.9 480.4,1259.8 482.4,1258.7 484.4,1257.6 486.4,1256.5 488.4,1255.4 490.4,1254.2 492.4,1253.0 494.4,1251.8 496.4,1250.6 498.4,1249.3 500.4,1248.1 502.4,1246.9 504.4,1245.7 506.4,1244.3 508.4,1242.9 510.4,1241.5 512.4,1240.0 514.4,1245.0 516.4,1243.4 518.4,1241.7 520.4,1240.0 522.4,1238.4 524.4,1236.7 526.4,1235.0 528.4,1233.3 530.4,1231.7 532.4,1230.0 534.4,1228.3 536.4,1226.7 538.4,1225.0 540.4,1223.3 542.4,1221.7 544.4,1220.0 546.4,1218.3 548.4,1216.7 550.4,1215.0 552.4,1213.3 554.4,1211.7 556.4,1210.0 558.4,1208.3 560.4,1206.6 562.4,1205.0 564.4,1203.3 566.4,1201.6 568.4,1200.0 570.4,1198.3 572.4,1196.6 574.4,1195.0 576.4,1193.3 578.4,1191.6 580.4,1190.0 582.4,1188.3 584.4,1186.6 586.4,1185.0 588.4,1183.3 590.4,1181.6 592.4,1179.9 594.4,1178.3 596.4,1176.6 598.4,1174.9 600.4,1173.3 602.4,1171.7 604.4,1170.0 606.4,1168.4 608.4,1166.8 610.4,1165.2 612.4,1163.6 614.4,1161.9 616.4,1160.3 618.4,1158.7 624.4,1153.8 632.4,1147.4 640.4,1140.9 648.4,1134.4 656.4,1127.9 664.4,1121.4 672.4,1115.0 680.4,1108.5 688.4,1102.0 696.4,1095.5 704.4,1089.0 712.4,1082.6 720.4,1076.1 728.4,1069.6 736.4,1063.1 744.4,1056.7 752.4,1050.2 760.4,1043.7 768.4,1037.2 776.4,1030.7 784.4,1024.3 792.4,1017.8 800.4,1011.3 808.4,1004.7 816.4,998.2 824.4,991.6 832.4,985.0 840.4,978.5 848.4,971.9 856.4,965.4 864.4,958.8 872.4,952.2 880.4,945.7 888.4,939.1 896.4,932.5 904.4,926.0 912.4,919.5 920.4,912.9 928.4,906.4 936.4,899.8 944.4,893.3 952.4,886.8 960.4,880.2 968.4,873.7 976.4,867.2 984.4,860.6 992.4,854.1 1000.4,847.6 1008.4,840.9 1016.4,834.3 1024.4,827.6 1032.4,821.0 1040.4,814.3 1048.4,807.7 1056.4,801.0 1064.4,794.4 1072.4,787.7 1080.4,781.1 1088.4,774.4 1096.4,767.8 1104.4,761.3 1112.4,754.9 1120.4,748.5 1128.4,742.1 1136.4,735.7 1144.4,729.3 1152.4,722.9 1160.4,716.5 1168.4,710.1 1176.4,703.7 1184.4,697.3 1192.4,690.9 1200.4,684.5 1208.4,677.3 1216.4,670.2 1224.4,663.0 1232.4,655.8 1240.4,648.7 1248.4,642.4 1256.4,636.1 1264.4,629.8 1272.4,623.5 1280.4,617.2 1288.4,610.9 1296.4,604.6 1304.4,598.1 1312.4,591.5 1320.4,584.9 1328.4,578.2 1336.4,571.6 1344.4,565.0 1352.4,558.4 1360.4,551.7 1368.4,545.1 1376.4,538.5 1384.4,531.9 1392.4,525.2 1400.4,518.6 1408.4,511.8 1416.4,505.0 1424.4,498.2 1432.4,491.4 1440.4,484.6 1448.4,477.8 1456.4,470.9 1464.4,464.1 1472.4,457.3 1480.4,450.5 1488.4,443.7 1496.4,436.9 1504.4,430.2 1512.4,423.6 1520.4,417.0 1528.4,410.4 1536.4,403.8 1544.4,397.2 1552.4,390.5 1560.4,383.9 1568.4,377.3 1576.4,370.7 1584.4,364.1 1592.4,357.5 1600.4,350.9 1608.4,344.3 1616.4,337.7 1624.4,331.1 1632.4,324.6 1640.4,318.0 1648.4,311.4 1656.4,305.1 1664.4,299.0 1672.4,292.9 1680.4,286.7 1688.4,280.6 1696.4,274.4 1704.4,267.6 1712.4,260.4 1720.4,253.1 1728.4,245.9 1736.4,238.6 1744.4,230.0 1752.4,222.3 1760.4,215.2 1768.4,208.1 1776.4,201.1 1784.4,194.4 1792.4,188.1 1800.4,181.7 1808.4,175.4 1816.4,169.1 1824.4,162.7 1832.4,156.4 1840.4,149.9 1848.4,143.4 1856.4,136.8 1864.4,130.3 1867.0,128.2 1867.0,117.0 1864.4,119.1 1856.4,125.7 1848.4,132.4 1840.4,139.0 1832.4,145.6 1824.4,152.2 1816.4,158.8 1808.4,165.4 1800.4,172.0 1792.4,178.6 1784.4,185.3 1776.4,192.0 1768.4,198.7 1760.4,205.3 1752.4,212.0 1744.4,218.7 1736.4,225.4 1728.4,232.1 1720.4,238.7 1712.4,245.4 1704.4,252.1 1696.4,258.8 1688.4,265.4 1680.4,272.1 1672.4,278.8 1664.4,285.5 1656.4,292.1 1648.4,298.8 1640.4,305.5 1632.4,312.2 1624.4,318.8 1616.4,325.5 1608.4,332.2 1600.4,338.9 1592.4,345.5 1584.4,352.2 1576.4,358.9 1568.4,365.6 1560.4,372.2 1552.4,378.9 1544.4,385.6 1536.4,392.3 1528.4,398.9 1520.4,405.6 1512.4,412.3 1504.4,419.0 1496.4,425.6 1488.4,432.3 1480.4,439.0 1472.4,445.7 1464.4,452.3 1456.4,459.0 1448.4,465.7 1440.4,472.4 1432.4,479.0 1424.4,485.7 1416.4,492.4 1408.4,499.1 1400.4,505.7 1392.4,512.4 1384.4,519.1 1376.4,525.8 1368.4,532.4 1360.4,539.1 1352.4,545.8 1344.4,552.5 1336.4,559.1 1328.4,565.8 1320.4,572.5 1312.4,579.2 1304.4,585.8 1296.4,592.5 1288.4,599.2 1280.4,605.9 1272.4,612.5 1264.4,619.2 1256.4,625.9 1248.4,632.6 1240.4,639.2 1232.4,645.9 1224.4,652.6 1216.4,659.3 1208.4,665.9 1200.4,672.6 1192.4,679.3 1184.4,686.0 1176.4,692.6 1168.4,699.3 1160.4,706.0 1152.4,712.7 1144.4,719.3 1136.4,726.0 1128.4,732.7 1120.4,739.4 1112.4,746.1 1104.4,752.7 1096.4,759.4 1088.4,766.1 1080.4,772.8 1072.4,779.4 1064.4,786.1 1056.4,792.8 1048.4,799.5 1040.4,806.1 1032.4,812.8 1024.4,819.5 1016.4,826.2 1008.4,832.8 1000.4,839.5 992.4,846.2 984.4,852.9 976.4,859.5 968.4,866.2 960.4,872.9 952.4,879.6 944.4,886.2 936.4,892.9 928.4,899.6 920.4,906.3 912.4,912.9 904.4,919.6 896.4,926.3 888.4,933.0 880.4,939.6 872.4,946.3 864.4,953.0 856.4,959.7 848.4,966.3 840.4,973.0 832.4,979.7 824.4,986.4 816.4,993.0 808.4,999.7 800.4,1006.4 792.4,1013.1 784.4,1019.7 776.4,1026.4 768.4,1033.1 760.4,1039.8 752.4,1046.4 744.4,1053.1 736.4,1059.8 728.4,1066.5 720.4,1073.1 712.4,1079.8 704.4,1086.5 696.4,1093.2 688.4,1099.8 680.4,1106.5 672.4,1113.2 664.4,1119.9 656.4,1126.5 648.4,1133.2 640.4,1139.9 632.4,1146.6 624.4,1153.2 618.4,1158.3 616.4,1159.9 614.4,1161.6 612.4,1163.3 610.4,1164.9 608.4,1166.6 606.4,1168.3 604.4,1169.9 602.4,1171.6 600.4,1173.3 598.4,1174.9 596.4,1176.6 594.4,1178.3 592.4,1179.9 590.4,1181.6 588.4,1183.3 586.4,1185.0 584.4,1186.6 582.4,1188.3 580.4,1190.0 578.4,1191.6 576.4,1193.3 574.4,1195.0 572.4,1196.6 570.4,1198.3 568.4,1200.0 566.4,1201.6 564.4,1203.3 562.4,1205.0 560.4,1206.6 558.4,1208.3 556.4,1210.0 554.4,1211.7 552.4,1213.3 550.4,1215.0 548.4,1216.7 546.4,1218.3 544.4,1220.0 542.4,1221.7 540.4,1223.3 538.4,1225.0 536.4,1226.7 534.4,1228.3 532.4,1230.0 530.4,1231.7 528.4,1233.3 526.4,1235.0 524.4,1236.7 522.4,1238.4 520.4,1240.0 518.4,1241.7 516.4,1243.4 514.4,1245.0 512.4,1235.0 510.4,1236.5 508.4,1237.9 506.4,1239.3 504.4,1240.7 502.4,1241.9 500.4,1243.2 498.4,1244.5 496.4,1245.7 494.4,1247.0 492.4,1248.3 490.4,1249.5 488.4,1250.8 486.4,1252.0 484.4,1253.0 482.4,1254.1 480.4,1255.2 478.4,1256.3 476.4,1257.4 474.4,1258.5 472.4,1259.5 470.4,1260.6 468.4,1261.7 466.4,1262.8 464.4,1263.9 462.4,1264.9 460.4,1266.0 458.4,1267.1 456.4,1268.1 454.4,1269.2 452.4,1270.3 450.4,1271.3 448.4,1272.4 446.4,1273.5 444.4,1274.5 442.4,1275.6 440.4,1276.5 438.4,1277.3 436.4,1278.2 434.4,1279.1 432.4,1279.9 430.4,1280.8 428.4,1281.7 426.4,1282.5 424.4,1283.4 422.4,1284.3 420.4,1285.1 418.4,1286.0 416.4,1286.9 414.4,1287.7 412.4,1288.6 410.4,1289.5 408.4,1290.4 406.4,1291.2 404.4,1292.1 402.4,1293.0 400.4,1293.9 398.4,1294.7 396.4,1295.3 394.4,1295.9 392.4,1296.5 390.4,1297.2 388.4,1297.8 386.4,1298.4 384.4,1299.0 382.4,1299.6 380.4,1300.2 378.4,1300.8 376.4,1301.4" fill="url(#gl3)"/>
<polygon points="376.4,1300.2 378.4,1299.5 380.4,1298.9 382.4,1298.2 384.4,1297.6 386.4,1296.9 388.4,1296.3 390.4,1295.6 392.4,1295.0 394.4,1294.4 396.4,1293.7 398.4,1293.1 400.4,1292.1 402.4,1291.2 404.4,1290.2 406.4,1289.2 408.4,1288.2 410.4,1287.3 412.4,1286.3 414.4,1285.3 416.4,1284.3 418.4,1283.4 420.4,1282.4 422.4,1281.5 424.4,1280.5 426.4,1279.6 428.4,1278.6 430.4,1277.7 432.4,1276.7 434.4,1275.8 436.4,1274.8 438.4,1273.9 440.4,1272.9 442.4,1272.0 444.4,1270.9 446.4,1269.8 448.4,1268.7 450.4,1267.6 452.4,1266.5 454.4,1265.4 456.4,1264.2 458.4,1263.1 460.4,1262.0 462.4,1260.9 464.4,1259.8 466.4,1258.7 468.4,1257.7 470.4,1256.6 472.4,1255.5 474.4,1254.4 476.4,1253.4 478.4,1252.3 480.4,1251.2 482.4,1250.2 484.4,1249.1 486.4,1248.0 488.4,1246.9 490.4,1245.5 492.4,1244.2 494.4,1242.9 496.4,1241.6 498.4,1240.3 500.4,1239.0 502.4,1237.7 504.4,1236.4 506.4,1235.0 508.4,1233.7 510.4,1232.3 512.4,1230.8 514.4,1233.8 516.4,1232.3 518.4,1230.7 520.4,1229.1 522.4,1227.5 524.4,1225.9 526.4,1224.3 528.4,1222.7 530.4,1221.2 532.4,1219.6 534.4,1218.1 536.4,1216.6 538.4,1215.1 540.4,1213.7 542.4,1212.2 544.4,1210.7 546.4,1209.3 548.4,1207.8 550.4,1206.3 552.4,1204.9 554.4,1203.4 556.4,1201.9 558.4,1200.4 560.4,1198.9 562.4,1197.4 564.4,1195.9 566.4,1194.4 568.4,1192.9 570.4,1191.4 572.4,1189.8 574.4,1188.3 576.4,1186.8 578.4,1185.3 580.4,1183.8 582.4,1181.9 584.4,1180.1 586.4,1178.3 588.4,1176.4 590.4,1174.6 592.4,1172.8 594.4,1170.9 596.4,1169.1 598.4,1167.3 600.4,1165.5 602.4,1163.7 604.4,1162.0 606.4,1160.2 608.4,1158.5 610.4,1156.7 612.4,1155.0 614.4,1153.2 616.4,1151.5 618.4,1149.7 624.4,1144.5 632.4,1137.5 640.4,1130.5 648.4,1123.5 656.4,1116.5 664.4,1109.4 672.4,1102.3 680.4,1095.2 688.4,1088.1 696.4,1081.1 704.4,1074.0 712.4,1066.9 720.4,1059.8 728.4,1052.8 736.4,1045.7 744.4,1038.7 752.4,1031.7 760.4,1024.7 768.4,1017.7 776.4,1010.6 784.4,1003.6 792.4,996.6 800.4,989.6 808.4,982.6 816.4,975.7 824.4,968.7 832.4,961.8 840.4,954.9 848.4,948.0 856.4,941.1 864.4,934.2 872.4,927.3 880.4,920.4 888.4,913.5 896.4,906.6 904.4,899.7 912.4,892.7 920.4,885.7 928.4,878.8 936.4,871.8 944.4,864.8 952.4,857.9 960.4,851.2 968.4,844.4 976.4,837.6 984.4,830.8 992.4,824.1 1000.4,817.3 1008.4,810.4 1016.4,803.5 1024.4,796.6 1032.4,789.8 1040.4,782.9 1048.4,776.3 1056.4,770.2 1064.4,764.2 1072.4,758.2 1080.4,752.7 1088.4,747.3 1096.4,742.0 1104.4,736.2 1112.4,730.1 1120.4,724.0 1128.4,717.9 1136.4,711.8 1144.4,705.7 1152.4,699.5 1160.4,693.0 1168.4,686.6 1176.4,680.1 1184.4,673.6 1192.4,667.1 1200.4,660.7 1208.4,654.6 1216.4,648.5 1224.4,642.4 1232.4,636.4 1240.4,630.3 1248.4,623.7 1256.4,617.1 1264.4,610.6 1272.4,604.0 1280.4,597.5 1288.4,590.9 1296.4,584.4 1304.4,577.6 1312.4,570.7 1320.4,563.8 1328.4,556.9 1336.4,549.9 1344.4,543.0 1352.4,536.1 1360.4,529.1 1368.4,522.1 1376.4,515.1 1384.4,508.0 1392.4,501.0 1400.4,494.0 1408.4,487.4 1416.4,480.8 1424.4,474.2 1432.4,467.6 1440.4,461.0 1448.4,454.4 1456.4,447.8 1464.4,441.2 1472.4,434.6 1480.4,428.0 1488.4,421.4 1496.4,414.8 1504.4,408.2 1512.4,401.5 1520.4,394.9 1528.4,388.2 1536.4,381.6 1544.4,374.9 1552.4,368.3 1560.4,361.6 1568.4,355.0 1576.4,348.3 1584.4,341.7 1592.4,335.0 1600.4,328.3 1608.4,321.4 1616.4,314.5 1624.4,307.6 1632.4,300.7 1640.4,293.8 1648.4,286.9 1656.4,279.7 1664.4,272.4 1672.4,265.2 1680.4,257.9 1688.4,250.7 1696.4,243.4 1704.4,236.2 1712.4,229.0 1720.4,221.9 1728.4,214.7 1736.4,207.5 1744.4,200.3 1752.4,193.5 1760.4,187.0 1768.4,180.5 1776.4,173.9 1784.4,167.9 1792.4,162.1 1800.4,156.4 1808.4,150.2 1816.4,144.1 1824.4,137.9 1832.4,131.7 1840.4,125.4 1848.4,119.1 1856.4,112.8 1864.4,106.5 1867.0,104.4 1867.0,117.0 1864.4,119.1 1856.4,125.7 1848.4,132.4 1840.4,139.0 1832.4,145.6 1824.4,152.2 1816.4,158.8 1808.4,165.4 1800.4,172.0 1792.4,178.6 1784.4,185.3 1776.4,192.0 1768.4,198.7 1760.4,205.3 1752.4,212.0 1744.4,218.7 1736.4,225.4 1728.4,232.1 1720.4,238.7 1712.4,245.4 1704.4,252.1 1696.4,258.8 1688.4,265.4 1680.4,272.1 1672.4,278.8 1664.4,285.5 1656.4,292.1 1648.4,298.8 1640.4,305.5 1632.4,312.2 1624.4,318.8 1616.4,325.5 1608.4,332.2 1600.4,338.9 1592.4,345.5 1584.4,352.2 1576.4,358.9 1568.4,365.6 1560.4,372.2 1552.4,378.9 1544.4,385.6 1536.4,392.3 1528.4,398.9 1520.4,405.6 1512.4,412.3 1504.4,419.0 1496.4,425.6 1488.4,432.3 1480.4,439.0 1472.4,445.7 1464.4,452.3 1456.4,459.0 1448.4,465.7 1440.4,472.4 1432.4,479.0 1424.4,485.7 1416.4,492.4 1408.4,499.1 1400.4,505.7 1392.4,512.4 1384.4,519.1 1376.4,525.8 1368.4,532.4 1360.4,539.1 1352.4,545.8 1344.4,552.5 1336.4,559.1 1328.4,565.8 1320.4,572.5 1312.4,579.2 1304.4,585.8 1296.4,592.5 1288.4,599.2 1280.4,605.9 1272.4,612.5 1264.4,619.2 1256.4,625.9 1248.4,632.6 1240.4,639.2 1232.4,645.9 1224.4,652.6 1216.4,659.3 1208.4,665.9 1200.4,672.6 1192.4,679.3 1184.4,686.0 1176.4,692.6 1168.4,699.3 1160.4,706.0 1152.4,712.7 1144.4,719.3 1136.4,726.0 1128.4,732.7 1120.4,739.4 1112.4,746.1 1104.4,752.7 1096.4,759.4 1088.4,766.1 1080.4,772.8 1072.4,779.4 1064.4,786.1 1056.4,792.8 1048.4,799.5 1040.4,806.1 1032.4,812.8 1024.4,819.5 1016.4,826.2 1008.4,832.8 1000.4,839.5 992.4,846.2 984.4,852.9 976.4,859.5 968.4,866.2 960.4,872.9 952.4,879.6 944.4,886.2 936.4,892.9 928.4,899.6 920.4,906.3 912.4,912.9 904.4,919.6 896.4,926.3 888.4,933.0 880.4,939.6 872.4,946.3 864.4,953.0 856.4,959.7 848.4,966.3 840.4,973.0 832.4,979.7 824.4,986.4 816.4,993.0 808.4,999.7 800.4,1006.4 792.4,1013.1 784.4,1019.7 776.4,1026.4 768.4,1033.1 760.4,1039.8 752.4,1046.4 744.4,1053.1 736.4,1059.8 728.4,1066.5 720.4,1073.1 712.4,1079.8 704.4,1086.5 696.4,1093.2 688.4,1099.8 680.4,1106.5 672.4,1113.2 664.4,1119.9 656.4,1126.5 648.4,1133.2 640.4,1139.9 632.4,1146.6 624.4,1153.2 618.4,1158.3 616.4,1159.9 614.4,1161.6 612.4,1163.3 610.4,1164.9 608.4,1166.6 606.4,1168.3 604.4,1169.9 602.4,1171.6 600.4,1173.3 598.4,1174.9 596.4,1176.6 594.4,1178.3 592.4,1179.9 590.4,1181.6 588.4,1183.3 586.4,1185.0 584.4,1186.6 582.4,1188.3 580.4,1190.0 578.4,1191.6 576.4,1193.3 574.4,1195.0 572.4,1196.6 570.4,1198.3 568.4,1200.0 566.4,1201.6 564.4,1203.3 562.4,1205.0 560.4,1206.6 558.4,1208.3 556.4,1210.0 554.4,1211.7 552.4,1213.3 550.4,1215.0 548.4,1216.7 546.4,1218.3 544.4,1220.0 542.4,1221.7 540.4,1223.3 538.4,1225.0 536.4,1226.7 534.4,1228.3 532.4,1230.0 530.4,1231.7 528.4,1233.3 526.4,1235.0 524.4,1236.7 522.4,1238.4 520.4,1240.0 518.4,1241.7 516.4,1243.4 514.4,1245.0 512.4,1235.0 510.4,1236.5 508.4,1237.9 506.4,1239.3 504.4,1240.7 502.4,1241.9 500.4,1243.2 498.4,1244.5 496.4,1245.7 494.4,1247.0 492.4,1248.3 490.4,1249.5 488.4,1250.8 486.4,1252.0 484.4,1253.0 482.4,1254.1 480.4,1255.2 478.4,1256.3 476.4,1257.4 474.4,1258.5 472.4,1259.5 470.4,1260.6 468.4,1261.7 466.4,1262.8 464.4,1263.9 462.4,1264.9 460.4,1266.0 458.4,1267.1 456.4,1268.1 454.4,1269.2 452.4,1270.3 450.4,1271.3 448.4,1272.4 446.4,1273.5 444.4,1274.5 442.4,1275.6 440.4,1276.5 438.4,1277.3 436.4,1278.2 434.4,1279.1 432.4,1279.9 430.4,1280.8 428.4,1281.7 426.4,1282.5 424.4,1283.4 422.4,1284.3 420.4,1285.1 418.4,1286.0 416.4,1286.9 414.4,1287.7 412.4,1288.6 410.4,1289.5 408.4,1290.4 406.4,1291.2 404.4,1292.1 402.4,1293.0 400.4,1293.9 398.4,1294.7 396.4,1295.3 394.4,1295.9 392.4,1296.5 390.4,1297.2 388.4,1297.8 386.4,1298.4 384.4,1299.0 382.4,1299.6 380.4,1300.2 378.4,1300.8 376.4,1301.4" fill="url(#gu4)"/>
<polygon points="376.4,1302.7 378.4,1302.2 380.4,1301.6 382.4,1301.0 384.4,1300.4 386.4,1299.8 388.4,1299.3 390.4,1298.7 392.4,1298.1 394.4,1297.5 396.4,1296.9 398.4,1296.4 400.4,1295.6 402.4,1294.8 404.4,1294.1 406.4,1293.3 408.4,1292.5 410.4,1291.7 412.4,1290.9 414.4,1290.2 416.4,1289.4 418.4,1288.6 420.4,1287.8 422.4,1287.1 424.4,1286.3 426.4,1285.5 428.4,1284.7 430.4,1283.9 432.4,1283.1 434.4,1282.3 436.4,1281.5 438.4,1280.8 440.4,1280.0 442.4,1279.2 444.4,1278.2 446.4,1277.2 448.4,1276.1 450.4,1275.1 452.4,1274.1 454.4,1273.1 456.4,1272.0 458.4,1271.0 460.4,1270.0 462.4,1269.0 464.4,1267.9 466.4,1266.9 468.4,1265.8 470.4,1264.7 472.4,1263.6 474.4,1262.5 476.4,1261.4 478.4,1260.3 480.4,1259.2 482.4,1258.1 484.4,1257.0 486.4,1255.9 488.4,1254.8 490.4,1253.5 492.4,1252.3 494.4,1251.1 496.4,1249.9 498.4,1248.6 500.4,1247.4 502.4,1246.2 504.4,1245.0 506.4,1243.6 508.4,1242.2 510.4,1240.8 512.4,1239.3 514.4,1245.0 516.4,1243.4 518.4,1241.7 520.4,1240.0 522.4,1238.4 524.4,1236.7 526.4,1235.0 528.4,1233.3 530.4,1231.7 532.4,1230.0 534.4,1228.3 536.4,1226.7 538.4,1225.0 540.4,1223.3 542.4,1221.7 544.4,1220.0 546.4,1218.3 548.4,1216.7 550.4,1215.0 552.4,1213.3 554.4,1211.7 556.4,1210.0 558.4,1208.3 560.4,1206.6 562.4,1205.0 564.4,1203.3 566.4,1201.6 568.4,1200.0 570.4,1198.3 572.4,1196.6 574.4,1195.0 576.4,1193.3 578.4,1191.6 580.4,1190.0 582.4,1188.3 584.4,1186.6 586.4,1185.0 588.4,1183.3 590.4,1181.6 592.4,1179.9 594.4,1178.3 596.4,1176.6 598.4,1174.9 600.4,1173.3 602.4,1171.7 604.4,1170.0 606.4,1168.4 608.4,1166.8 610.4,1165.1 612.4,1163.5 614.4,1161.9 616.4,1160.3 618.4,1158.6 624.4,1153.8 632.4,1147.3 640.4,1140.7 648.4,1134.2 656.4,1127.7 664.4,1121.2 672.4,1114.7 680.4,1108.2 688.4,1101.7 696.4,1095.2 704.4,1088.7 712.4,1082.2 720.4,1075.7 728.4,1069.2 736.4,1062.7 744.4,1056.1 752.4,1049.6 760.4,1043.1 768.4,1036.6 776.4,1030.1 784.4,1023.6 792.4,1017.1 800.4,1010.6 808.4,1004.0 816.4,997.4 824.4,990.9 832.4,984.3 840.4,977.7 848.4,971.1 856.4,964.5 864.4,958.0 872.4,951.4 880.4,944.8 888.4,938.2 896.4,931.6 904.4,925.1 912.4,918.5 920.4,912.0 928.4,905.4 936.4,898.9 944.4,892.3 952.4,885.7 960.4,879.2 968.4,872.6 976.4,866.1 984.4,859.5 992.4,853.0 1000.4,846.4 1008.4,839.8 1016.4,833.1 1024.4,826.5 1032.4,819.8 1040.4,813.1 1048.4,806.5 1056.4,799.8 1064.4,793.2 1072.4,786.5 1080.4,779.9 1088.4,773.2 1096.4,766.6 1104.4,760.1 1112.4,753.6 1120.4,747.2 1128.4,740.8 1136.4,734.3 1144.4,727.9 1152.4,721.4 1160.4,715.0 1168.4,708.6 1176.4,702.1 1184.4,695.7 1192.4,689.3 1200.4,682.8 1208.4,675.7 1216.4,668.6 1224.4,661.5 1232.4,654.4 1240.4,647.4 1248.4,641.0 1256.4,634.7 1264.4,628.3 1272.4,621.9 1280.4,615.6 1288.4,609.2 1296.4,602.9 1304.4,596.4 1312.4,589.7 1320.4,583.1 1328.4,576.5 1336.4,569.8 1344.4,563.2 1352.4,556.6 1360.4,549.9 1368.4,543.3 1376.4,536.7 1384.4,530.0 1392.4,523.4 1400.4,516.8 1408.4,510.0 1416.4,503.2 1424.4,496.4 1432.4,489.6 1440.4,482.8 1448.4,476.0 1456.4,469.2 1464.4,462.4 1472.4,455.7 1480.4,448.9 1488.4,442.1 1496.4,435.3 1504.4,428.6 1512.4,422.0 1520.4,415.4 1528.4,408.7 1536.4,402.1 1544.4,395.5 1552.4,388.9 1560.4,382.3 1568.4,375.6 1576.4,369.0 1584.4,362.4 1592.4,355.8 1600.4,349.2 1608.4,342.6 1616.4,336.0 1624.4,329.4 1632.4,322.8 1640.4,316.2 1648.4,309.6 1656.4,303.3 1664.4,297.1 1672.4,290.8 1680.4,284.6 1688.4,278.4 1696.4,272.2 1704.4,265.4 1712.4,258.3 1720.4,251.1 1728.4,243.9 1736.4,236.7 1744.4,228.4 1752.4,220.8 1760.4,213.8 1768.4,206.8 1776.4,199.8 1784.4,193.1 1792.4,186.7 1800.4,180.3 1808.4,174.0 1816.4,167.6 1824.4,161.2 1832.4,154.8 1840.4,148.3 1848.4,141.8 1856.4,135.3 1864.4,128.7 1867.0,126.6 1867.0,117.0 1864.4,119.1 1856.4,125.7 1848.4,132.4 1840.4,139.0 1832.4,145.6 1824.4,152.2 1816.4,158.8 1808.4,165.4 1800.4,172.0 1792.4,178.6 1784.4,185.3 1776.4,192.0 1768.4,198.7 1760.4,205.3 1752.4,212.0 1744.4,218.7 1736.4,225.4 1728.4,232.1 1720.4,238.7 1712.4,245.4 1704.4,252.1 1696.4,258.8 1688.4,265.4 1680.4,272.1 1672.4,278.8 1664.4,285.5 1656.4,292.1 1648.4,298.8 1640.4,305.5 1632.4,312.2 1624.4,318.8 1616.4,325.5 1608.4,332.2 1600.4,338.9 1592.4,345.5 1584.4,352.2 1576.4,358.9 1568.4,365.6 1560.4,372.2 1552.4,378.9 1544.4,385.6 1536.4,392.3 1528.4,398.9 1520.4,405.6 1512.4,412.3 1504.4,419.0 1496.4,425.6 1488.4,432.3 1480.4,439.0 1472.4,445.7 1464.4,452.3 1456.4,459.0 1448.4,465.7 1440.4,472.4 1432.4,479.0 1424.4,485.7 1416.4,492.4 1408.4,499.1 1400.4,505.7 1392.4,512.4 1384.4,519.1 1376.4,525.8 1368.4,532.4 1360.4,539.1 1352.4,545.8 1344.4,552.5 1336.4,559.1 1328.4,565.8 1320.4,572.5 1312.4,579.2 1304.4,585.8 1296.4,592.5 1288.4,599.2 1280.4,605.9 1272.4,612.5 1264.4,619.2 1256.4,625.9 1248.4,632.6 1240.4,639.2 1232.4,645.9 1224.4,652.6 1216.4,659.3 1208.4,665.9 1200.4,672.6 1192.4,679.3 1184.4,686.0 1176.4,692.6 1168.4,699.3 1160.4,706.0 1152.4,712.7 1144.4,719.3 1136.4,726.0 1128.4,732.7 1120.4,739.4 1112.4,746.1 1104.4,752.7 1096.4,759.4 1088.4,766.1 1080.4,772.8 1072.4,779.4 1064.4,786.1 1056.4,792.8 1048.4,799.5 1040.4,806.1 1032.4,812.8 1024.4,819.5 1016.4,826.2 1008.4,832.8 1000.4,839.5 992.4,846.2 984.4,852.9 976.4,859.5 968.4,866.2 960.4,872.9 952.4,879.6 944.4,886.2 936.4,892.9 928.4,899.6 920.4,906.3 912.4,912.9 904.4,919.6 896.4,926.3 888.4,933.0 880.4,939.6 872.4,946.3 864.4,953.0 856.4,959.7 848.4,966.3 840.4,973.0 832.4,979.7 824.4,986.4 816.4,993.0 808.4,999.7 800.4,1006.4 792.4,1013.1 784.4,1019.7 776.4,1026.4 768.4,1033.1 760.4,1039.8 752.4,1046.4 744.4,1053.1 736.4,1059.8 728.4,1066.5 720.4,1073.1 712.4,1079.8 704.4,1086.5 696.4,1093.2 688.4,1099.8 680.4,1106.5 672.4,1113.2 664.4,1119.9 656.4,1126.5 648.4,1133.2 640.4,1139.9 632.4,1146.6 624.4,1153.2 618.4,1158.3 616.4,1159.9 614.4,1161.6 612.4,1163.3 610.4,1164.9 608.4,1166.6 606.4,1168.3 604.4,1169.9 602.4,1171.6 600.4,1173.3 598.4,1174.9 596.4,1176.6 594.4,1178.3 592.4,1179.9 590.4,1181.6 588.4,1183.3 586.4,1185.0 584.4,1186.6 582.4,1188.3 580.4,1190.0 578.4,1191.6 576.4,1193.3 574.4,1195.0 572.4,1196.6 570.4,1198.3 568.4,1200.0 566.4,1201.6 564.4,1203.3 562.4,1205.0 560.4,1206.6 558.4,1208.3 556.4,1210.0 554.4,1211.7 552.4,1213.3 550.4,1215.0 548.4,1216.7 546.4,1218.3 544.4,1220.0 542.4,1221.7 540.4,1223.3 538.4,1225.0 536.4,1226.7 534.4,1228.3 532.4,1230.0 530.4,1231.7 528.4,1233.3 526.4,1235.0 524.4,1236.7 522.4,1238.4 520.4,1240.0 518.4,1241.7 516.4,1243.4 514.4,1245.0 512.4,1235.0 510.4,1236.5 508.4,1237.9 506.4,1239.3 504.4,1240.7 502.4,1241.9 500.4,1243.2 498.4,1244.5 496.4,1245.7 494.4,1247.0 492.4,1248.3 490.4,1249.5 488.4,1250.8 486.4,1252.0 484.4,1253.0 482.4,1254.1 480.4,1255.2 478.4,1256.3 476.4,1257.4 474.4,1258.5 472.4,1259.5 470.4,1260.6 468.4,1261.7 466.4,1262.8 464.4,1263.9 462.4,1264.9 460.4,1266.0 458.4,1267.1 456.4,1268.1 454.4,1269.2 452.4,1270.3 450.4,1271.3 448.4,1272.4 446.4,1273.5 444.4,1274.5 442.4,1275.6 440.4,1276.5 438.4,1277.3 436.4,1278.2 434.4,1279.1 432.4,1279.9 430.4,1280.8 428.4,1281.7 426.4,1282.5 424.4,1283.4 422.4,1284.3 420.4,1285.1 418.4,1286.0 416.4,1286.9 414.4,1287.7 412.4,1288.6 410.4,1289.5 408.4,1290.4 406.4,1291.2 404.4,1292.1 402.4,1293.0 400.4,1293.9 398.4,1294.7 396.4,1295.3 394.4,1295.9 392.4,1296.5 390.4,1297.2 388.4,1297.8 386.4,1298.4 384.4,1299.0 382.4,1299.6 380.4,1300.2 378.4,1300.8 376.4,1301.4" fill="url(#gl4)"/>
<polygon points="376.4,1300.4 378.4,1299.7 380.4,1299.1 382.4,1298.5 384.4,1297.8 386.4,1297.2 388.4,1296.5 390.4,1295.9 392.4,1295.3 394.4,1294.6 396.4,1294.0 398.4,1293.3 400.4,1292.4 402.4,1291.5 404.4,1290.5 406.4,1289.5 408.4,1288.6 410.4,1287.6 412.4,1286.7 414.4,1285.7 416.4,1284.8 418.4,1283.8 420.4,1282.9 422.4,1281.9 424.4,1281.0 426.4,1280.1 428.4,1279.1 430.4,1278.2 432.4,1277.3 434.4,1276.3 436.4,1275.4 438.4,1274.5 440.4,1273.5 442.4,1272.6 444.4,1271.5 446.4,1270.4 448.4,1269.3 450.4,1268.2 452.4,1267.1 454.4,1266.0 456.4,1264.9 458.4,1263.8 460.4,1262.7 462.4,1261.6 464.4,1260.5 466.4,1259.4 468.4,1258.3 470.4,1257.3 472.4,1256.2 474.4,1255.1 476.4,1254.0 478.4,1253.0 480.4,1251.9 482.4,1250.8 484.4,1249.7 486.4,1248.7 488.4,1247.5 490.4,1246.2 492.4,1244.9 494.4,1243.6 496.4,1242.3 498.4,1241.0 500.4,1239.7 502.4,1238.4 504.4,1237.1 506.4,1235.7 508.4,1234.4 510.4,1233.0 512.4,1231.5 514.4,1235.7 516.4,1234.1 518.4,1232.5 520.4,1230.9 522.4,1229.3 524.4,1227.7 526.4,1226.1 528.4,1224.5 530.4,1222.9 532.4,1221.3 534.4,1219.8 536.4,1218.3 538.4,1216.8 540.4,1215.3 542.4,1213.8 544.4,1212.3 546.4,1210.8 548.4,1209.3 550.4,1207.8 552.4,1206.3 554.4,1204.8 556.4,1203.3 558.4,1201.7 560.4,1200.2 562.4,1198.7 564.4,1197.1 566.4,1195.6 568.4,1194.0 570.4,1192.5 572.4,1191.0 574.4,1189.4 576.4,1187.9 578.4,1186.4 580.4,1184.8 582.4,1183.0 584.4,1181.2 586.4,1179.4 588.4,1177.6 590.4,1175.8 592.4,1174.0 594.4,1172.2 596.4,1170.4 598.4,1168.5 600.4,1166.8 602.4,1165.0 604.4,1163.3 606.4,1161.6 608.4,1159.8 610.4,1158.1 612.4,1156.3 614.4,1154.6 616.4,1152.9 618.4,1151.1 624.4,1145.9 632.4,1139.0 640.4,1132.0 648.4,1125.1 656.4,1118.2 664.4,1111.2 672.4,1104.1 680.4,1097.1 688.4,1090.1 696.4,1083.1 704.4,1076.0 712.4,1069.0 720.4,1062.0 728.4,1055.1 736.4,1048.1 744.4,1041.1 752.4,1034.2 760.4,1027.2 768.4,1020.2 776.4,1013.3 784.4,1006.3 792.4,999.3 800.4,992.4 808.4,985.5 816.4,978.6 824.4,971.7 832.4,964.8 840.4,957.9 848.4,951.0 856.4,944.2 864.4,937.3 872.4,930.4 880.4,923.6 888.4,916.7 896.4,909.9 904.4,903.0 912.4,896.1 920.4,889.1 928.4,882.2 936.4,875.3 944.4,868.4 952.4,861.5 960.4,854.8 968.4,848.0 976.4,841.3 984.4,834.5 992.4,827.8 1000.4,821.0 1008.4,814.1 1016.4,807.3 1024.4,800.4 1032.4,793.6 1040.4,786.8 1048.4,780.1 1056.4,774.0 1064.4,767.9 1072.4,761.7 1080.4,756.0 1088.4,750.5 1096.4,744.9 1104.4,739.0 1112.4,732.8 1120.4,726.6 1128.4,720.4 1136.4,714.2 1144.4,708.0 1152.4,701.7 1160.4,695.2 1168.4,688.7 1176.4,682.2 1184.4,675.7 1192.4,669.1 1200.4,662.6 1208.4,656.5 1216.4,650.3 1224.4,644.1 1232.4,637.9 1240.4,631.8 1248.4,625.2 1256.4,618.6 1264.4,612.0 1272.4,605.4 1280.4,598.9 1288.4,592.3 1296.4,585.7 1304.4,579.0 1312.4,572.1 1320.4,565.2 1328.4,558.4 1336.4,551.5 1344.4,544.6 1352.4,537.7 1360.4,530.8 1368.4,523.8 1376.4,516.8 1384.4,509.9 1392.4,502.9 1400.4,496.0 1408.4,489.4 1416.4,482.8 1424.4,476.1 1432.4,469.5 1440.4,462.9 1448.4,456.3 1456.4,449.7 1464.4,443.1 1472.4,436.5 1480.4,429.8 1488.4,423.2 1496.4,416.6 1504.4,410.0 1512.4,403.3 1520.4,396.7 1528.4,390.0 1536.4,383.3 1544.4,376.7 1552.4,370.0 1560.4,363.4 1568.4,356.7 1576.4,350.1 1584.4,343.4 1592.4,336.8 1600.4,330.1 1608.4,323.2 1616.4,316.3 1624.4,309.5 1632.4,302.6 1640.4,295.7 1648.4,288.8 1656.4,281.7 1664.4,274.6 1672.4,267.4 1680.4,260.3 1688.4,253.1 1696.4,246.0 1704.4,238.8 1712.4,231.8 1720.4,224.7 1728.4,217.6 1736.4,210.5 1744.4,203.4 1752.4,196.6 1760.4,190.0 1768.4,183.5 1776.4,176.9 1784.4,170.8 1792.4,164.9 1800.4,159.0 1808.4,152.8 1816.4,146.5 1824.4,140.3 1832.4,134.0 1840.4,127.7 1848.4,121.3 1856.4,114.9 1864.4,108.6 1867.0,106.5 1867.0,117.0 1864.4,119.1 1856.4,125.7 1848.4,132.4 1840.4,139.0 1832.4,145.6 1824.4,152.2 1816.4,158.8 1808.4,165.4 1800.4,172.0 1792.4,178.6 1784.4,185.3 1776.4,192.0 1768.4,198.7 1760.4,205.3 1752.4,212.0 1744.4,218.7 1736.4,225.4 1728.4,232.1 1720.4,238.7 1712.4,245.4 1704.4,252.1 1696.4,258.8 1688.4,265.4 1680.4,272.1 1672.4,278.8 1664.4,285.5 1656.4,292.1 1648.4,298.8 1640.4,305.5 1632.4,312.2 1624.4,318.8 1616.4,325.5 1608.4,332.2 1600.4,338.9 1592.4,345.5 1584.4,352.2 1576.4,358.9 1568.4,365.6 1560.4,372.2 1552.4,378.9 1544.4,385.6 1536.4,392.3 1528.4,398.9 1520.4,405.6 1512.4,412.3 1504.4,419.0 1496.4,425.6 1488.4,432.3 1480.4,439.0 1472.4,445.7 1464.4,452.3 1456.4,459.0 1448.4,465.7 1440.4,472.4 1432.4,479.0 1424.4,485.7 1416.4,492.4 1408.4,499.1 1400.4,505.7 1392.4,512.4 1384.4,519.1 1376.4,525.8 1368.4,532.4 1360.4,539.1 1352.4,545.8 1344.4,552.5 1336.4,559.1 1328.4,565.8 1320.4,572.5 1312.4,579.2 1304.4,585.8 1296.4,592.5 1288.4,599.2 1280.4,605.9 1272.4,612.5 1264.4,619.2 1256.4,625.9 1248.4,632.6 1240.4,639.2 1232.4,645.9 1224.4,652.6 1216.4,659.3 1208.4,665.9 1200.4,672.6 1192.4,679.3 1184.4,686.0 1176.4,692.6 1168.4,699.3 1160.4,706.0 1152.4,712.7 1144.4,719.3 1136.4,726.0 1128.4,732.7 1120.4,739.4 1112.4,746.1 1104.4,752.7 1096.4,759.4 1088.4,766.1 1080.4,772.8 1072.4,779.4 1064.4,786.1 1056.4,792.8 1048.4,799.5 1040.4,806.1 1032.4,812.8 1024.4,819.5 1016.4,826.2 1008.4,832.8 1000.4,839.5 992.4,846.2 984.4,852.9 976.4,859.5 968.4,866.2 960.4,872.9 952.4,879.6 944.4,886.2 936.4,892.9 928.4,899.6 920.4,906.3 912.4,912.9 904.4,919.6 896.4,926.3 888.4,933.0 880.4,939.6 872.4,946.3 864.4,953.0 856.4,959.7 848.4,966.3 840.4,973.0 832.4,979.7 824.4,986.4 816.4,993.0 808.4,999.7 800.4,1006.4 792.4,1013.1 784.4,1019.7 776.4,1026.4 768.4,1033.1 760.4,1039.8 752.4,1046.4 744.4,1053.1 736.4,1059.8 728.4,1066.5 720.4,1073.1 712.4,1079.8 704.4,1086.5 696.4,1093.2 688.4,1099.8 680.4,1106.5 672.4,1113.2 664.4,1119.9 656.4,1126.5 648.4,1133.2 640.4,1139.9 632.4,1146.6 624.4,1153.2 618.4,1158.3 616.4,1159.9 614.4,1161.6 612.4,1163.3 610.4,1164.9 608.4,1166.6 606.4,1168.3 604.4,1169.9 602.4,1171.6 600.4,1173.3 598.4,1174.9 596.4,1176.6 594.4,1178.3 592.4,1179.9 590.4,1181.6 588.4,1183.3 586.4,1185.0 584.4,1186.6 582.4,1188.3 580.4,1190.0 578.4,1191.6 576.4,1193.3 574.4,1195.0 572.4,1196.6 570.4,1198.3 568.4,1200.0 566.4,1201.6 564.4,1203.3 562.4,1205.0 560.4,1206.6 558.4,1208.3 556.4,1210.0 554.4,1211.7 552.4,1213.3 550.4,1215.0 548.4,1216.7 546.4,1218.3 544.4,1220.0 542.4,1221.7 540.4,1223.3 538.4,1225.0 536.4,1226.7 534.4,1228.3 532.4,1230.0 530.4,1231.7 528.4,1233.3 526.4,1235.0 524.4,1236.7 522.4,1238.4 520.4,1240.0 518.4,1241.7 516.4,1243.4 514.4,1245.0 512.4,1235.0 510.4,1236.5 508.4,1237.9 506.4,1239.3 504.4,1240.7 502.4,1241.9 500.4,1243.2 498.4,1244.5 496.4,1245.7 494.4,1247.0 492.4,1248.3 490.4,1249.5 488.4,1250.8 486.4,1252.0 484.4,1253.0 482.4,1254.1 480.4,1255.2 478.4,1256.3 476.4,1257.4 474.4,1258.5 472.4,1259.5 470.4,1260.6 468.4,1261.7 466.4,1262.8 464.4,1263.9 462.4,1264.9 460.4,1266.0 458.4,1267.1 456.4,1268.1 454.4,1269.2 452.4,1270.3 450.4,1271.3 448.4,1272.4 446.4,1273.5 444.4,1274.5 442.4,1275.6 440.4,1276.5 438.4,1277.3 436.4,1278.2 434.4,1279.1 432.4,1279.9 430.4,1280.8 428.4,1281.7 426.4,1282.5 424.4,1283.4 422.4,1284.3 420.4,1285.1 418.4,1286.0 416.4,1286.9 414.4,1287.7 412.4,1288.6 410.4,1289.5 408.4,1290.4 406.4,1291.2 404.4,1292.1 402.4,1293.0 400.4,1293.9 398.4,1294.7 396.4,1295.3 394.4,1295.9 392.4,1296.5 390.4,1297.2 388.4,1297.8 386.4,1298.4 384.4,1299.0 382.4,1299.6 380.4,1300.2 378.4,1300.8 376.4,1301.4" fill="url(#gu5)"/>
<polygon points="376.4,1302.5 378.4,1301.9 380.4,1301.4 382.4,1300.8 384.4,1300.2 386.4,1299.6 388.4,1299.0 390.4,1298.4 392.4,1297.8 394.4,1297.3 396.4,1296.7 398.4,1296.1 400.4,1295.3 402.4,1294.5 404.4,1293.7 406.4,1292.9 408.4,1292.1 410.4,1291.4 412.4,1290.6 414.4,1289.8 416.4,1289.0 418.4,1288.2 420.4,1287.4 422.4,1286.6 424.4,1285.8 426.4,1285.0 428.4,1284.2 430.4,1283.4 432.4,1282.6 434.4,1281.8 436.4,1281.0 438.4,1280.2 440.4,1279.4 442.4,1278.6 444.4,1277.6 446.4,1276.5 448.4,1275.5 450.4,1274.5 452.4,1273.4 454.4,1272.4 456.4,1271.4 458.4,1270.4 460.4,1269.3 462.4,1268.3 464.4,1267.3 466.4,1266.2 468.4,1265.1 470.4,1264.0 472.4,1262.9 474.4,1261.8 476.4,1260.7 478.4,1259.6 480.4,1258.5 482.4,1257.4 484.4,1256.3 486.4,1255.2 488.4,1254.1 490.4,1252.9 492.4,1251.6 494.4,1250.4 496.4,1249.2 498.4,1248.0 500.4,1246.7 502.4,1245.5 504.4,1244.3 506.4,1242.9 508.4,1241.5 510.4,1240.1 512.4,1238.6 514.4,1245.0 516.4,1243.4 518.4,1241.7 520.4,1240.0 522.4,1238.4 524.4,1236.7 526.4,1235.0 528.4,1233.3 530.4,1231.7 532.4,1230.0 534.4,1228.3 536.4,1226.7 538.4,1225.0 540.4,1223.3 542.4,1221.7 544.4,1220.0 546.4,1218.3 548.4,1216.7 550.4,1215.0 552.4,1213.3 554.4,1211.7 556.4,1210.0 558.4,1208.3 560.4,1206.6 562.4,1205.0 564.4,1203.3 566.4,1201.6 568.4,1200.0 570.4,1198.3 572.4,1196.6 574.4,1195.0 576.4,1193.3 578.4,1191.6 580.4,1190.0 582.4,1188.3 584.4,1186.6 586.4,1185.0 588.4,1183.3 590.4,1181.6 592.4,1179.9 594.4,1178.3 596.4,1176.6 598.4,1174.9 600.4,1173.3 602.4,1171.6 604.4,1170.0 606.4,1168.4 608.4,1166.7 610.4,1165.1 612.4,1163.5 614.4,1161.8 616.4,1160.2 618.4,1158.6 624.4,1153.7 632.4,1147.1 640.4,1140.6 648.4,1134.1 656.4,1127.5 664.4,1121.0 672.4,1114.5 680.4,1107.9 688.4,1101.4 696.4,1094.9 704.4,1088.3 712.4,1081.8 720.4,1075.2 728.4,1068.7 736.4,1062.2 744.4,1055.6 752.4,1049.1 760.4,1042.6 768.4,1036.0 776.4,1029.5 784.4,1023.0 792.4,1016.4 800.4,1009.9 808.4,1003.3 816.4,996.7 824.4,990.1 832.4,983.5 840.4,976.9 848.4,970.3 856.4,963.7 864.4,957.1 872.4,950.5 880.4,943.9 888.4,937.3 896.4,930.7 904.4,924.2 912.4,917.6 920.4,911.0 928.4,904.4 936.4,897.9 944.4,891.3 952.4,884.7 960.4,878.1 968.4,871.6 976.4,865.0 984.4,858.4 992.4,851.8 1000.4,845.3 1008.4,838.6 1016.4,831.9 1024.4,825.3 1032.4,818.6 1040.4,812.0 1048.4,805.3 1056.4,798.7 1064.4,792.0 1072.4,785.4 1080.4,778.7 1088.4,772.0 1096.4,765.4 1104.4,758.8 1112.4,752.4 1120.4,745.9 1128.4,739.4 1136.4,732.9 1144.4,726.5 1152.4,720.0 1160.4,713.5 1168.4,707.0 1176.4,700.6 1184.4,694.1 1192.4,687.6 1200.4,681.1 1208.4,674.1 1216.4,667.1 1224.4,660.0 1232.4,653.0 1240.4,646.0 1248.4,639.6 1256.4,633.2 1264.4,626.8 1272.4,620.4 1280.4,614.0 1288.4,607.6 1296.4,601.1 1304.4,594.6 1312.4,588.0 1320.4,581.3 1328.4,574.7 1336.4,568.1 1344.4,561.4 1352.4,554.8 1360.4,548.1 1368.4,541.5 1376.4,534.9 1384.4,528.2 1392.4,521.6 1400.4,514.9 1408.4,508.2 1416.4,501.4 1424.4,494.6 1432.4,487.8 1440.4,481.1 1448.4,474.3 1456.4,467.5 1464.4,460.8 1472.4,454.0 1480.4,447.2 1488.4,440.4 1496.4,433.7 1504.4,427.0 1512.4,420.4 1520.4,413.7 1528.4,407.1 1536.4,400.5 1544.4,393.8 1552.4,387.2 1560.4,380.6 1568.4,374.0 1576.4,367.3 1584.4,360.7 1592.4,354.1 1600.4,347.5 1608.4,340.8 1616.4,334.2 1624.4,327.6 1632.4,321.0 1640.4,314.4 1648.4,307.8 1656.4,301.4 1664.4,295.1 1672.4,288.8 1680.4,282.5 1688.4,276.2 1696.4,269.9 1704.4,263.2 1712.4,256.1 1720.4,249.0 1728.4,241.9 1736.4,234.8 1744.4,226.8 1752.4,219.4 1760.4,212.4 1768.4,205.4 1776.4,198.5 1784.4,191.8 1792.4,185.4 1800.4,178.9 1808.4,172.5 1816.4,166.1 1824.4,159.7 1832.4,153.3 1840.4,146.8 1848.4,140.2 1856.4,133.7 1864.4,127.1 1867.0,125.0 1867.0,117.0 1864.4,119.1 1856.4,125.7 1848.4,132.4 1840.4,139.0 1832.4,145.6 1824.4,152.2 1816.4,158.8 1808.4,165.4 1800.4,172.0 1792.4,178.6 1784.4,185.3 1776.4,192.0 1768.4,198.7 1760.4,205.3 1752.4,212.0 1744.4,218.7 1736.4,225.4 1728.4,232.1 1720.4,238.7 1712.4,245.4 1704.4,252.1 1696.4,258.8 1688.4,265.4 1680.4,272.1 1672.4,278.8 1664.4,285.5 1656.4,292.1 1648.4,298.8 1640.4,305.5 1632.4,312.2 1624.4,318.8 1616.4,325.5 1608.4,332.2 1600.4,338.9 1592.4,345.5 1584.4,352.2 1576.4,358.9 1568.4,365.6 1560.4,372.2 1552.4,378.9 1544.4,385.6 1536.4,392.3 1528.4,398.9 1520.4,405.6 1512.4,412.3 1504.4,419.0 1496.4,425.6 1488.4,432.3 1480.4,439.0 1472.4,445.7 1464.4,452.3 1456.4,459.0 1448.4,465.7 1440.4,472.4 1432.4,479.0 1424.4,485.7 1416.4,492.4 1408.4,499.1 1400.4,505.7 1392.4,512.4 1384.4,519.1 1376.4,525.8 1368.4,532.4 1360.4,539.1 1352.4,545.8 1344.4,552.5 1336.4,559.1 1328.4,565.8 1320.4,572.5 1312.4,579.2 1304.4,585.8 1296.4,592.5 1288.4,599.2 1280.4,605.9 1272.4,612.5 1264.4,619.2 1256.4,625.9 1248.4,632.6 1240.4,639.2 1232.4,645.9 1224.4,652.6 1216.4,659.3 1208.4,665.9 1200.4,672.6 1192.4,679.3 1184.4,686.0 1176.4,692.6 1168.4,699.3 1160.4,706.0 1152.4,712.7 1144.4,719.3 1136.4,726.0 1128.4,732.7 1120.4,739.4 1112.4,746.1 1104.4,752.7 1096.4,759.4 1088.4,766.1 1080.4,772.8 1072.4,779.4 1064.4,786.1 1056.4,792.8 1048.4,799.5 1040.4,806.1 1032.4,812.8 1024.4,819.5 1016.4,826.2 1008.4,832.8 1000.4,839.5 992.4,846.2 984.4,852.9 976.4,859.5 968.4,866.2 960.4,872.9 952.4,879.6 944.4,886.2 936.4,892.9 928.4,899.6 920.4,906.3 912.4,912.9 904.4,919.6 896.4,926.3 888.4,933.0 880.4,939.6 872.4,946.3 864.4,953.0 856.4,959.7 848.4,966.3 840.4,973.0 832.4,979.7 824.4,986.4 816.4,993.0 808.4,999.7 800.4,1006.4 792.4,1013.1 784.4,1019.7 776.4,1026.4 768.4,1033.1 760.4,1039.8 752.4,1046.4 744.4,1053.1 736.4,1059.8 728.4,1066.5 720.4,1073.1 712.4,1079.8 704.4,1086.5 696.4,1093.2 688.4,1099.8 680.4,1106.5 672.4,1113.2 664.4,1119.9 656.4,1126.5 648.4,1133.2 640.4,1139.9 632.4,1146.6 624.4,1153.2 618.4,1158.3 616.4,1159.9 614.4,1161.6 612.4,1163.3 610.4,1164.9 608.4,1166.6 606.4,1168.3 604.4,1169.9 602.4,1171.6 600.4,1173.3 598.4,1174.9 596.4,1176.6 594.4,1178.3 592.4,1179.9 590.4,1181.6 588.4,1183.3 586.4,1185.0 584.4,1186.6 582.4,1188.3 580.4,1190.0 578.4,1191.6 576.4,1193.3 574.4,1195.0 572.4,1196.6 570.4,1198.3 568.4,1200.0 566.4,1201.6 564.4,1203.3 562.4,1205.0 560.4,1206.6 558.4,1208.3 556.4,1210.0 554.4,1211.7 552.4,1213.3 550.4,1215.0 548.4,1216.7 546.4,1218.3 544.4,1220.0 542.4,1221.7 540.4,1223.3 538.4,1225.0 536.4,1226.7 534.4,1228.3 532.4,1230.0 530.4,1231.7 528.4,1233.3 526.4,1235.0 524.4,1236.7 522.4,1238.4 520.4,1240.0 518.4,1241.7 516.4,1243.4 514.4,1245.0 512.4,1235.0 510.4,1236.5 508.4,1237.9 506.4,1239.3 504.4,1240.7 502.4,1241.9 500.4,1243.2 498.4,1244.5 496.4,1245.7 494.4,1247.0 492.4,1248.3 490.4,1249.5 488.4,1250.8 486.4,1252.0 484.4,1253.0 482.4,1254.1 480.4,1255.2 478.4,1256.3 476.4,1257.4 474.4,1258.5 472.4,1259.5 470.4,1260.6 468.4,1261.7 466.4,1262.8 464.4,1263.9 462.4,1264.9 460.4,1266.0 458.4,1267.1 456.4,1268.1 454.4,1269.2 452.4,1270.3 450.4,1271.3 448.4,1272.4 446.4,1273.5 444.4,1274.5 442.4,1275.6 440.4,1276.5 438.4,1277.3 436.4,1278.2 434.4,1279.1 432.4,1279.9 430.4,1280.8 428.4,1281.7 426.4,1282.5 424.4,1283.4 422.4,1284.3 420.4,1285.1 418.4,1286.0 416.4,1286.9 414.4,1287.7 412.4,1288.6 410.4,1289.5 408.4,1290.4 406.4,1291.2 404.4,1292.1 402.4,1293.0 400.4,1293.9 398.4,1294.7 396.4,1295.3 394.4,1295.9 392.4,1296.5 390.4,1297.2 388.4,1297.8 386.4,1298.4 384.4,1299.0 382.4,1299.6 380.4,1300.2 378.4,1300.8 376.4,1301.4" fill="url(#gl5)"/>
<polygon points="376.4,1300.6 378.4,1300.0 380.4,1299.3 382.4,1298.7 384.4,1298.1 386.4,1297.4 388.4,1296.8 390.4,1296.2 392.4,1295.5 394.4,1294.9 396.4,1294.2 398.4,1293.6 400.4,1292.7 402.4,1291.8 404.4,1290.8 406.4,1289.9 408.4,1288.9 410.4,1288.0 412.4,1287.1 414.4,1286.1 416.4,1285.2 418.4,1284.3 420.4,1283.3 422.4,1282.4 424.4,1281.5 426.4,1280.6 428.4,1279.6 430.4,1278.7 432.4,1277.8 434.4,1276.9 436.4,1276.0 438.4,1275.0 440.4,1274.1 442.4,1273.2 444.4,1272.1 446.4,1271.0 448.4,1269.9 450.4,1268.8 452.4,1267.7 454.4,1266.6 456.4,1265.5 458.4,1264.4 460.4,1263.4 462.4,1262.3 464.4,1261.2 466.4,1260.1 468.4,1259.0 470.4,1257.9 472.4,1256.9 474.4,1255.8 476.4,1254.7 478.4,1253.6 480.4,1252.6 482.4,1251.5 484.4,1250.4 486.4,1249.3 488.4,1248.2 490.4,1246.9 492.4,1245.6 494.4,1244.3 496.4,1243.0 498.4,1241.7 500.4,1240.4 502.4,1239.1 504.4,1237.8 506.4,1236.5 508.4,1235.1 510.4,1233.7 512.4,1232.2 514.4,1237.6 516.4,1236.0 518.4,1234.3 520.4,1232.7 522.4,1231.1 524.4,1229.5 526.4,1227.9 528.4,1226.3 530.4,1224.7 532.4,1223.0 534.4,1221.5 536.4,1220.0 538.4,1218.4 540.4,1216.9 542.4,1215.4 544.4,1213.8 546.4,1212.3 548.4,1210.8 550.4,1209.2 552.4,1207.7 554.4,1206.2 556.4,1204.6 558.4,1203.0 560.4,1201.5 562.4,1199.9 564.4,1198.4 566.4,1196.8 568.4,1195.2 570.4,1193.7 572.4,1192.1 574.4,1190.5 576.4,1189.0 578.4,1187.4 580.4,1185.8 582.4,1184.0 584.4,1182.3 586.4,1180.5 588.4,1178.7 590.4,1176.9 592.4,1175.2 594.4,1173.4 596.4,1171.6 598.4,1169.8 600.4,1168.1 602.4,1166.3 604.4,1164.6 606.4,1162.9 608.4,1161.2 610.4,1159.4 612.4,1157.7 614.4,1156.0 616.4,1154.3 618.4,1152.6 624.4,1147.4 632.4,1140.5 640.4,1133.6 648.4,1126.7 656.4,1119.8 664.4,1112.9 672.4,1106.0 680.4,1099.0 688.4,1092.0 696.4,1085.1 704.4,1078.1 712.4,1071.2 720.4,1064.2 728.4,1057.3 736.4,1050.4 744.4,1043.5 752.4,1036.6 760.4,1029.7 768.4,1022.8 776.4,1015.9 784.4,1009.0 792.4,1002.1 800.4,995.2 808.4,988.3 816.4,981.5 824.4,974.6 832.4,967.7 840.4,960.9 848.4,954.1 856.4,947.3 864.4,940.4 872.4,933.6 880.4,926.8 888.4,920.0 896.4,913.2 904.4,906.3 912.4,899.4 920.4,892.6 928.4,885.7 936.4,878.8 944.4,872.0 952.4,865.1 960.4,858.4 968.4,851.7 976.4,844.9 984.4,838.2 992.4,831.4 1000.4,824.7 1008.4,817.9 1016.4,811.1 1024.4,804.3 1032.4,797.4 1040.4,790.6 1048.4,784.0 1056.4,777.8 1064.4,771.5 1072.4,765.3 1080.4,759.4 1088.4,753.6 1096.4,747.8 1104.4,741.7 1112.4,735.4 1120.4,729.2 1128.4,722.9 1136.4,716.6 1144.4,710.3 1152.4,703.9 1160.4,697.4 1168.4,690.8 1176.4,684.3 1184.4,677.7 1192.4,671.2 1200.4,664.6 1208.4,658.4 1216.4,652.1 1224.4,645.8 1232.4,639.5 1240.4,633.2 1248.4,626.7 1256.4,620.1 1264.4,613.5 1272.4,606.9 1280.4,600.3 1288.4,593.7 1296.4,587.1 1304.4,580.4 1312.4,573.5 1320.4,566.7 1328.4,559.8 1336.4,553.0 1344.4,546.2 1352.4,539.3 1360.4,532.4 1368.4,525.5 1376.4,518.6 1384.4,511.7 1392.4,504.8 1400.4,497.9 1408.4,491.3 1416.4,484.7 1424.4,478.1 1432.4,471.4 1440.4,464.8 1448.4,458.2 1456.4,451.5 1464.4,444.9 1472.4,438.3 1480.4,431.7 1488.4,425.0 1496.4,418.4 1504.4,411.8 1512.4,405.1 1520.4,398.4 1528.4,391.8 1536.4,385.1 1544.4,378.5 1552.4,371.8 1560.4,365.2 1568.4,358.5 1576.4,351.8 1584.4,345.2 1592.4,338.5 1600.4,331.8 1608.4,325.0 1616.4,318.2 1624.4,311.3 1632.4,304.5 1640.4,297.7 1648.4,290.8 1656.4,283.8 1664.4,276.8 1672.4,269.7 1680.4,262.6 1688.4,255.6 1696.4,248.5 1704.4,241.5 1712.4,234.5 1720.4,227.5 1728.4,220.5 1736.4,213.5 1744.4,206.4 1752.4,199.7 1760.4,193.1 1768.4,186.5 1776.4,180.0 1784.4,173.7 1792.4,167.6 1800.4,161.6 1808.4,155.3 1816.4,149.0 1824.4,142.7 1832.4,136.3 1840.4,129.9 1848.4,123.5 1856.4,117.1 1864.4,110.7 1867.0,108.6 1867.0,117.0 1864.4,119.1 1856.4,125.7 1848.4,132.4 1840.4,139.0 1832.4,145.6 1824.4,152.2 1816.4,158.8 1808.4,165.4 1800.4,172.0 1792.4,178.6 1784.4,185.3 1776.4,192.0 1768.4,198.7 1760.4,205.3 1752.4,212.0 1744.4,218.7 1736.4,225.4 1728.4,232.1 1720.4,238.7 1712.4,245.4 1704.4,252.1 1696.4,258.8 1688.4,265.4 1680.4,272.1 1672.4,278.8 1664.4,285.5 1656.4,292.1 1648.4,298.8 1640.4,305.5 1632.4,312.2 1624.4,318.8 1616.4,325.5 1608.4,332.2 1600.4,338.9 1592.4,345.5 1584.4,352.2 1576.4,358.9 1568.4,365.6 1560.4,372.2 1552.4,378.9 1544.4,385.6 1536.4,392.3 1528.4,398.9 1520.4,405.6 1512.4,412.3 1504.4,419.0 1496.4,425.6 1488.4,432.3 1480.4,439.0 1472.4,445.7 1464.4,452.3 1456.4,459.0 1448.4,465.7 1440.4,472.4 1432.4,479.0 1424.4,485.7 1416.4,492.4 1408.4,499.1 1400.4,505.7 1392.4,512.4 1384.4,519.1 1376.4,525.8 1368.4,532.4 1360.4,539.1 1352.4,545.8 1344.4,552.5 1336.4,559.1 1328.4,565.8 1320.4,572.5 1312.4,579.2 1304.4,585.8 1296.4,592.5 1288.4,599.2 1280.4,605.9 1272.4,612.5 1264.4,619.2 1256.4,625.9 1248.4,632.6 1240.4,639.2 1232.4,645.9 1224.4,652.6 1216.4,659.3 1208.4,665.9 1200.4,672.6 1192.4,679.3 1184.4,686.0 1176.4,692.6 1168.4,699.3 1160.4,706.0 1152.4,712.7 1144.4,719.3 1136.4,726.0 1128.4,732.7 1120.4,739.4 1112.4,746.1 1104.4,752.7 1096.4,759.4 1088.4,766.1 1080.4,772.8 1072.4,779.4 1064.4,786.1 1056.4,792.8 1048.4,799.5 1040.4,806.1 1032.4,812.8 1024.4,819.5 1016.4,826.2 1008.4,832.8 1000.4,839.5 992.4,846.2 984.4,852.9 976.4,859.5 968.4,866.2 960.4,872.9 952.4,879.6 944.4,886.2 936.4,892.9 928.4,899.6 920.4,906.3 912.4,912.9 904.4,919.6 896.4,926.3 888.4,933.0 880.4,939.6 872.4,946.3 864.4,953.0 856.4,959.7 848.4,966.3 840.4,973.0 832.4,979.7 824.4,986.4 816.4,993.0 808.4,999.7 800.4,1006.4 792.4,1013.1 784.4,1019.7 776.4,1026.4 768.4,1033.1 760.4,1039.8 752.4,1046.4 744.4,1053.1 736.4,1059.8 728.4,1066.5 720.4,1073.1 712.4,1079.8 704.4,1086.5 696.4,1093.2 688.4,1099.8 680.4,1106.5 672.4,1113.2 664.4,1119.9 656.4,1126.5 648.4,1133.2 640.4,1139.9 632.4,1146.6 624.4,1153.2 618.4,1158.3 616.4,1159.9 614.4,1161.6 612.4,1163.3 610.4,1164.9 608.4,1166.6 606.4,1168.3 604.4,1169.9 602.4,1171.6 600.4,1173.3 598.4,1174.9 596.4,1176.6 594.4,1178.3 592.4,1179.9 590.4,1181.6 588.4,1183.3 586.4,1185.0 584.4,1186.6 582.4,1188.3 580.4,1190.0 578.4,1191.6 576.4,1193.3 574.4,1195.0 572.4,1196.6 570.4,1198.3 568.4,1200.0 566.4,1201.6 564.4,1203.3 562.4,1205.0 560.4,1206.6 558.4,1208.3 556.4,1210.0 554.4,1211.7 552.4,1213.3 550.4,1215.0 548.4,1216.7 546.4,1218.3 544.4,1220.0 542.4,1221.7 540.4,1223.3 538.4,1225.0 536.4,1226.7 534.4,1228.3 532.4,1230.0 530.4,1231.7 528.4,1233.3 526.4,1235.0 524.4,1236.7 522.4,1238.4 520.4,1240.0 518.4,1241.7 516.4,1243.4 514.4,1245.0 512.4,1235.0 510.4,1236.5 508.4,1237.9 506.4,1239.3 504.4,1240.7 502.4,1241.9 500.4,1243.2 498.4,1244.5 496.4,1245.7 494.4,1247.0 492.4,1248.3 490.4,1249.5 488.4,1250.8 486.4,1252.0 484.4,1253.0 482.4,1254.1 480.4,1255.2 478.4,1256.3 476.4,1257.4 474.4,1258.5 472.4,1259.5 470.4,1260.6 468.4,1261.7 466.4,1262.8 464.4,1263.9 462.4,1264.9 460.4,1266.0 458.4,1267.1 456.4,1268.1 454.4,1269.2 452.4,1270.3 450.4,1271.3 448.4,1272.4 446.4,1273.5 444.4,1274.5 442.4,1275.6 440.4,1276.5 438.4,1277.3 436.4,1278.2 434.4,1279.1 432.4,1279.9 430.4,1280.8 428.4,1281.7 426.4,1282.5 424.4,1283.4 422.4,1284.3 420.4,1285.1 418.4,1286.0 416.4,1286.9 414.4,1287.7 412.4,1288.6 410.4,1289.5 408.4,1290.4 406.4,1291.2 404.4,1292.1 402.4,1293.0 400.4,1293.9 398.4,1294.7 396.4,1295.3 394.4,1295.9 392.4,1296.5 390.4,1297.2 388.4,1297.8 386.4,1298.4 384.4,1299.0 382.4,1299.6 380.4,1300.2 378.4,1300.8 376.4,1301.4" fill="url(#gu6)"/>
<polygon points="376.4,1302.3 378.4,1301.7 380.4,1301.1 382.4,1300.5 384.4,1299.9 386.4,1299.4 388.4,1298.8 390.4,1298.2 392.4,1297.6 394.4,1297.0 396.4,1296.4 398.4,1295.8 400.4,1295.0 402.4,1294.2 404.4,1293.4 406.4,1292.6 408.4,1291.8 410.4,1291.0 412.4,1290.2 414.4,1289.4 416.4,1288.6 418.4,1287.7 420.4,1286.9 422.4,1286.1 424.4,1285.3 426.4,1284.5 428.4,1283.7 430.4,1282.9 432.4,1282.1 434.4,1281.2 436.4,1280.4 438.4,1279.6 440.4,1278.8 442.4,1278.0 444.4,1277.0 446.4,1275.9 448.4,1274.9 450.4,1273.9 452.4,1272.8 454.4,1271.8 456.4,1270.7 458.4,1269.7 460.4,1268.7 462.4,1267.6 464.4,1266.6 466.4,1265.5 468.4,1264.4 470.4,1263.3 472.4,1262.2 474.4,1261.1 476.4,1260.0 478.4,1259.0 480.4,1257.9 482.4,1256.8 484.4,1255.7 486.4,1254.6 488.4,1253.4 490.4,1252.2 492.4,1251.0 494.4,1249.7 496.4,1248.5 498.4,1247.3 500.4,1246.0 502.4,1244.8 504.4,1243.5 506.4,1242.2 508.4,1240.8 510.4,1239.4 512.4,1237.9 514.4,1245.0 516.4,1243.4 518.4,1241.7 520.4,1240.0 522.4,1238.4 524.4,1236.7 526.4,1235.0 528.4,1233.3 530.4,1231.7 532.4,1230.0 534.4,1228.3 536.4,1226.7 538.4,1225.0 540.4,1223.3 542.4,1221.7 544.4,1220.0 546.4,1218.3 548.4,1216.7 550.4,1215.0 552.4,1213.3 554.4,1211.7 556.4,1210.0 558.4,1208.3 560.4,1206.6 562.4,1205.0 564.4,1203.3 566.4,1201.6 568.4,1200.0 570.4,1198.3 572.4,1196.6 574.4,1195.0 576.4,1193.3 578.4,1191.6 580.4,1190.0 582.4,1188.3 584.4,1186.6 586.4,1185.0 588.4,1183.3 590.4,1181.6 592.4,1179.9 594.4,1178.3 596.4,1176.6 598.4,1174.9 600.4,1173.3 602.4,1171.6 604.4,1170.0 606.4,1168.4 608.4,1166.7 610.4,1165.1 612.4,1163.4 614.4,1161.8 616.4,1160.2 618.4,1158.5 624.4,1153.6 632.4,1147.0 640.4,1140.5 648.4,1133.9 656.4,1127.3 664.4,1120.8 672.4,1114.2 680.4,1107.6 688.4,1101.1 696.4,1094.5 704.4,1088.0 712.4,1081.4 720.4,1074.8 728.4,1068.3 736.4,1061.7 744.4,1055.1 752.4,1048.6 760.4,1042.0 768.4,1035.4 776.4,1028.9 784.4,1022.3 792.4,1015.8 800.4,1009.2 808.4,1002.6 816.4,996.0 824.4,989.4 832.4,982.7 840.4,976.1 848.4,969.5 856.4,962.9 864.4,956.3 872.4,949.7 880.4,943.1 888.4,936.5 896.4,929.9 904.4,923.3 912.4,916.7 920.4,910.1 928.4,903.5 936.4,896.9 944.4,890.3 952.4,883.7 960.4,877.1 968.4,870.5 976.4,863.9 984.4,857.3 992.4,850.7 1000.4,844.1 1008.4,837.4 1016.4,830.8 1024.4,824.1 1032.4,817.5 1040.4,810.8 1048.4,804.1 1056.4,797.5 1064.4,790.8 1072.4,784.2 1080.4,777.5 1088.4,770.9 1096.4,764.2 1104.4,757.6 1112.4,751.1 1120.4,744.6 1128.4,738.1 1136.4,731.6 1144.4,725.0 1152.4,718.5 1160.4,712.0 1168.4,705.5 1176.4,699.0 1184.4,692.5 1192.4,685.9 1200.4,679.4 1208.4,672.5 1216.4,665.5 1224.4,658.5 1232.4,651.6 1240.4,644.7 1248.4,638.2 1256.4,631.7 1264.4,625.3 1272.4,618.8 1280.4,612.3 1288.4,605.9 1296.4,599.4 1304.4,592.9 1312.4,586.2 1320.4,579.6 1328.4,572.9 1336.4,566.3 1344.4,559.6 1352.4,553.0 1360.4,546.3 1368.4,539.7 1376.4,533.0 1384.4,526.4 1392.4,519.7 1400.4,513.1 1408.4,506.3 1416.4,499.6 1424.4,492.8 1432.4,486.1 1440.4,479.3 1448.4,472.6 1456.4,465.8 1464.4,459.1 1472.4,452.3 1480.4,445.6 1488.4,438.8 1496.4,432.1 1504.4,425.4 1512.4,418.7 1520.4,412.1 1528.4,405.5 1536.4,398.8 1544.4,392.2 1552.4,385.6 1560.4,378.9 1568.4,372.3 1576.4,365.6 1584.4,359.0 1592.4,352.4 1600.4,345.7 1608.4,339.1 1616.4,332.5 1624.4,325.9 1632.4,319.2 1640.4,312.6 1648.4,306.0 1656.4,299.6 1664.4,293.2 1672.4,286.8 1680.4,280.4 1688.4,274.1 1696.4,267.7 1704.4,261.0 1712.4,254.0 1720.4,247.0 1728.4,240.0 1736.4,232.9 1744.4,225.2 1752.4,217.9 1760.4,211.0 1768.4,204.1 1776.4,197.2 1784.4,190.5 1792.4,184.0 1800.4,177.5 1808.4,171.1 1816.4,164.6 1824.4,158.2 1832.4,151.7 1840.4,145.2 1848.4,138.6 1856.4,132.1 1864.4,125.5 1867.0,123.4 1867.0,117.0 1864.4,119.1 1856.4,125.7 1848.4,132.4 1840.4,139.0 1832.4,145.6 1824.4,152.2 1816.4,158.8 1808.4,165.4 1800.4,172.0 1792.4,178.6 1784.4,185.3 1776.4,192.0 1768.4,198.7 1760.4,205.3 1752.4,212.0 1744.4,218.7 1736.4,225.4 1728.4,232.1 1720.4,238.7 1712.4,245.4 1704.4,252.1 1696.4,258.8 1688.4,265.4 1680.4,272.1 1672.4,278.8 1664.4,285.5 1656.4,292.1 1648.4,298.8 1640.4,305.5 1632.4,312.2 1624.4,318.8 1616.4,325.5 1608.4,332.2 1600.4,338.9 1592.4,345.5 1584.4,352.2 1576.4,358.9 1568.4,365.6 1560.4,372.2 1552.4,378.9 1544.4,385.6 1536.4,392.3 1528.4,398.9 1520.4,405.6 1512.4,412.3 1504.4,419.0 1496.4,425.6 1488.4,432.3 1480.4,439.0 1472.4,445.7 1464.4,452.3 1456.4,459.0 1448.4,465.7 1440.4,472.4 1432.4,479.0 1424.4,485.7 1416.4,492.4 1408.4,499.1 1400.4,505.7 1392.4,512.4 1384.4,519.1 1376.4,525.8 1368.4,532.4 1360.4,539.1 1352.4,545.8 1344.4,552.5 1336.4,559.1 1328.4,565.8 1320.4,572.5 1312.4,579.2 1304.4,585.8 1296.4,592.5 1288.4,599.2 1280.4,605.9 1272.4,612.5 1264.4,619.2 1256.4,625.9 1248.4,632.6 1240.4,639.2 1232.4,645.9 1224.4,652.6 1216.4,659.3 1208.4,665.9 1200.4,672.6 1192.4,679.3 1184.4,686.0 1176.4,692.6 1168.4,699.3 1160.4,706.0 1152.4,712.7 1144.4,719.3 1136.4,726.0 1128.4,732.7 1120.4,739.4 1112.4,746.1 1104.4,752.7 1096.4,759.4 1088.4,766.1 1080.4,772.8 1072.4,779.4 1064.4,786.1 1056.4,792.8 1048.4,799.5 1040.4,806.1 1032.4,812.8 1024.4,819.5 1016.4,826.2 1008.4,832.8 1000.4,839.5 992.4,846.2 984.4,852.9 976.4,859.5 968.4,866.2 960.4,872.9 952.4,879.6 944.4,886.2 936.4,892.9 928.4,899.6 920.4,906.3 912.4,912.9 904.4,919.6 896.4,926.3 888.4,933.0 880.4,939.6 872.4,946.3 864.4,953.0 856.4,959.7 848.4,966.3 840.4,973.0 832.4,979.7 824.4,986.4 816.4,993.0 808.4,999.7 800.4,1006.4 792.4,1013.1 784.4,1019.7 776.4,1026.4 768.4,1033.1 760.4,1039.8 752.4,1046.4 744.4,1053.1 736.4,1059.8 728.4,1066.5 720.4,1073.1 712.4,1079.8 704.4,1086.5 696.4,1093.2 688.4,1099.8 680.4,1106.5 672.4,1113.2 664.4,1119.9 656.4,1126.5 648.4,1133.2 640.4,1139.9 632.4,1146.6 624.4,1153.2 618.4,1158.3 616.4,1159.9 614.4,1161.6 612.4,1163.3 610.4,1164.9 608.4,1166.6 606.4,1168.3 604.4,1169.9 602.4,1171.6 600.4,1173.3 598.4,1174.9 596.4,1176.6 594.4,1178.3 592.4,1179.9 590.4,1181.6 588.4,1183.3 586.4,1185.0 584.4,1186.6 582.4,1188.3 580.4,1190.0 578.4,1191.6 576.4,1193.3 574.4,1195.0 572.4,1196.6 570.4,1198.3 568.4,1200.0 566.4,1201.6 564.4,1203.3 562.4,1205.0 560.4,1206.6 558.4,1208.3 556.4,1210.0 554.4,1211.7 552.4,1213.3 550.4,1215.0 548.4,1216.7 546.4,1218.3 544.4,1220.0 542.4,1221.7 540.4,1223.3 538.4,1225.0 536.4,1226.7 534.4,1228.3 532.4,1230.0 530.4,1231.7 528.4,1233.3 526.4,1235.0 524.4,1236.7 522.4,1238.4 520.4,1240.0 518.4,1241.7 516.4,1243.4 514.4,1245.0 512.4,1235.0 510.4,1236.5 508.4,1237.9 506.4,1239.3 504.4,1240.7 502.4,1241.9 500.4,1243.2 498.4,1244.5 496.4,1245.7 494.4,1247.0 492.4,1248.3 490.4,1249.5 488.4,1250.8 486.4,1252.0 484.4,1253.0 482.4,1254.1 480.4,1255.2 478.4,1256.3 476.4,1257.4 474.4,1258.5 472.4,1259.5 470.4,1260.6 468.4,1261.7 466.4,1262.8 464.4,1263.9 462.4,1264.9 460.4,1266.0 458.4,1267.1 456.4,1268.1 454.4,1269.2 452.4,1270.3 450.4,1271.3 448.4,1272.4 446.4,1273.5 444.4,1274.5 442.4,1275.6 440.4,1276.5 438.4,1277.3 436.4,1278.2 434.4,1279.1 432.4,1279.9 430.4,1280.8 428.4,1281.7 426.4,1282.5 424.4,1283.4 422.4,1284.3 420.4,1285.1 418.4,1286.0 416.4,1286.9 414.4,1287.7 412.4,1288.6 410.4,1289.5 408.4,1290.4 406.4,1291.2 404.4,1292.1 402.4,1293.0 400.4,1293.9 398.4,1294.7 396.4,1295.3 394.4,1295.9 392.4,1296.5 390.4,1297.2 388.4,1297.8 386.4,1298.4 384.4,1299.0 382.4,1299.6 380.4,1300.2 378.4,1300.8 376.4,1301.4" fill="url(#gl6)"/>
<polygon points="376.4,1300.8 378.4,1300.2 380.4,1299.5 382.4,1298.9 384.4,1298.3 386.4,1297.7 388.4,1297.0 390.4,1296.4 392.4,1295.8 394.4,1295.1 396.4,1294.5 398.4,1293.9 400.4,1293.0 402.4,1292.1 404.4,1291.1 406.4,1290.2 408.4,1289.3 410.4,1288.4 412.4,1287.5 414.4,1286.5 416.4,1285.6 418.4,1284.7 420.4,1283.8 422.4,1282.9 424.4,1282.0 426.4,1281.0 428.4,1280.1 430.4,1279.2 432.4,1278.3 434.4,1277.4 436.4,1276.5 438.4,1275.6 440.4,1274.7 442.4,1273.8 444.4,1272.7 446.4,1271.6 448.4,1270.5 450.4,1269.5 452.4,1268.4 454.4,1267.3 456.4,1266.2 458.4,1265.1 460.4,1264.0 462.4,1262.9 464.4,1261.8 466.4,1260.8 468.4,1259.7 470.4,1258.6 472.4,1257.5 474.4,1256.4 476.4,1255.4 478.4,1254.3 480.4,1253.2 482.4,1252.1 484.4,1251.1 486.4,1250.0 488.4,1248.8 490.4,1247.5 492.4,1246.3 494.4,1245.0 496.4,1243.7 498.4,1242.4 500.4,1241.1 502.4,1239.8 504.4,1238.5 506.4,1237.2 508.4,1235.8 510.4,1234.4 512.4,1232.9 514.4,1239.4 516.4,1237.8 518.4,1236.2 520.4,1234.6 522.4,1232.9 524.4,1231.3 526.4,1229.7 528.4,1228.0 530.4,1226.4 532.4,1224.8 534.4,1223.2 536.4,1221.6 538.4,1220.1 540.4,1218.5 542.4,1216.9 544.4,1215.4 546.4,1213.8 548.4,1212.2 550.4,1210.7 552.4,1209.1 554.4,1207.5 556.4,1205.9 558.4,1204.4 560.4,1202.8 562.4,1201.2 564.4,1199.6 566.4,1198.0 568.4,1196.4 570.4,1194.8 572.4,1193.2 574.4,1191.7 576.4,1190.1 578.4,1188.5 580.4,1186.9 582.4,1185.1 584.4,1183.4 586.4,1181.6 588.4,1179.9 590.4,1178.1 592.4,1176.4 594.4,1174.6 596.4,1172.9 598.4,1171.1 600.4,1169.4 602.4,1167.7 604.4,1165.9 606.4,1164.2 608.4,1162.5 610.4,1160.8 612.4,1159.1 614.4,1157.4 616.4,1155.7 618.4,1154.0 624.4,1148.9 632.4,1142.0 640.4,1135.2 648.4,1128.4 656.4,1121.5 664.4,1114.7 672.4,1107.8 680.4,1100.9 688.4,1094.0 696.4,1087.1 704.4,1080.2 712.4,1073.3 720.4,1066.5 728.4,1059.6 736.4,1052.8 744.4,1045.9 752.4,1039.1 760.4,1032.2 768.4,1025.4 776.4,1018.5 784.4,1011.7 792.4,1004.8 800.4,998.0 808.4,991.2 816.4,984.4 824.4,977.5 832.4,970.7 840.4,963.9 848.4,957.2 856.4,950.4 864.4,943.6 872.4,936.8 880.4,930.0 888.4,923.2 896.4,916.4 904.4,909.6 912.4,902.8 920.4,896.0 928.4,889.2 936.4,882.4 944.4,875.5 952.4,868.7 960.4,862.0 968.4,855.3 976.4,848.6 984.4,841.8 992.4,835.1 1000.4,828.4 1008.4,821.6 1016.4,814.8 1024.4,808.1 1032.4,801.3 1040.4,794.5 1048.4,787.9 1056.4,781.5 1064.4,775.2 1072.4,768.8 1080.4,762.7 1088.4,756.7 1096.4,750.7 1104.4,744.5 1112.4,738.1 1120.4,731.7 1128.4,725.3 1136.4,718.9 1144.4,712.5 1152.4,706.1 1160.4,699.5 1168.4,692.9 1176.4,686.4 1184.4,679.8 1192.4,673.2 1200.4,666.6 1208.4,660.3 1216.4,653.9 1224.4,647.5 1232.4,641.1 1240.4,634.7 1248.4,628.1 1256.4,621.5 1264.4,614.9 1272.4,608.3 1280.4,601.7 1288.4,595.1 1296.4,588.4 1304.4,581.7 1312.4,574.9 1320.4,568.1 1328.4,561.3 1336.4,554.5 1344.4,547.7 1352.4,540.9 1360.4,534.1 1368.4,527.3 1376.4,520.4 1384.4,513.6 1392.4,506.7 1400.4,499.9 1408.4,493.3 1416.4,486.6 1424.4,480.0 1432.4,473.3 1440.4,466.7 1448.4,460.1 1456.4,453.4 1464.4,446.8 1472.4,440.1 1480.4,433.5 1488.4,426.9 1496.4,420.2 1504.4,413.6 1512.4,406.9 1520.4,400.2 1528.4,393.6 1536.4,386.9 1544.4,380.2 1552.4,373.6 1560.4,366.9 1568.4,360.3 1576.4,353.6 1584.4,346.9 1592.4,340.3 1600.4,333.6 1608.4,326.8 1616.4,320.0 1624.4,313.2 1632.4,306.4 1640.4,299.6 1648.4,292.8 1656.4,285.9 1664.4,278.9 1672.4,272.0 1680.4,265.0 1688.4,258.0 1696.4,251.1 1704.4,244.1 1712.4,237.2 1720.4,230.3 1728.4,223.4 1736.4,216.4 1744.4,209.5 1752.4,202.8 1760.4,196.2 1768.4,189.6 1776.4,183.0 1784.4,176.6 1792.4,170.4 1800.4,164.2 1808.4,157.8 1816.4,151.4 1824.4,145.0 1832.4,138.6 1840.4,132.2 1848.4,125.7 1856.4,119.3 1864.4,112.8 1867.0,110.7 1867.0,117.0 1864.4,119.1 1856.4,125.7 1848.4,132.4 1840.4,139.0 1832.4,145.6 1824.4,152.2 1816.4,158.8 1808.4,165.4 1800.4,172.0 1792.4,178.6 1784.4,185.3 1776.4,192.0 1768.4,198.7 1760.4,205.3 1752.4,212.0 1744.4,218.7 1736.4,225.4 1728.4,232.1 1720.4,238.7 1712.4,245.4 1704.4,252.1 1696.4,258.8 1688.4,265.4 1680.4,272.1 1672.4,278.8 1664.4,285.5 1656.4,292.1 1648.4,298.8 1640.4,305.5 1632.4,312.2 1624.4,318.8 1616.4,325.5 1608.4,332.2 1600.4,338.9 1592.4,345.5 1584.4,352.2 1576.4,358.9 1568.4,365.6 1560.4,372.2 1552.4,378.9 1544.4,385.6 1536.4,392.3 1528.4,398.9 1520.4,405.6 1512.4,412.3 1504.4,419.0 1496.4,425.6 1488.4,432.3 1480.4,439.0 1472.4,445.7 1464.4,452.3 1456.4,459.0 1448.4,465.7 1440.4,472.4 1432.4,479.0 1424.4,485.7 1416.4,492.4 1408.4,499.1 1400.4,505.7 1392.4,512.4 1384.4,519.1 1376.4,525.8 1368.4,532.4 1360.4,539.1 1352.4,545.8 1344.4,552.5 1336.4,559.1 1328.4,565.8 1320.4,572.5 1312.4,579.2 1304.4,585.8 1296.4,592.5 1288.4,599.2 1280.4,605.9 1272.4,612.5 1264.4,619.2 1256.4,625.9 1248.4,632.6 1240.4,639.2 1232.4,645.9 1224.4,652.6 1216.4,659.3 1208.4,665.9 1200.4,672.6 1192.4,679.3 1184.4,686.0 1176.4,692.6 1168.4,699.3 1160.4,706.0 1152.4,712.7 1144.4,719.3 1136.4,726.0 1128.4,732.7 1120.4,739.4 1112.4,746.1 1104.4,752.7 1096.4,759.4 1088.4,766.1 1080.4,772.8 1072.4,779.4 1064.4,786.1 1056.4,792.8 1048.4,799.5 1040.4,806.1 1032.4,812.8 1024.4,819.5 1016.4,826.2 1008.4,832.8 1000.4,839.5 992.4,846.2 984.4,852.9 976.4,859.5 968.4,866.2 960.4,872.9 952.4,879.6 944.4,886.2 936.4,892.9 928.4,899.6 920.4,906.3 912.4,912.9 904.4,919.6 896.4,926.3 888.4,933.0 880.4,939.6 872.4,946.3 864.4,953.0 856.4,959.7 848.4,966.3 840.4,973.0 832.4,979.7 824.4,986.4 816.4,993.0 808.4,999.7 800.4,1006.4 792.4,1013.1 784.4,1019.7 776.4,1026.4 768.4,1033.1 760.4,1039.8 752.4,1046.4 744.4,1053.1 736.4,1059.8 728.4,1066.5 720.4,1073.1 712.4,1079.8 704.4,1086.5 696.4,1093.2 688.4,1099.8 680.4,1106.5 672.4,1113.2 664.4,1119.9 656.4,1126.5 648.4,1133.2 640.4,1139.9 632.4,1146.6 624.4,1153.2 618.4,1158.3 616.4,1159.9 614.4,1161.6 612.4,1163.3 610.4,1164.9 608.4,1166.6 606.4,1168.3 604.4,1169.9 602.4,1171.6 600.4,1173.3 598.4,1174.9 596.4,1176.6 594.4,1178.3 592.4,1179.9 590.4,1181.6 588.4,1183.3 586.4,1185.0 584.4,1186.6 582.4,1188.3 580.4,1190.0 578.4,1191.6 576.4,1193.3 574.4,1195.0 572.4,1196.6 570.4,1198.3 568.4,1200.0 566.4,1201.6 564.4,1203.3 562.4,1205.0 560.4,1206.6 558.4,1208.3 556.4,1210.0 554.4,1211.7 552.4,1213.3 550.4,1215.0 548.4,1216.7 546.4,1218.3 544.4,1220.0 542.4,1221.7 540.4,1223.3 538.4,1225.0 536.4,1226.7 534.4,1228.3 532.4,1230.0 530.4,1231.7 528.4,1233.3 526.4,1235.0 524.4,1236.7 522.4,1238.4 520.4,1240.0 518.4,1241.7 516.4,1243.4 514.4,1245.0 512.4,1235.0 510.4,1236.5 508.4,1237.9 506.4,1239.3 504.4,1240.7 502.4,1241.9 500.4,1243.2 498.4,1244.5 496.4,1245.7 494.4,1247.0 492.4,1248.3 490.4,1249.5 488.4,1250.8 486.4,1252.0 484.4,1253.0 482.4,1254.1 480.4,1255.2 478.4,1256.3 476.4,1257.4 474.4,1258.5 472.4,1259.5 470.4,1260.6 468.4,1261.7 466.4,1262.8 464.4,1263.9 462.4,1264.9 460.4,1266.0 458.4,1267.1 456.4,1268.1 454.4,1269.2 452.4,1270.3 450.4,1271.3 448.4,1272.4 446.4,1273.5 444.4,1274.5 442.4,1275.6 440.4,1276.5 438.4,1277.3 436.4,1278.2 434.4,1279.1 432.4,1279.9 430.4,1280.8 428.4,1281.7 426.4,1282.5 424.4,1283.4 422.4,1284.3 420.4,1285.1 418.4,1286.0 416.4,1286.9 414.4,1287.7 412.4,1288.6 410.4,1289.5 408.4,1290.4 406.4,1291.2 404.4,1292.1 402.4,1293.0 400.4,1293.9 398.4,1294.7 396.4,1295.3 394.4,1295.9 392.4,1296.5 390.4,1297.2 388.4,1297.8 386.4,1298.4 384.4,1299.0 382.4,1299.6 380.4,1300.2 378.4,1300.8 376.4,1301.4" fill="url(#gu7)"/>
<polygon points="376.4,1302.1 378.4,1301.5 380.4,1300.9 382.4,1300.3 384.4,1299.7 386.4,1299.1 388.4,1298.5 390.4,1297.9 392.4,1297.3 394.4,1296.7 396.4,1296.1 398.4,1295.5 400.4,1294.7 402.4,1293.9 404.4,1293.1 406.4,1292.3 408.4,1291.4 410.4,1290.6 412.4,1289.8 414.4,1289.0 416.4,1288.1 418.4,1287.3 420.4,1286.5 422.4,1285.7 424.4,1284.8 426.4,1284.0 428.4,1283.2 430.4,1282.3 432.4,1281.5 434.4,1280.7 436.4,1279.9 438.4,1279.0 440.4,1278.2 442.4,1277.4 444.4,1276.4 446.4,1275.3 448.4,1274.3 450.4,1273.2 452.4,1272.2 454.4,1271.1 456.4,1270.1 458.4,1269.0 460.4,1268.0 462.4,1267.0 464.4,1265.9 466.4,1264.8 468.4,1263.7 470.4,1262.6 472.4,1261.6 474.4,1260.5 476.4,1259.4 478.4,1258.3 480.4,1257.2 482.4,1256.1 484.4,1255.0 486.4,1253.9 488.4,1252.8 490.4,1251.5 492.4,1250.3 494.4,1249.0 496.4,1247.8 498.4,1246.6 500.4,1245.3 502.4,1244.1 504.4,1242.8 506.4,1241.5 508.4,1240.1 510.4,1238.6 512.4,1237.2 514.4,1245.0 516.4,1243.4 518.4,1241.7 520.4,1240.0 522.4,1238.4 524.4,1236.7 526.4,1235.0 528.4,1233.3 530.4,1231.7 532.4,1230.0 534.4,1228.3 536.4,1226.7 538.4,1225.0 540.4,1223.3 542.4,1221.7 544.4,1220.0 546.4,1218.3 548.4,1216.7 550.4,1215.0 552.4,1213.3 554.4,1211.7 556.4,1210.0 558.4,1208.3 560.4,1206.6 562.4,1205.0 564.4,1203.3 566.4,1201.6 568.4,1200.0 570.4,1198.3 572.4,1196.6 574.4,1195.0 576.4,1193.3 578.4,1191.6 580.4,1190.0 582.4,1188.3 584.4,1186.6 586.4,1185.0 588.4,1183.3 590.4,1181.6 592.4,1179.9 594.4,1178.3 596.4,1176.6 598.4,1174.9 600.4,1173.3 602.4,1171.6 604.4,1170.0 606.4,1168.3 608.4,1166.7 610.4,1165.0 612.4,1163.4 614.4,1161.7 616.4,1160.1 618.4,1158.4 624.4,1153.5 632.4,1146.9 640.4,1140.3 648.4,1133.7 656.4,1127.1 664.4,1120.5 672.4,1114.0 680.4,1107.4 688.4,1100.8 696.4,1094.2 704.4,1087.6 712.4,1081.0 720.4,1074.4 728.4,1067.8 736.4,1061.2 744.4,1054.6 752.4,1048.0 760.4,1041.4 768.4,1034.9 776.4,1028.3 784.4,1021.7 792.4,1015.1 800.4,1008.5 808.4,1001.9 816.4,995.2 824.4,988.6 832.4,982.0 840.4,975.4 848.4,968.7 856.4,962.1 864.4,955.5 872.4,948.8 880.4,942.2 888.4,935.6 896.4,929.0 904.4,922.3 912.4,915.7 920.4,909.1 928.4,902.5 936.4,895.9 944.4,889.3 952.4,882.6 960.4,876.0 968.4,869.4 976.4,862.8 984.4,856.2 992.4,849.6 1000.4,843.0 1008.4,836.3 1016.4,829.6 1024.4,823.0 1032.4,816.3 1040.4,809.6 1048.4,803.0 1056.4,796.3 1064.4,789.6 1072.4,783.0 1080.4,776.3 1088.4,769.7 1096.4,763.0 1104.4,756.4 1112.4,749.8 1120.4,743.3 1128.4,736.7 1136.4,730.2 1144.4,723.6 1152.4,717.1 1160.4,710.5 1168.4,703.9 1176.4,697.4 1184.4,690.8 1192.4,684.3 1200.4,677.7 1208.4,670.8 1216.4,663.9 1224.4,657.1 1232.4,650.2 1240.4,643.3 1248.4,636.8 1256.4,630.3 1264.4,623.8 1272.4,617.2 1280.4,610.7 1288.4,604.2 1296.4,597.7 1304.4,591.1 1312.4,584.5 1320.4,577.8 1328.4,571.1 1336.4,564.5 1344.4,557.8 1352.4,551.2 1360.4,544.5 1368.4,537.9 1376.4,531.2 1384.4,524.6 1392.4,517.9 1400.4,511.3 1408.4,504.5 1416.4,497.8 1424.4,491.1 1432.4,484.3 1440.4,477.6 1448.4,470.9 1456.4,464.1 1464.4,457.4 1472.4,450.7 1480.4,443.9 1488.4,437.2 1496.4,430.5 1504.4,423.8 1512.4,417.1 1520.4,410.5 1528.4,403.8 1536.4,397.2 1544.4,390.5 1552.4,383.9 1560.4,377.2 1568.4,370.6 1576.4,364.0 1584.4,357.3 1592.4,350.7 1600.4,344.0 1608.4,337.4 1616.4,330.7 1624.4,324.1 1632.4,317.5 1640.4,310.8 1648.4,304.2 1656.4,297.7 1664.4,291.3 1672.4,284.8 1680.4,278.4 1688.4,271.9 1696.4,265.5 1704.4,258.8 1712.4,251.8 1720.4,244.9 1728.4,238.0 1736.4,231.0 1744.4,223.6 1752.4,216.4 1760.4,209.6 1768.4,202.7 1776.4,195.9 1784.4,189.2 1792.4,182.7 1800.4,176.2 1808.4,169.7 1816.4,163.2 1824.4,156.7 1832.4,150.2 1840.4,143.6 1848.4,137.1 1856.4,130.5 1864.4,123.9 1867.0,121.8 1867.0,117.0 1864.4,119.1 1856.4,125.7 1848.4,132.4 1840.4,139.0 1832.4,145.6 1824.4,152.2 1816.4,158.8 1808.4,165.4 1800.4,172.0 1792.4,178.6 1784.4,185.3 1776.4,192.0 1768.4,198.7 1760.4,205.3 1752.4,212.0 1744.4,218.7 1736.4,225.4 1728.4,232.1 1720.4,238.7 1712.4,245.4 1704.4,252.1 1696.4,258.8 1688.4,265.4 1680.4,272.1 1672.4,278.8 1664.4,285.5 1656.4,292.1 1648.4,298.8 1640.4,305.5 1632.4,312.2 1624.4,318.8 1616.4,325.5 1608.4,332.2 1600.4,338.9 1592.4,345.5 1584.4,352.2 1576.4,358.9 1568.4,365.6 1560.4,372.2 1552.4,378.9 1544.4,385.6 1536.4,392.3 1528.4,398.9 1520.4,405.6 1512.4,412.3 1504.4,419.0 1496.4,425.6 1488.4,432.3 1480.4,439.0 1472.4,445.7 1464.4,452.3 1456.4,459.0 1448.4,465.7 1440.4,472.4 1432.4,479.0 1424.4,485.7 1416.4,492.4 1408.4,499.1 1400.4,505.7 1392.4,512.4 1384.4,519.1 1376.4,525.8 1368.4,532.4 1360.4,539.1 1352.4,545.8 1344.4,552.5 1336.4,559.1 1328.4,565.8 1320.4,572.5 1312.4,579.2 1304.4,585.8 1296.4,592.5 1288.4,599.2 1280.4,605.9 1272.4,612.5 1264.4,619.2 1256.4,625.9 1248.4,632.6 1240.4,639.2 1232.4,645.9 1224.4,652.6 1216.4,659.3 1208.4,665.9 1200.4,672.6 1192.4,679.3 1184.4,686.0 1176.4,692.6 1168.4,699.3 1160.4,706.0 1152.4,712.7 1144.4,719.3 1136.4,726.0 1128.4,732.7 1120.4,739.4 1112.4,746.1 1104.4,752.7 1096.4,759.4 1088.4,766.1 1080.4,772.8 1072.4,779.4 1064.4,786.1 1056.4,792.8 1048.4,799.5 1040.4,806.1 1032.4,812.8 1024.4,819.5 1016.4,826.2 1008.4,832.8 1000.4,839.5 992.4,846.2 984.4,852.9 976.4,859.5 968.4,866.2 960.4,872.9 952.4,879.6 944.4,886.2 936.4,892.9 928.4,899.6 920.4,906.3 912.4,912.9 904.4,919.6 896.4,926.3 888.4,933.0 880.4,939.6 872.4,946.3 864.4,953.0 856.4,959.7 848.4,966.3 840.4,973.0 832.4,979.7 824.4,986.4 816.4,993.0 808.4,999.7 800.4,1006.4 792.4,1013.1 784.4,1019.7 776.4,1026.4 768.4,1033.1 760.4,1039.8 752.4,1046.4 744.4,1053.1 736.4,1059.8 728.4,1066.5 720.4,1073.1 712.4,1079.8 704.4,1086.5 696.4,1093.2 688.4,1099.8 680.4,1106.5 672.4,1113.2 664.4,1119.9 656.4,1126.5 648.4,1133.2 640.4,1139.9 632.4,1146.6 624.4,1153.2 618.4,1158.3 616.4,1159.9 614.4,1161.6 612.4,1163.3 610.4,1164.9 608.4,1166.6 606.4,1168.3 604.4,1169.9 602.4,1171.6 600.4,1173.3 598.4,1174.9 596.4,1176.6 594.4,1178.3 592.4,1179.9 590.4,1181.6 588.4,1183.3 586.4,1185.0 584.4,1186.6 582.4,1188.3 580.4,1190.0 578.4,1191.6 576.4,1193.3 574.4,1195.0 572.4,1196.6 570.4,1198.3 568.4,1200.0 566.4,1201.6 564.4,1203.3 562.4,1205.0 560.4,1206.6 558.4,1208.3 556.4,1210.0 554.4,1211.7 552.4,1213.3 550.4,1215.0 548.4,1216.7 546.4,1218.3 544.4,1220.0 542.4,1221.7 540.4,1223.3 538.4,1225.0 536.4,1226.7 534.4,1228.3 532.4,1230.0 530.4,1231.7 528.4,1233.3 526.4,1235.0 524.4,1236.7 522.4,1238.4 520.4,1240.0 518.4,1241.7 516.4,1243.4 514.4,1245.0 512.4,1235.0 510.4,1236.5 508.4,1237.9 506.4,1239.3 504.4,1240.7 502.4,1241.9 500.4,1243.2 498.4,1244.5 496.4,1245.7 494.4,1247.0 492.4,1248.3 490.4,1249.5 488.4,1250.8 486.4,1252.0 484.4,1253.0 482.4,1254.1 480.4,1255.2 478.4,1256.3 476.4,1257.4 474.4,1258.5 472.4,1259.5 470.4,1260.6 468.4,1261.7 466.4,1262.8 464.4,1263.9 462.4,1264.9 460.4,1266.0 458.4,1267.1 456.4,1268.1 454.4,1269.2 452.4,1270.3 450.4,1271.3 448.4,1272.4 446.4,1273.5 444.4,1274.5 442.4,1275.6 440.4,1276.5 438.4,1277.3 436.4,1278.2 434.4,1279.1 432.4,1279.9 430.4,1280.8 428.4,1281.7 426.4,1282.5 424.4,1283.4 422.4,1284.3 420.4,1285.1 418.4,1286.0 416.4,1286.9 414.4,1287.7 412.4,1288.6 410.4,1289.5 408.4,1290.4 406.4,1291.2 404.4,1292.1 402.4,1293.0 400.4,1293.9 398.4,1294.7 396.4,1295.3 394.4,1295.9 392.4,1296.5 390.4,1297.2 388.4,1297.8 386.4,1298.4 384.4,1299.0 382.4,1299.6 380.4,1300.2 378.4,1300.8 376.4,1301.4" fill="url(#gl7)"/>
<polygon points="376.4,1301.0 378.4,1300.4 380.4,1299.8 382.4,1299.1 384.4,1298.5 386.4,1297.9 388.4,1297.3 390.4,1296.7 392.4,1296.0 394.4,1295.4 396.4,1294.8 398.4,1294.2 400.4,1293.3 402.4,1292.4 404.4,1291.5 406.4,1290.6 408.4,1289.7 410.4,1288.8 412.4,1287.8 414.4,1286.9 416.4,1286.0 418.4,1285.1 420.4,1284.2 422.4,1283.3 424.4,1282.4 426.4,1281.5 428.4,1280.6 430.4,1279.8 432.4,1278.9 434.4,1278.0 436.4,1277.1 438.4,1276.2 440.4,1275.3 442.4,1274.4 444.4,1273.3 446.4,1272.2 448.4,1271.2 450.4,1270.1 452.4,1269.0 454.4,1267.9 456.4,1266.8 458.4,1265.8 460.4,1264.7 462.4,1263.6 464.4,1262.5 466.4,1261.4 468.4,1260.4 470.4,1259.3 472.4,1258.2 474.4,1257.1 476.4,1256.0 478.4,1255.0 480.4,1253.9 482.4,1252.8 484.4,1251.7 486.4,1250.6 488.4,1249.5 490.4,1248.2 492.4,1246.9 494.4,1245.6 496.4,1244.4 498.4,1243.1 500.4,1241.8 502.4,1240.5 504.4,1239.2 506.4,1237.9 508.4,1236.5 510.4,1235.1 512.4,1233.6 514.4,1241.3 516.4,1239.7 518.4,1238.0 520.4,1236.4 522.4,1234.7 524.4,1233.1 526.4,1231.5 528.4,1229.8 530.4,1228.2 532.4,1226.5 534.4,1224.9 536.4,1223.3 538.4,1221.7 540.4,1220.1 542.4,1218.5 544.4,1216.9 546.4,1215.3 548.4,1213.7 550.4,1212.1 552.4,1210.5 554.4,1208.9 556.4,1207.3 558.4,1205.7 560.4,1204.1 562.4,1202.4 564.4,1200.8 566.4,1199.2 568.4,1197.6 570.4,1196.0 572.4,1194.4 574.4,1192.8 576.4,1191.1 578.4,1189.5 580.4,1187.9 582.4,1186.2 584.4,1184.4 586.4,1182.7 588.4,1181.0 590.4,1179.3 592.4,1177.6 594.4,1175.8 596.4,1174.1 598.4,1172.4 600.4,1170.7 602.4,1169.0 604.4,1167.3 606.4,1165.6 608.4,1163.9 610.4,1162.2 612.4,1160.5 614.4,1158.8 616.4,1157.1 618.4,1155.4 624.4,1150.3 632.4,1143.5 640.4,1136.8 648.4,1130.0 656.4,1123.2 664.4,1116.4 672.4,1109.6 680.4,1102.8 688.4,1095.9 696.4,1089.1 704.4,1082.3 712.4,1075.5 720.4,1068.7 728.4,1061.9 736.4,1055.1 744.4,1048.3 752.4,1041.5 760.4,1034.7 768.4,1027.9 776.4,1021.2 784.4,1014.4 792.4,1007.6 800.4,1000.8 808.4,994.0 816.4,987.3 824.4,980.5 832.4,973.7 840.4,967.0 848.4,960.2 856.4,953.5 864.4,946.7 872.4,940.0 880.4,933.2 888.4,926.5 896.4,919.7 904.4,913.0 912.4,906.2 920.4,899.4 928.4,892.6 936.4,885.9 944.4,879.1 952.4,872.3 960.4,865.6 968.4,858.9 976.4,852.2 984.4,845.5 992.4,838.8 1000.4,832.1 1008.4,825.4 1016.4,818.6 1024.4,811.9 1032.4,805.1 1040.4,798.4 1048.4,791.7 1056.4,785.3 1064.4,778.8 1072.4,772.4 1080.4,766.1 1088.4,759.8 1096.4,753.6 1104.4,747.2 1112.4,740.7 1120.4,734.3 1128.4,727.8 1136.4,721.3 1144.4,714.8 1152.4,708.3 1160.4,701.7 1168.4,695.1 1176.4,688.5 1184.4,681.8 1192.4,675.2 1200.4,668.6 1208.4,662.2 1216.4,655.7 1224.4,649.2 1232.4,642.7 1240.4,636.2 1248.4,629.6 1256.4,623.0 1264.4,616.3 1272.4,609.7 1280.4,603.1 1288.4,596.4 1296.4,589.8 1304.4,583.1 1312.4,576.3 1320.4,569.6 1328.4,562.8 1336.4,556.1 1344.4,549.3 1352.4,542.6 1360.4,535.8 1368.4,529.0 1376.4,522.2 1384.4,515.4 1392.4,508.6 1400.4,501.8 1408.4,495.2 1416.4,488.5 1424.4,481.9 1432.4,475.2 1440.4,468.6 1448.4,461.9 1456.4,455.3 1464.4,448.6 1472.4,442.0 1480.4,435.3 1488.4,428.7 1496.4,422.0 1504.4,415.4 1512.4,408.7 1520.4,402.0 1528.4,395.4 1536.4,388.7 1544.4,382.0 1552.4,375.4 1560.4,368.7 1568.4,362.0 1576.4,355.4 1584.4,348.7 1592.4,342.0 1600.4,335.4 1608.4,328.6 1616.4,321.8 1624.4,315.1 1632.4,308.3 1640.4,301.6 1648.4,294.8 1656.4,288.0 1664.4,281.1 1672.4,274.2 1680.4,267.4 1688.4,260.5 1696.4,253.6 1704.4,246.8 1712.4,239.9 1720.4,233.1 1728.4,226.3 1736.4,219.4 1744.4,212.6 1752.4,205.9 1760.4,199.2 1768.4,192.6 1776.4,186.0 1784.4,179.5 1792.4,173.1 1800.4,166.8 1808.4,160.3 1816.4,153.9 1824.4,147.4 1832.4,141.0 1840.4,134.4 1848.4,127.9 1856.4,121.4 1864.4,114.9 1867.0,112.8 1867.0,117.0 1864.4,119.1 1856.4,125.7 1848.4,132.4 1840.4,139.0 1832.4,145.6 1824.4,152.2 1816.4,158.8 1808.4,165.4 1800.4,172.0 1792.4,178.6 1784.4,185.3 1776.4,192.0 1768.4,198.7 1760.4,205.3 1752.4,212.0 1744.4,218.7 1736.4,225.4 1728.4,232.1 1720.4,238.7 1712.4,245.4 1704.4,252.1 1696.4,258.8 1688.4,265.4 1680.4,272.1 1672.4,278.8 1664.4,285.5 1656.4,292.1 1648.4,298.8 1640.4,305.5 1632.4,312.2 1624.4,318.8 1616.4,325.5 1608.4,332.2 1600.4,338.9 1592.4,345.5 1584.4,352.2 1576.4,358.9 1568.4,365.6 1560.4,372.2 1552.4,378.9 1544.4,385.6 1536.4,392.3 1528.4,398.9 1520.4,405.6 1512.4,412.3 1504.4,419.0 1496.4,425.6 1488.4,432.3 1480.4,439.0 1472.4,445.7 1464.4,452.3 1456.4,459.0 1448.4,465.7 1440.4,472.4 1432.4,479.0 1424.4,485.7 1416.4,492.4 1408.4,499.1 1400.4,505.7 1392.4,512.4 1384.4,519.1 1376.4,525.8 1368.4,532.4 1360.4,539.1 1352.4,545.8 1344.4,552.5 1336.4,559.1 1328.4,565.8 1320.4,572.5 1312.4,579.2 1304.4,585.8 1296.4,592.5 1288.4,599.2 1280.4,605.9 1272.4,612.5 1264.4,619.2 1256.4,625.9 1248.4,632.6 1240.4,639.2 1232.4,645.9 1224.4,652.6 1216.4,659.3 1208.4,665.9 1200.4,672.6 1192.4,679.3 1184.4,686.0 1176.4,692.6 1168.4,699.3 1160.4,706.0 1152.4,712.7 1144.4,719.3 1136.4,726.0 1128.4,732.7 1120.4,739.4 1112.4,746.1 1104.4,752.7 1096.4,759.4 1088.4,766.1 1080.4,772.8 1072.4,779.4 1064.4,786.1 1056.4,792.8 1048.4,799.5 1040.4,806.1 1032.4,812.8 1024.4,819.5 1016.4,826.2 1008.4,832.8 1000.4,839.5 992.4,846.2 984.4,852.9 976.4,859.5 968.4,866.2 960.4,872.9 952.4,879.6 944.4,886.2 936.4,892.9 928.4,899.6 920.4,906.3 912.4,912.9 904.4,919.6 896.4,926.3 888.4,933.0 880.4,939.6 872.4,946.3 864.4,953.0 856.4,959.7 848.4,966.3 840.4,973.0 832.4,979.7 824.4,986.4 816.4,993.0 808.4,999.7 800.4,1006.4 792.4,1013.1 784.4,1019.7 776.4,1026.4 768.4,1033.1 760.4,1039.8 752.4,1046.4 744.4,1053.1 736.4,1059.8 728.4,1066.5 720.4,1073.1 712.4,1079.8 704.4,1086.5 696.4,1093.2 688.4,1099.8 680.4,1106.5 672.4,1113.2 664.4,1119.9 656.4,1126.5 648.4,1133.2 640.4,1139.9 632.4,1146.6 624.4,1153.2 618.4,1158.3 616.4,1159.9 614.4,1161.6 612.4,1163.3 610.4,1164.9 608.4,1166.6 606.4,1168.3 604.4,1169.9 602.4,1171.6 600.4,1173.3 598.4,1174.9 596.4,1176.6 594.4,1178.3 592.4,1179.9 590.4,1181.6 588.4,1183.3 586.4,1185.0 584.4,1186.6 582.4,1188.3 580.4,1190.0 578.4,1191.6 576.4,1193.3 574.4,1195.0 572.4,1196.6 570.4,1198.3 568.4,1200.0 566.4,1201.6 564.4,1203.3 562.4,1205.0 560.4,1206.6 558.4,1208.3 556.4,1210.0 554.4,1211.7 552.4,1213.3 550.4,1215.0 548.4,1216.7 546.4,1218.3 544.4,1220.0 542.4,1221.7 540.4,1223.3 538.4,1225.0 536.4,1226.7 534.4,1228.3 532.4,1230.0 530.4,1231.7 528.4,1233.3 526.4,1235.0 524.4,1236.7 522.4,1238.4 520.4,1240.0 518.4,1241.7 516.4,1243.4 514.4,1245.0 512.4,1235.0 510.4,1236.5 508.4,1237.9 506.4,1239.3 504.4,1240.7 502.4,1241.9 500.4,1243.2 498.4,1244.5 496.4,1245.7 494.4,1247.0 492.4,1248.3 490.4,1249.5 488.4,1250.8 486.4,1252.0 484.4,1253.0 482.4,1254.1 480.4,1255.2 478.4,1256.3 476.4,1257.4 474.4,1258.5 472.4,1259.5 470.4,1260.6 468.4,1261.7 466.4,1262.8 464.4,1263.9 462.4,1264.9 460.4,1266.0 458.4,1267.1 456.4,1268.1 454.4,1269.2 452.4,1270.3 450.4,1271.3 448.4,1272.4 446.4,1273.5 444.4,1274.5 442.4,1275.6 440.4,1276.5 438.4,1277.3 436.4,1278.2 434.4,1279.1 432.4,1279.9 430.4,1280.8 428.4,1281.7 426.4,1282.5 424.4,1283.4 422.4,1284.3 420.4,1285.1 418.4,1286.0 416.4,1286.9 414.4,1287.7 412.4,1288.6 410.4,1289.5 408.4,1290.4 406.4,1291.2 404.4,1292.1 402.4,1293.0 400.4,1293.9 398.4,1294.7 396.4,1295.3 394.4,1295.9 392.4,1296.5 390.4,1297.2 388.4,1297.8 386.4,1298.4 384.4,1299.0 382.4,1299.6 380.4,1300.2 378.4,1300.8 376.4,1301.4" fill="url(#gu8)"/>
<polygon points="376.4,1301.9 378.4,1301.3 380.4,1300.7 382.4,1300.1 384.4,1299.5 386.4,1298.9 388.4,1298.3 390.4,1297.7 392.4,1297.1 394.4,1296.5 396.4,1295.9 398.4,1295.3 400.4,1294.4 402.4,1293.6 404.4,1292.8 406.4,1291.9 408.4,1291.1 410.4,1290.2 412.4,1289.4 414.4,1288.6 416.4,1287.7 418.4,1286.9 420.4,1286.0 422.4,1285.2 424.4,1284.4 426.4,1283.5 428.4,1282.7 430.4,1281.8 432.4,1281.0 434.4,1280.1 436.4,1279.3 438.4,1278.5 440.4,1277.6 442.4,1276.8 444.4,1275.8 446.4,1274.7 448.4,1273.6 450.4,1272.6 452.4,1271.5 454.4,1270.5 456.4,1269.4 458.4,1268.4 460.4,1267.3 462.4,1266.3 464.4,1265.2 466.4,1264.2 468.4,1263.1 470.4,1262.0 472.4,1260.9 474.4,1259.8 476.4,1258.7 478.4,1257.6 480.4,1256.5 482.4,1255.4 484.4,1254.4 486.4,1253.3 488.4,1252.1 490.4,1250.9 492.4,1249.6 494.4,1248.4 496.4,1247.1 498.4,1245.9 500.4,1244.6 502.4,1243.4 504.4,1242.1 506.4,1240.8 508.4,1239.3 510.4,1237.9 512.4,1236.5 514.4,1245.0 516.4,1243.4 518.4,1241.7 520.4,1240.0 522.4,1238.4 524.4,1236.7 526.4,1235.0 528.4,1233.3 530.4,1231.7 532.4,1230.0 534.4,1228.3 536.4,1226.7 538.4,1225.0 540.4,1223.3 542.4,1221.7 544.4,1220.0 546.4,1218.3 548.4,1216.7 550.4,1215.0 552.4,1213.3 554.4,1211.7 556.4,1210.0 558.4,1208.3 560.4,1206.6 562.4,1205.0 564.4,1203.3 566.4,1201.6 568.4,1200.0 570.4,1198.3 572.4,1196.6 574.4,1195.0 576.4,1193.3 578.4,1191.6 580.4,1190.0 582.4,1188.3 584.4,1186.6 586.4,1185.0 588.4,1183.3 590.4,1181.6 592.4,1179.9 594.4,1178.3 596.4,1176.6 598.4,1174.9 600.4,1173.3 602.4,1171.6 604.4,1170.0 606.4,1168.3 608.4,1166.7 610.4,1165.0 612.4,1163.3 614.4,1161.7 616.4,1160.0 618.4,1158.4 624.4,1153.4 632.4,1146.8 640.4,1140.2 648.4,1133.6 656.4,1126.9 664.4,1120.3 672.4,1113.7 680.4,1107.1 688.4,1100.5 696.4,1093.8 704.4,1087.2 712.4,1080.6 720.4,1074.0 728.4,1067.4 736.4,1060.7 744.4,1054.1 752.4,1047.5 760.4,1040.9 768.4,1034.3 776.4,1027.6 784.4,1021.0 792.4,1014.4 800.4,1007.8 808.4,1001.1 816.4,994.5 824.4,987.9 832.4,981.2 840.4,974.6 848.4,967.9 856.4,961.3 864.4,954.6 872.4,948.0 880.4,941.4 888.4,934.7 896.4,928.1 904.4,921.4 912.4,914.8 920.4,908.2 928.4,901.5 936.4,894.9 944.4,888.3 952.4,881.6 960.4,875.0 968.4,868.3 976.4,861.7 984.4,855.1 992.4,848.4 1000.4,841.8 1008.4,835.1 1016.4,828.5 1024.4,821.8 1032.4,815.1 1040.4,808.5 1048.4,801.8 1056.4,795.1 1064.4,788.5 1072.4,781.8 1080.4,775.1 1088.4,768.5 1096.4,761.8 1104.4,755.2 1112.4,748.6 1120.4,742.0 1128.4,735.4 1136.4,728.8 1144.4,722.2 1152.4,715.6 1160.4,709.0 1168.4,702.4 1176.4,695.8 1184.4,689.2 1192.4,682.6 1200.4,676.0 1208.4,669.2 1216.4,662.4 1224.4,655.6 1232.4,648.8 1240.4,642.0 1248.4,635.4 1256.4,628.8 1264.4,622.2 1272.4,615.7 1280.4,609.1 1288.4,602.5 1296.4,596.0 1304.4,589.4 1312.4,582.7 1320.4,576.0 1328.4,569.4 1336.4,562.7 1344.4,556.0 1352.4,549.4 1360.4,542.7 1368.4,536.1 1376.4,529.4 1384.4,522.7 1392.4,516.1 1400.4,509.4 1408.4,502.7 1416.4,496.0 1424.4,489.3 1432.4,482.6 1440.4,475.8 1448.4,469.1 1456.4,462.4 1464.4,455.7 1472.4,449.0 1480.4,442.3 1488.4,435.6 1496.4,428.9 1504.4,422.2 1512.4,415.5 1520.4,408.9 1528.4,402.2 1536.4,395.5 1544.4,388.9 1552.4,382.2 1560.4,375.6 1568.4,368.9 1576.4,362.3 1584.4,355.6 1592.4,349.0 1600.4,342.3 1608.4,335.6 1616.4,329.0 1624.4,322.3 1632.4,315.7 1640.4,309.0 1648.4,302.4 1656.4,295.8 1664.4,289.3 1672.4,282.8 1680.4,276.3 1688.4,269.7 1696.4,263.2 1704.4,256.5 1712.4,249.7 1720.4,242.8 1728.4,236.0 1736.4,229.1 1744.4,221.9 1752.4,215.0 1760.4,208.2 1768.4,201.4 1776.4,194.6 1784.4,187.9 1792.4,181.3 1800.4,174.8 1808.4,168.2 1816.4,161.7 1824.4,155.2 1832.4,148.7 1840.4,142.1 1848.4,135.5 1856.4,128.9 1864.4,122.3 1867.0,120.2 1867.0,117.0 1864.4,119.1 1856.4,125.7 1848.4,132.4 1840.4,139.0 1832.4,145.6 1824.4,152.2 1816.4,158.8 1808.4,165.4 1800.4,172.0 1792.4,178.6 1784.4,185.3 1776.4,192.0 1768.4,198.7 1760.4,205.3 1752.4,212.0 1744.4,218.7 1736.4,225.4 1728.4,232.1 1720.4,238.7 1712.4,245.4 1704.4,252.1 1696.4,258.8 1688.4,265.4 1680.4,272.1 1672.4,278.8 1664.4,285.5 1656.4,292.1 1648.4,298.8 1640.4,305.5 1632.4,312.2 1624.4,318.8 1616.4,325.5 1608.4,332.2 1600.4,338.9 1592.4,345.5 1584.4,352.2 1576.4,358.9 1568.4,365.6 1560.4,372.2 1552.4,378.9 1544.4,385.6 1536.4,392.3 1528.4,398.9 1520.4,405.6 1512.4,412.3 1504.4,419.0 1496.4,425.6 1488.4,432.3 1480.4,439.0 1472.4,445.7 1464.4,452.3 1456.4,459.0 1448.4,465.7 1440.4,472.4 1432.4,479.0 1424.4,485.7 1416.4,492.4 1408.4,499.1 1400.4,505.7 1392.4,512.4 1384.4,519.1 1376.4,525.8 1368.4,532.4 1360.4,539.1 1352.4,545.8 1344.4,552.5 1336.4,559.1 1328.4,565.8 1320.4,572.5 1312.4,579.2 1304.4,585.8 1296.4,592.5 1288.4,599.2 1280.4,605.9 1272.4,612.5 1264.4,619.2 1256.4,625.9 1248.4,632.6 1240.4,639.2 1232.4,645.9 1224.4,652.6 1216.4,659.3 1208.4,665.9 1200.4,672.6 1192.4,679.3 1184.4,686.0 1176.4,692.6 1168.4,699.3 1160.4,706.0 1152.4,712.7 1144.4,719.3 1136.4,726.0 1128.4,732.7 1120.4,739.4 1112.4,746.1 1104.4,752.7 1096.4,759.4 1088.4,766.1 1080.4,772.8 1072.4,779.4 1064.4,786.1 1056.4,792.8 1048.4,799.5 1040.4,806.1 1032.4,812.8 1024.4,819.5 1016.4,826.2 1008.4,832.8 1000.4,839.5 992.4,846.2 984.4,852.9 976.4,859.5 968.4,866.2 960.4,872.9 952.4,879.6 944.4,886.2 936.4,892.9 928.4,899.6 920.4,906.3 912.4,912.9 904.4,919.6 896.4,926.3 888.4,933.0 880.4,939.6 872.4,946.3 864.4,953.0 856.4,959.7 848.4,966.3 840.4,973.0 832.4,979.7 824.4,986.4 816.4,993.0 808.4,999.7 800.4,1006.4 792.4,1013.1 784.4,1019.7 776.4,1026.4 768.4,1033.1 760.4,1039.8 752.4,1046.4 744.4,1053.1 736.4,1059.8 728.4,1066.5 720.4,1073.1 712.4,1079.8 704.4,1086.5 696.4,1093.2 688.4,1099.8 680.4,1106.5 672.4,1113.2 664.4,1119.9 656.4,1126.5 648.4,1133.2 640.4,1139.9 632.4,1146.6 624.4,1153.2 618.4,1158.3 616.4,1159.9 614.4,1161.6 612.4,1163.3 610.4,1164.9 608.4,1166.6 606.4,1168.3 604.4,1169.9 602.4,1171.6 600.4,1173.3 598.4,1174.9 596.4,1176.6 594.4,1178.3 592.4,1179.9 590.4,1181.6 588.4,1183.3 586.4,1185.0 584.4,1186.6 582.4,1188.3 580.4,1190.0 578.4,1191.6 576.4,1193.3 574.4,1195.0 572.4,1196.6 570.4,1198.3 568.4,1200.0 566.4,1201.6 564.4,1203.3 562.4,1205.0 560.4,1206.6 558.4,1208.3 556.4,1210.0 554.4,1211.7 552.4,1213.3 550.4,1215.0 548.4,1216.7 546.4,1218.3 544.4,1220.0 542.4,1221.7 540.4,1223.3 538.4,1225.0 536.4,1226.7 534.4,1228.3 532.4,1230.0 530.4,1231.7 528.4,1233.3 526.4,1235.0 524.4,1236.7 522.4,1238.4 520.4,1240.0 518.4,1241.7 516.4,1243.4 514.4,1245.0 512.4,1235.0 510.4,1236.5 508.4,1237.9 506.4,1239.3 504.4,1240.7 502.4,1241.9 500.4,1243.2 498.4,1244.5 496.4,1245.7 494.4,1247.0 492.4,1248.3 490.4,1249.5 488.4,1250.8 486.4,1252.0 484.4,1253.0 482.4,1254.1 480.4,1255.2 478.4,1256.3 476.4,1257.4 474.4,1258.5 472.4,1259.5 470.4,1260.6 468.4,1261.7 466.4,1262.8 464.4,1263.9 462.4,1264.9 460.4,1266.0 458.4,1267.1 456.4,1268.1 454.4,1269.2 452.4,1270.3 450.4,1271.3 448.4,1272.4 446.4,1273.5 444.4,1274.5 442.4,1275.6 440.4,1276.5 438.4,1277.3 436.4,1278.2 434.4,1279.1 432.4,1279.9 430.4,1280.8 428.4,1281.7 426.4,1282.5 424.4,1283.4 422.4,1284.3 420.4,1285.1 418.4,1286.0 416.4,1286.9 414.4,1287.7 412.4,1288.6 410.4,1289.5 408.4,1290.4 406.4,1291.2 404.4,1292.1 402.4,1293.0 400.4,1293.9 398.4,1294.7 396.4,1295.3 394.4,1295.9 392.4,1296.5 390.4,1297.2 388.4,1297.8 386.4,1298.4 384.4,1299.0 382.4,1299.6 380.4,1300.2 378.4,1300.8 376.4,1301.4" fill="url(#gl8)"/>
<polygon points="376.4,1301.2 378.4,1300.6 380.4,1300.0 382.4,1299.4 384.4,1298.8 386.4,1298.1 388.4,1297.5 390.4,1296.9 392.4,1296.3 394.4,1295.7 396.4,1295.1 398.4,1294.4 400.4,1293.6 402.4,1292.7 404.4,1291.8 406.4,1290.9 408.4,1290.0 410.4,1289.1 412.4,1288.2 414.4,1287.3 416.4,1286.5 418.4,1285.6 420.4,1284.7 422.4,1283.8 424.4,1282.9 426.4,1282.0 428.4,1281.2 430.4,1280.3 432.4,1279.4 434.4,1278.5 436.4,1277.6 438.4,1276.7 440.4,1275.9 442.4,1275.0 444.4,1273.9 446.4,1272.9 448.4,1271.8 450.4,1270.7 452.4,1269.6 454.4,1268.6 456.4,1267.5 458.4,1266.4 460.4,1265.3 462.4,1264.3 464.4,1263.2 466.4,1262.1 468.4,1261.0 470.4,1260.0 472.4,1258.9 474.4,1257.8 476.4,1256.7 478.4,1255.6 480.4,1254.5 482.4,1253.5 484.4,1252.4 486.4,1251.3 488.4,1250.1 490.4,1248.9 492.4,1247.6 494.4,1246.3 496.4,1245.1 498.4,1243.8 500.4,1242.5 502.4,1241.2 504.4,1240.0 506.4,1238.6 508.4,1237.2 510.4,1235.8 512.4,1234.3 514.4,1243.2 516.4,1241.5 518.4,1239.9 520.4,1238.2 522.4,1236.5 524.4,1234.9 526.4,1233.2 528.4,1231.6 530.4,1229.9 532.4,1228.3 534.4,1226.6 536.4,1225.0 538.4,1223.4 540.4,1221.7 542.4,1220.1 544.4,1218.5 546.4,1216.8 548.4,1215.2 550.4,1213.5 552.4,1211.9 554.4,1210.3 556.4,1208.6 558.4,1207.0 560.4,1205.4 562.4,1203.7 564.4,1202.1 566.4,1200.4 568.4,1198.8 570.4,1197.1 572.4,1195.5 574.4,1193.9 576.4,1192.2 578.4,1190.6 580.4,1188.9 582.4,1187.2 584.4,1185.5 586.4,1183.8 588.4,1182.1 590.4,1180.4 592.4,1178.7 594.4,1177.1 596.4,1175.4 598.4,1173.7 600.4,1172.0 602.4,1170.3 604.4,1168.6 606.4,1166.9 608.4,1165.2 610.4,1163.6 612.4,1161.9 614.4,1160.2 616.4,1158.5 618.4,1156.8 624.4,1151.8 632.4,1145.1 640.4,1138.3 648.4,1131.6 656.4,1124.9 664.4,1118.1 672.4,1111.4 680.4,1104.6 688.4,1097.9 696.4,1091.1 704.4,1084.4 712.4,1077.7 720.4,1070.9 728.4,1064.2 736.4,1057.5 744.4,1050.7 752.4,1044.0 760.4,1037.3 768.4,1030.5 776.4,1023.8 784.4,1017.1 792.4,1010.3 800.4,1003.6 808.4,996.9 816.4,990.1 824.4,983.4 832.4,976.7 840.4,970.0 848.4,963.3 856.4,956.6 864.4,949.8 872.4,943.1 880.4,936.4 888.4,929.7 896.4,923.0 904.4,916.3 912.4,909.6 920.4,902.8 928.4,896.1 936.4,889.4 944.4,882.7 952.4,876.0 960.4,869.3 968.4,862.6 976.4,855.9 984.4,849.2 992.4,842.5 1000.4,835.8 1008.4,829.1 1016.4,822.4 1024.4,815.7 1032.4,809.0 1040.4,802.3 1048.4,795.6 1056.4,789.0 1064.4,782.5 1072.4,775.9 1080.4,769.4 1088.4,763.0 1096.4,756.5 1104.4,750.0 1112.4,743.4 1120.4,736.8 1128.4,730.2 1136.4,723.7 1144.4,717.1 1152.4,710.5 1160.4,703.8 1168.4,697.2 1176.4,690.6 1184.4,683.9 1192.4,677.3 1200.4,670.6 1208.4,664.1 1216.4,657.5 1224.4,650.9 1232.4,644.3 1240.4,637.7 1248.4,631.1 1256.4,624.4 1264.4,617.8 1272.4,611.1 1280.4,604.5 1288.4,597.8 1296.4,591.2 1304.4,584.5 1312.4,577.8 1320.4,571.0 1328.4,564.3 1336.4,557.6 1344.4,550.9 1352.4,544.2 1360.4,537.4 1368.4,530.7 1376.4,524.0 1384.4,517.2 1392.4,510.5 1400.4,503.8 1408.4,497.1 1416.4,490.5 1424.4,483.8 1432.4,477.1 1440.4,470.5 1448.4,463.8 1456.4,457.1 1464.4,450.5 1472.4,443.8 1480.4,437.2 1488.4,430.5 1496.4,423.8 1504.4,417.2 1512.4,410.5 1520.4,403.8 1528.4,397.1 1536.4,390.5 1544.4,383.8 1552.4,377.1 1560.4,370.5 1568.4,363.8 1576.4,357.1 1584.4,350.4 1592.4,343.8 1600.4,337.1 1608.4,330.4 1616.4,323.7 1624.4,317.0 1632.4,310.2 1640.4,303.5 1648.4,296.8 1656.4,290.1 1664.4,283.3 1672.4,276.5 1680.4,269.7 1688.4,263.0 1696.4,256.2 1704.4,249.4 1712.4,242.7 1720.4,235.9 1728.4,229.2 1736.4,222.4 1744.4,215.6 1752.4,208.9 1760.4,202.3 1768.4,195.6 1776.4,189.0 1784.4,182.4 1792.4,175.9 1800.4,169.4 1808.4,162.8 1816.4,156.3 1824.4,149.8 1832.4,143.3 1840.4,136.7 1848.4,130.1 1856.4,123.6 1864.4,117.0 1867.0,114.9 1867.0,117.0 1864.4,119.1 1856.4,125.7 1848.4,132.4 1840.4,139.0 1832.4,145.6 1824.4,152.2 1816.4,158.8 1808.4,165.4 1800.4,172.0 1792.4,178.6 1784.4,185.3 1776.4,192.0 1768.4,198.7 1760.4,205.3 1752.4,212.0 1744.4,218.7 1736.4,225.4 1728.4,232.1 1720.4,238.7 1712.4,245.4 1704.4,252.1 1696.4,258.8 1688.4,265.4 1680.4,272.1 1672.4,278.8 1664.4,285.5 1656.4,292.1 1648.4,298.8 1640.4,305.5 1632.4,312.2 1624.4,318.8 1616.4,325.5 1608.4,332.2 1600.4,338.9 1592.4,345.5 1584.4,352.2 1576.4,358.9 1568.4,365.6 1560.4,372.2 1552.4,378.9 1544.4,385.6 1536.4,392.3 1528.4,398.9 1520.4,405.6 1512.4,412.3 1504.4,419.0 1496.4,425.6 1488.4,432.3 1480.4,439.0 1472.4,445.7 1464.4,452.3 1456.4,459.0 1448.4,465.7 1440.4,472.4 1432.4,479.0 1424.4,485.7 1416.4,492.4 1408.4,499.1 1400.4,505.7 1392.4,512.4 1384.4,519.1 1376.4,525.8 1368.4,532.4 1360.4,539.1 1352.4,545.8 1344.4,552.5 1336.4,559.1 1328.4,565.8 1320.4,572.5 1312.4,579.2 1304.4,585.8 1296.4,592.5 1288.4,599.2 1280.4,605.9 1272.4,612.5 1264.4,619.2 1256.4,625.9 1248.4,632.6 1240.4,639.2 1232.4,645.9 1224.4,652.6 1216.4,659.3 1208.4,665.9 1200.4,672.6 1192.4,679.3 1184.4,686.0 1176.4,692.6 1168.4,699.3 1160.4,706.0 1152.4,712.7 1144.4,719.3 1136.4,726.0 1128.4,732.7 1120.4,739.4 1112.4,746.1 1104.4,752.7 1096.4,759.4 1088.4,766.1 1080.4,772.8 1072.4,779.4 1064.4,786.1 1056.4,792.8 1048.4,799.5 1040.4,806.1 1032.4,812.8 1024.4,819.5 1016.4,826.2 1008.4,832.8 1000.4,839.5 992.4,846.2 984.4,852.9 976.4,859.5 968.4,866.2 960.4,872.9 952.4,879.6 944.4,886.2 936.4,892.9 928.4,899.6 920.4,906.3 912.4,912.9 904.4,919.6 896.4,926.3 888.4,933.0 880.4,939.6 872.4,946.3 864.4,953.0 856.4,959.7 848.4,966.3 840.4,973.0 832.4,979.7 824.4,986.4 816.4,993.0 808.4,999.7 800.4,1006.4 792.4,1013.1 784.4,1019.7 776.4,1026.4 768.4,1033.1 760.4,1039.8 752.4,1046.4 744.4,1053.1 736.4,1059.8 728.4,1066.5 720.4,1073.1 712.4,1079.8 704.4,1086.5 696.4,1093.2 688.4,1099.8 680.4,1106.5 672.4,1113.2 664.4,1119.9 656.4,1126.5 648.4,1133.2 640.4,1139.9 632.4,1146.6 624.4,1153.2 618.4,1158.3 616.4,1159.9 614.4,1161.6 612.4,1163.3 610.4,1164.9 608.4,1166.6 606.4,1168.3 604.4,1169.9 602.4,1171.6 600.4,1173.3 598.4,1174.9 596.4,1176.6 594.4,1178.3 592.4,1179.9 590.4,1181.6 588.4,1183.3 586.4,1185.0 584.4,1186.6 582.4,1188.3 580.4,1190.0 578.4,1191.6 576.4,1193.3 574.4,1195.0 572.4,1196.6 570.4,1198.3 568.4,1200.0 566.4,1201.6 564.4,1203.3 562.4,1205.0 560.4,1206.6 558.4,1208.3 556.4,1210.0 554.4,1211.7 552.4,1213.3 550.4,1215.0 548.4,1216.7 546.4,1218.3 544.4,1220.0 542.4,1221.7 540.4,1223.3 538.4,1225.0 536.4,1226.7 534.4,1228.3 532.4,1230.0 530.4,1231.7 528.4,1233.3 526.4,1235.0 524.4,1236.7 522.4,1238.4 520.4,1240.0 518.4,1241.7 516.4,1243.4 514.4,1245.0 512.4,1235.0 510.4,1236.5 508.4,1237.9 506.4,1239.3 504.4,1240.7 502.4,1241.9 500.4,1243.2 498.4,1244.5 496.4,1245.7 494.4,1247.0 492.4,1248.3 490.4,1249.5 488.4,1250.8 486.4,1252.0 484.4,1253.0 482.4,1254.1 480.4,1255.2 478.4,1256.3 476.4,1257.4 474.4,1258.5 472.4,1259.5 470.4,1260.6 468.4,1261.7 466.4,1262.8 464.4,1263.9 462.4,1264.9 460.4,1266.0 458.4,1267.1 456.4,1268.1 454.4,1269.2 452.4,1270.3 450.4,1271.3 448.4,1272.4 446.4,1273.5 444.4,1274.5 442.4,1275.6 440.4,1276.5 438.4,1277.3 436.4,1278.2 434.4,1279.1 432.4,1279.9 430.4,1280.8 428.4,1281.7 426.4,1282.5 424.4,1283.4 422.4,1284.3 420.4,1285.1 418.4,1286.0 416.4,1286.9 414.4,1287.7 412.4,1288.6 410.4,1289.5 408.4,1290.4 406.4,1291.2 404.4,1292.1 402.4,1293.0 400.4,1293.9 398.4,1294.7 396.4,1295.3 394.4,1295.9 392.4,1296.5 390.4,1297.2 388.4,1297.8 386.4,1298.4 384.4,1299.0 382.4,1299.6 380.4,1300.2 378.4,1300.8 376.4,1301.4" fill="url(#gu9)"/>
<polygon points="376.4,1301.7 378.4,1301.1 380.4,1300.5 382.4,1299.8 384.4,1299.2 386.4,1298.6 388.4,1298.0 390.4,1297.4 392.4,1296.8 394.4,1296.2 396.4,1295.6 398.4,1295.0 400.4,1294.2 402.4,1293.3 404.4,1292.4 406.4,1291.6 408.4,1290.7 410.4,1289.9 412.4,1289.0 414.4,1288.2 416.4,1287.3 418.4,1286.4 420.4,1285.6 422.4,1284.7 424.4,1283.9 426.4,1283.0 428.4,1282.2 430.4,1281.3 432.4,1280.5 434.4,1279.6 436.4,1278.7 438.4,1277.9 440.4,1277.0 442.4,1276.2 444.4,1275.1 446.4,1274.1 448.4,1273.0 450.4,1272.0 452.4,1270.9 454.4,1269.8 456.4,1268.8 458.4,1267.7 460.4,1266.7 462.4,1265.6 464.4,1264.6 466.4,1263.5 468.4,1262.4 470.4,1261.3 472.4,1260.2 474.4,1259.1 476.4,1258.0 478.4,1257.0 480.4,1255.9 482.4,1254.8 484.4,1253.7 486.4,1252.6 488.4,1251.5 490.4,1250.2 492.4,1248.9 494.4,1247.7 496.4,1246.4 498.4,1245.2 500.4,1243.9 502.4,1242.7 504.4,1241.4 506.4,1240.0 508.4,1238.6 510.4,1237.2 512.4,1235.7 514.4,1245.0 516.4,1243.4 518.4,1241.7 520.4,1240.0 522.4,1238.4 524.4,1236.7 526.4,1235.0 528.4,1233.3 530.4,1231.7 532.4,1230.0 534.4,1228.3 536.4,1226.7 538.4,1225.0 540.4,1223.3 542.4,1221.7 544.4,1220.0 546.4,1218.3 548.4,1216.7 550.4,1215.0 552.4,1213.3 554.4,1211.7 556.4,1210.0 558.4,1208.3 560.4,1206.6 562.4,1205.0 564.4,1203.3 566.4,1201.6 568.4,1200.0 570.4,1198.3 572.4,1196.6 574.4,1195.0 576.4,1193.3 578.4,1191.6 580.4,1190.0 582.4,1188.3 584.4,1186.6 586.4,1185.0 588.4,1183.3 590.4,1181.6 592.4,1179.9 594.4,1178.3 596.4,1176.6 598.4,1174.9 600.4,1173.3 602.4,1171.6 604.4,1169.9 606.4,1168.3 608.4,1166.6 610.4,1165.0 612.4,1163.3 614.4,1161.6 616.4,1160.0 618.4,1158.3 624.4,1153.3 632.4,1146.7 640.4,1140.0 648.4,1133.4 656.4,1126.7 664.4,1120.1 672.4,1113.4 680.4,1106.8 688.4,1100.2 696.4,1093.5 704.4,1086.9 712.4,1080.2 720.4,1073.6 728.4,1066.9 736.4,1060.3 744.4,1053.6 752.4,1047.0 760.4,1040.3 768.4,1033.7 776.4,1027.0 784.4,1020.4 792.4,1013.7 800.4,1007.1 808.4,1000.4 816.4,993.8 824.4,987.1 832.4,980.5 840.4,973.8 848.4,967.1 856.4,960.5 864.4,953.8 872.4,947.2 880.4,940.5 888.4,933.8 896.4,927.2 904.4,920.5 912.4,913.9 920.4,907.2 928.4,900.6 936.4,893.9 944.4,887.2 952.4,880.6 960.4,873.9 968.4,867.3 976.4,860.6 984.4,854.0 992.4,847.3 1000.4,840.7 1008.4,834.0 1016.4,827.3 1024.4,820.6 1032.4,814.0 1040.4,807.3 1048.4,800.6 1056.4,794.0 1064.4,787.3 1072.4,780.6 1080.4,773.9 1088.4,767.3 1096.4,760.6 1104.4,753.9 1112.4,747.3 1120.4,740.7 1128.4,734.0 1136.4,727.4 1144.4,720.8 1152.4,714.1 1160.4,707.5 1168.4,700.9 1176.4,694.2 1184.4,687.6 1192.4,681.0 1200.4,674.3 1208.4,667.6 1216.4,660.8 1224.4,654.1 1232.4,647.3 1240.4,640.6 1248.4,634.0 1256.4,627.4 1264.4,620.7 1272.4,614.1 1280.4,607.5 1288.4,600.9 1296.4,594.2 1304.4,587.6 1312.4,580.9 1320.4,574.3 1328.4,567.6 1336.4,560.9 1344.4,554.3 1352.4,547.6 1360.4,540.9 1368.4,534.3 1376.4,527.6 1384.4,520.9 1392.4,514.2 1400.4,507.6 1408.4,500.9 1416.4,494.2 1424.4,487.5 1432.4,480.8 1440.4,474.1 1448.4,467.4 1456.4,460.7 1464.4,454.0 1472.4,447.3 1480.4,440.6 1488.4,433.9 1496.4,427.2 1504.4,420.6 1512.4,413.9 1520.4,407.2 1528.4,400.6 1536.4,393.9 1544.4,387.2 1552.4,380.6 1560.4,373.9 1568.4,367.2 1576.4,360.6 1584.4,353.9 1592.4,347.2 1600.4,340.6 1608.4,333.9 1616.4,327.3 1624.4,320.6 1632.4,313.9 1640.4,307.3 1648.4,300.6 1656.4,294.0 1664.4,287.4 1672.4,280.8 1680.4,274.2 1688.4,267.6 1696.4,261.0 1704.4,254.3 1712.4,247.5 1720.4,240.8 1728.4,234.0 1736.4,227.3 1744.4,220.3 1752.4,213.5 1760.4,206.8 1768.4,200.0 1776.4,193.3 1784.4,186.6 1792.4,180.0 1800.4,173.4 1808.4,166.8 1816.4,160.2 1824.4,153.7 1832.4,147.1 1840.4,140.5 1848.4,133.9 1856.4,127.3 1864.4,120.7 1867.0,118.6 1867.0,117.0 1864.4,119.1 1856.4,125.7 1848.4,132.4 1840.4,139.0 1832.4,145.6 1824.4,152.2 1816.4,158.8 1808.4,165.4 1800.4,172.0 1792.4,178.6 1784.4,185.3 1776.4,192.0 1768.4,198.7 1760.4,205.3 1752.4,212.0 1744.4,218.7 1736.4,225.4 1728.4,232.1 1720.4,238.7 1712.4,245.4 1704.4,252.1 1696.4,258.8 1688.4,265.4 1680.4,272.1 1672.4,278.8 1664.4,285.5 1656.4,292.1 1648.4,298.8 1640.4,305.5 1632.4,312.2 1624.4,318.8 1616.4,325.5 1608.4,332.2 1600.4,338.9 1592.4,345.5 1584.4,352.2 1576.4,358.9 1568.4,365.6 1560.4,372.2 1552.4,378.9 1544.4,385.6 1536.4,392.3 1528.4,398.9 1520.4,405.6 1512.4,412.3 1504.4,419.0 1496.4,425.6 1488.4,432.3 1480.4,439.0 1472.4,445.7 1464.4,452.3 1456.4,459.0 1448.4,465.7 1440.4,472.4 1432.4,479.0 1424.4,485.7 1416.4,492.4 1408.4,499.1 1400.4,505.7 1392.4,512.4 1384.4,519.1 1376.4,525.8 1368.4,532.4 1360.4,539.1 1352.4,545.8 1344.4,552.5 1336.4,559.1 1328.4,565.8 1320.4,572.5 1312.4,579.2 1304.4,585.8 1296.4,592.5 1288.4,599.2 1280.4,605.9 1272.4,612.5 1264.4,619.2 1256.4,625.9 1248.4,632.6 1240.4,639.2 1232.4,645.9 1224.4,652.6 1216.4,659.3 1208.4,665.9 1200.4,672.6 1192.4,679.3 1184.4,686.0 1176.4,692.6 1168.4,699.3 1160.4,706.0 1152.4,712.7 1144.4,719.3 1136.4,726.0 1128.4,732.7 1120.4,739.4 1112.4,746.1 1104.4,752.7 1096.4,759.4 1088.4,766.1 1080.4,772.8 1072.4,779.4 1064.4,786.1 1056.4,792.8 1048.4,799.5 1040.4,806.1 1032.4,812.8 1024.4,819.5 1016.4,826.2 1008.4,832.8 1000.4,839.5 992.4,846.2 984.4,852.9 976.4,859.5 968.4,866.2 960.4,872.9 952.4,879.6 944.4,886.2 936.4,892.9 928.4,899.6 920.4,906.3 912.4,912.9 904.4,919.6 896.4,926.3 888.4,933.0 880.4,939.6 872.4,946.3 864.4,953.0 856.4,959.7 848.4,966.3 840.4,973.0 832.4,979.7 824.4,986.4 816.4,993.0 808.4,999.7 800.4,1006.4 792.4,1013.1 784.4,1019.7 776.4,1026.4 768.4,1033.1 760.4,1039.8 752.4,1046.4 744.4,1053.1 736.4,1059.8 728.4,1066.5 720.4,1073.1 712.4,1079.8 704.4,1086.5 696.4,1093.2 688.4,1099.8 680.4,1106.5 672.4,1113.2 664.4,1119.9 656.4,1126.5 648.4,1133.2 640.4,1139.9 632.4,1146.6 624.4,1153.2 618.4,1158.3 616.4,1159.9 614.4,1161.6 612.4,1163.3 610.4,1164.9 608.4,1166.6 606.4,1168.3 604.4,1169.9 602.4,1171.6 600.4,1173.3 598.4,1174.9 596.4,1176.6 594.4,1178.3 592.4,1179.9 590.4,1181.6 588.4,1183.3 586.4,1185.0 584.4,1186.6 582.4,1188.3 580.4,1190.0 578.4,1191.6 576.4,1193.3 574.4,1195.0 572.4,1196.6 570.4,1198.3 568.4,1200.0 566.4,1201.6 564.4,1203.3 562.4,1205.0 560.4,1206.6 558.4,1208.3 556.4,1210.0 554.4,1211.7 552.4,1213.3 550.4,1215.0 548.4,1216.7 546.4,1218.3 544.4,1220.0 542.4,1221.7 540.4,1223.3 538.4,1225.0 536.4,1226.7 534.4,1228.3 532.4,1230.0 530.4,1231.7 528.4,1233.3 526.4,1235.0 524.4,1236.7 522.4,1238.4 520.4,1240.0 518.4,1241.7 516.4,1243.4 514.4,1245.0 512.4,1235.0 510.4,1236.5 508.4,1237.9 506.4,1239.3 504.4,1240.7 502.4,1241.9 500.4,1243.2 498.4,1244.5 496.4,1245.7 494.4,1247.0 492.4,1248.3 490.4,1249.5 488.4,1250.8 486.4,1252.0 484.4,1253.0 482.4,1254.1 480.4,1255.2 478.4,1256.3 476.4,1257.4 474.4,1258.5 472.4,1259.5 470.4,1260.6 468.4,1261.7 466.4,1262.8 464.4,1263.9 462.4,1264.9 460.4,1266.0 458.4,1267.1 456.4,1268.1 454.4,1269.2 452.4,1270.3 450.4,1271.3 448.4,1272.4 446.4,1273.5 444.4,1274.5 442.4,1275.6 440.4,1276.5 438.4,1277.3 436.4,1278.2 434.4,1279.1 432.4,1279.9 430.4,1280.8 428.4,1281.7 426.4,1282.5 424.4,1283.4 422.4,1284.3 420.4,1285.1 418.4,1286.0 416.4,1286.9 414.4,1287.7 412.4,1288.6 410.4,1289.5 408.4,1290.4 406.4,1291.2 404.4,1292.1 402.4,1293.0 400.4,1293.9 398.4,1294.7 396.4,1295.3 394.4,1295.9 392.4,1296.5 390.4,1297.2 388.4,1297.8 386.4,1298.4 384.4,1299.0 382.4,1299.6 380.4,1300.2 378.4,1300.8 376.4,1301.4" fill="url(#gl9)"/>
<path d="M358.4,1306.1 L367,1304.4 L377.5,1301.0" stroke="#000" stroke-width="3.2" stroke-linecap="round" fill="none"/>
<polyline points="356.8,1377.3 380.0,1357.7 420.0,1323.8 460.0,1290.4 500.0,1257.0 540.0,1223.7 580.0,1190.3 620.0,1156.9 660.0,1123.5 700.0,1090.2 740.0,1056.8 780.0,1023.4 820.0,990.0 860.0,956.7 900.0,923.3 940.0,889.9 980.0,856.5 1020.0,823.2 1060.0,789.8 1100.0,756.4 1140.0,723.0 1180.0,689.6 1220.0,656.3 1260.0,622.9 1300.0,589.5 1340.0,556.1 1380.0,522.8 1420.0,489.4 1460.0,456.0 1500.0,422.6 1540.0,389.3 1580.0,355.9 1620.0,322.5 1660.0,289.1 1700.0,255.7 1740.0,222.4 1780.0,189.0 1820.0,155.8 1860.0,122.8 1870.0,114.5" stroke="#000" stroke-width="4.7" stroke-linecap="butt" fill="none"/>
</g>
<g clip-path="url(#clipf)"><path d="M196.8,1474.6 L209.8,1463.9 M229.5,1447.5 L242.4,1436.8 M262.1,1420.4 L275.0,1409.7 M294.7,1393.4 L307.7,1382.6 M327.4,1366.3 L340.3,1355.6 M360.0,1339.2 L372.9,1328.5 M392.6,1312.1 L405.6,1301.4 M425.3,1285.0 L438.2,1274.3 M457.9,1258.0 L470.8,1247.2 M490.5,1230.9 L503.4,1220.2 M523.1,1203.8 L536.1,1193.1 M555.8,1176.7 L568.7,1166.0 M588.4,1149.6 L601.3,1138.9 M621.0,1122.6 L634.0,1111.8 M653.7,1095.5 L666.6,1084.8 M686.3,1068.4 L699.2,1057.7 M718.9,1041.3 L731.9,1030.6 M751.6,1014.2 L764.5,1003.5 M784.2,987.2 L797.1,976.4 M816.8,960.1 L829.7,949.4 M849.4,933.0 L862.4,922.3 M882.1,905.9 L895.0,895.2 M914.7,878.8 L927.6,868.1 M947.3,851.8 L960.3,841.0 M980.0,824.7 L992.9,814.0 M1012.6,797.6 L1025.5,786.9 M1045.2,770.5 L1058.2,759.8 M1077.9,743.4 L1090.8,732.7 M1110.5,716.4 L1123.4,705.6 M1143.1,689.3 L1156.0,678.6 M1175.7,662.2 L1188.7,651.5 M1208.4,635.1 L1221.3,624.4 M1241.0,608.0 L1253.9,597.3 M1273.6,581.0 L1286.6,570.2 M1306.3,553.9 L1319.2,543.2 M1338.9,526.8 L1351.8,516.1 M1371.5,499.7 L1384.5,489.0 M1404.2,472.6 L1417.1,461.9 M1436.8,445.6 L1449.7,434.8 M1469.4,418.5 L1482.3,407.8 M1502.0,391.4 L1515.0,380.7 M1534.7,364.3 L1547.6,353.6 M1567.3,337.2 L1580.2,326.5 M1599.9,310.2 L1612.9,299.4 M1632.6,283.1 L1645.5,272.4 M1665.2,256.0 L1678.1,245.3 M1697.8,228.9 L1710.8,218.2 M1730.5,201.8 L1743.4,191.1 M1763.1,174.8 L1776.0,164.0 M1795.7,147.7 L1808.6,137.0 M1828.3,120.6 L1841.3,109.9 M1861.0,93.5 L1873.9,82.8 M196.8,1528.3 L209.8,1517.6 M229.5,1501.2 L242.4,1490.5 M262.1,1474.1 L275.0,1463.4 M294.7,1447.1 L307.7,1436.3 M327.4,1420.0 L340.3,1409.3 M360.0,1392.9 L372.9,1382.2 M392.6,1365.8 L405.6,1355.1 M425.3,1338.7 L438.2,1328.0 M457.9,1311.7 L470.8,1300.9 M490.5,1284.6 L503.4,1273.9 M523.1,1257.5 L536.1,1246.8 M555.8,1230.4 L568.7,1219.7 M588.4,1203.3 L601.3,1192.6 M621.0,1176.3 L634.0,1165.5 M653.7,1149.2 L666.6,1138.5 M686.3,1122.1 L699.2,1111.4 M718.9,1095.0 L731.9,1084.3 M751.6,1067.9 L764.5,1057.2 M784.2,1040.9 L797.1,1030.1 M816.8,1013.8 L829.7,1003.1 M849.4,986.7 L862.4,976.0 M882.1,959.6 L895.0,948.9 M914.7,932.5 L927.6,921.8 M947.3,905.5 L960.3,894.7 M980.0,878.4 L992.9,867.7 M1012.6,851.3 L1025.5,840.6 M1045.2,824.2 L1058.2,813.5 M1077.9,797.1 L1090.8,786.4 M1110.5,770.1 L1123.4,759.3 M1143.1,743.0 L1156.0,732.3 M1175.7,715.9 L1188.7,705.2 M1208.4,688.8 L1221.3,678.1 M1241.0,661.7 L1253.9,651.0 M1273.6,634.7 L1286.6,623.9 M1306.3,607.6 L1319.2,596.9 M1338.9,580.5 L1351.8,569.8 M1371.5,553.4 L1384.5,542.7 M1404.2,526.3 L1417.1,515.6 M1436.8,499.3 L1449.7,488.5 M1469.4,472.2 L1482.3,461.5 M1502.0,445.1 L1515.0,434.4 M1534.7,418.0 L1547.6,407.3 M1567.3,390.9 L1580.2,380.2 M1599.9,363.9 L1612.9,353.1 M1632.6,336.8 L1645.5,326.1 M1665.2,309.7 L1678.1,299.0 M1697.8,282.6 L1710.8,271.9 M1730.5,255.5 L1743.4,244.8 M1763.1,228.5 L1776.0,217.7 M1795.7,201.4 L1808.6,190.7 M1828.3,174.3 L1841.3,163.6 M1861.0,147.2 L1873.9,136.5" stroke="#000" stroke-width="3.4" fill="none"/></g>
<rect x="263.5" y="102.0" width="1614.5" height="1372.8" fill="none" stroke="#000" stroke-width="4.6"/>
<path d="M323.8,1474.8 V1450.3 M636.6,1474.8 V1450.3 M949.6,1474.8 V1450.3 M1262.6,1474.8 V1450.3 M1575.8,1474.8 V1450.3 M263.5,364.3 H288.0 M263.5,629.1 H288.0 M263.5,893.9 H288.0 M263.5,1158.7 H288.0 M263.5,1423.5 H288.0" stroke="#000" stroke-width="4.4" fill="none"/>
<text transform="translate(124.3,382.2) scale(1.25,1)" font-size="68.0" text-anchor="start">−</text><text x="168.5" y="384.6" font-size="68.0" text-anchor="start">30</text>
<text transform="translate(124.3,647.0) scale(1.25,1)" font-size="68.0" text-anchor="start">−</text><text x="168.5" y="649.4" font-size="68.0" text-anchor="start">60</text>
<text transform="translate(124.3,911.8) scale(1.25,1)" font-size="68.0" text-anchor="start">−</text><text x="168.5" y="914.2" font-size="68.0" text-anchor="start">90</text>
<text transform="translate(90.3,1176.6) scale(1.25,1)" font-size="68.0" text-anchor="start">−</text><text x="134.5" y="1179.0" font-size="68.0" text-anchor="start">120</text>
<text transform="translate(90.3,1441.4) scale(1.25,1)" font-size="68.0" text-anchor="start">−</text><text x="134.5" y="1443.8" font-size="68.0" text-anchor="start">150</text>
<text x="227.5" y="159.0" font-size="73.0" text-anchor="end" >0</text>
<text transform="translate(239.5,1552.3) scale(1.25,1)" font-size="68.0" text-anchor="start">−</text><text x="283.7" y="1552.9" font-size="68.0" text-anchor="start">150</text>
<text transform="translate(552.0,1552.3) scale(1.25,1)" font-size="68.0" text-anchor="start">−</text><text x="596.2" y="1552.9" font-size="68.0" text-anchor="start">120</text>
<text transform="translate(883.5,1552.3) scale(1.25,1)" font-size="68.0" text-anchor="start">−</text><text x="927.7" y="1552.9" font-size="68.0" text-anchor="start">90</text>
<text transform="translate(1196.3,1552.3) scale(1.25,1)" font-size="68.0" text-anchor="start">−</text><text x="1240.5" y="1552.9" font-size="68.0" text-anchor="start">60</text>
<text transform="translate(1508.4,1552.3) scale(1.25,1)" font-size="68.0" text-anchor="start">−</text><text x="1552.6" y="1552.9" font-size="68.0" text-anchor="start">30</text>
<text x="1859.5" y="1551.0" font-size="73.0" text-anchor="middle" >0</text>
<text transform="translate(1063.7,1626.2) scale(1,1.03)" font-size="72.9" text-anchor="middle">Actural Deformation (mm/yr)</text>
<text transform="translate(77.8,764.2) rotate(-90) scale(1,1.04)" font-size="72.9" text-anchor="middle">Predicted Deformation (mm/yr)</text>
<text x="1627.3" y="1201.0" font-size="71.0" text-anchor="middle" >y=0.98x+0.18</text>
<text x="1627.3" y="1299.7" font-size="71" text-anchor="middle">R<tspan font-size="48" dy="-29">2</tspan><tspan dy="29">=0.99</tspan></text>
<text x="1629.0" y="1388.0" font-size="57.6" text-anchor="middle" >RMSE=1.01mm/yr</text>
<rect x="1908" y="101" width="74" height="1374" fill="url(#cb)" stroke="#1c1616" stroke-width="2.4"/>
<text transform="translate(1971.5,719) rotate(-90)" font-size="72" font-weight="bold" text-anchor="middle">Number</text>
<text x="2020.5" y="280.2" font-size="72.0" text-anchor="start" >10</text>
<text x="2017.5" y="651.8" font-size="72.0" text-anchor="start" >7.5</text>
<text x="2032.5" y="950.0" font-size="72.0" text-anchor="start" >5</text>
<text x="2021.5" y="1230.5" font-size="71.0" text-anchor="start" >2.5</text>
<text x="1904.5" y="73.3" font-size="72" text-anchor="start">×10<tspan font-size="51" dy="-28.2">5</tspan></text>
</svg>
</body></html>
